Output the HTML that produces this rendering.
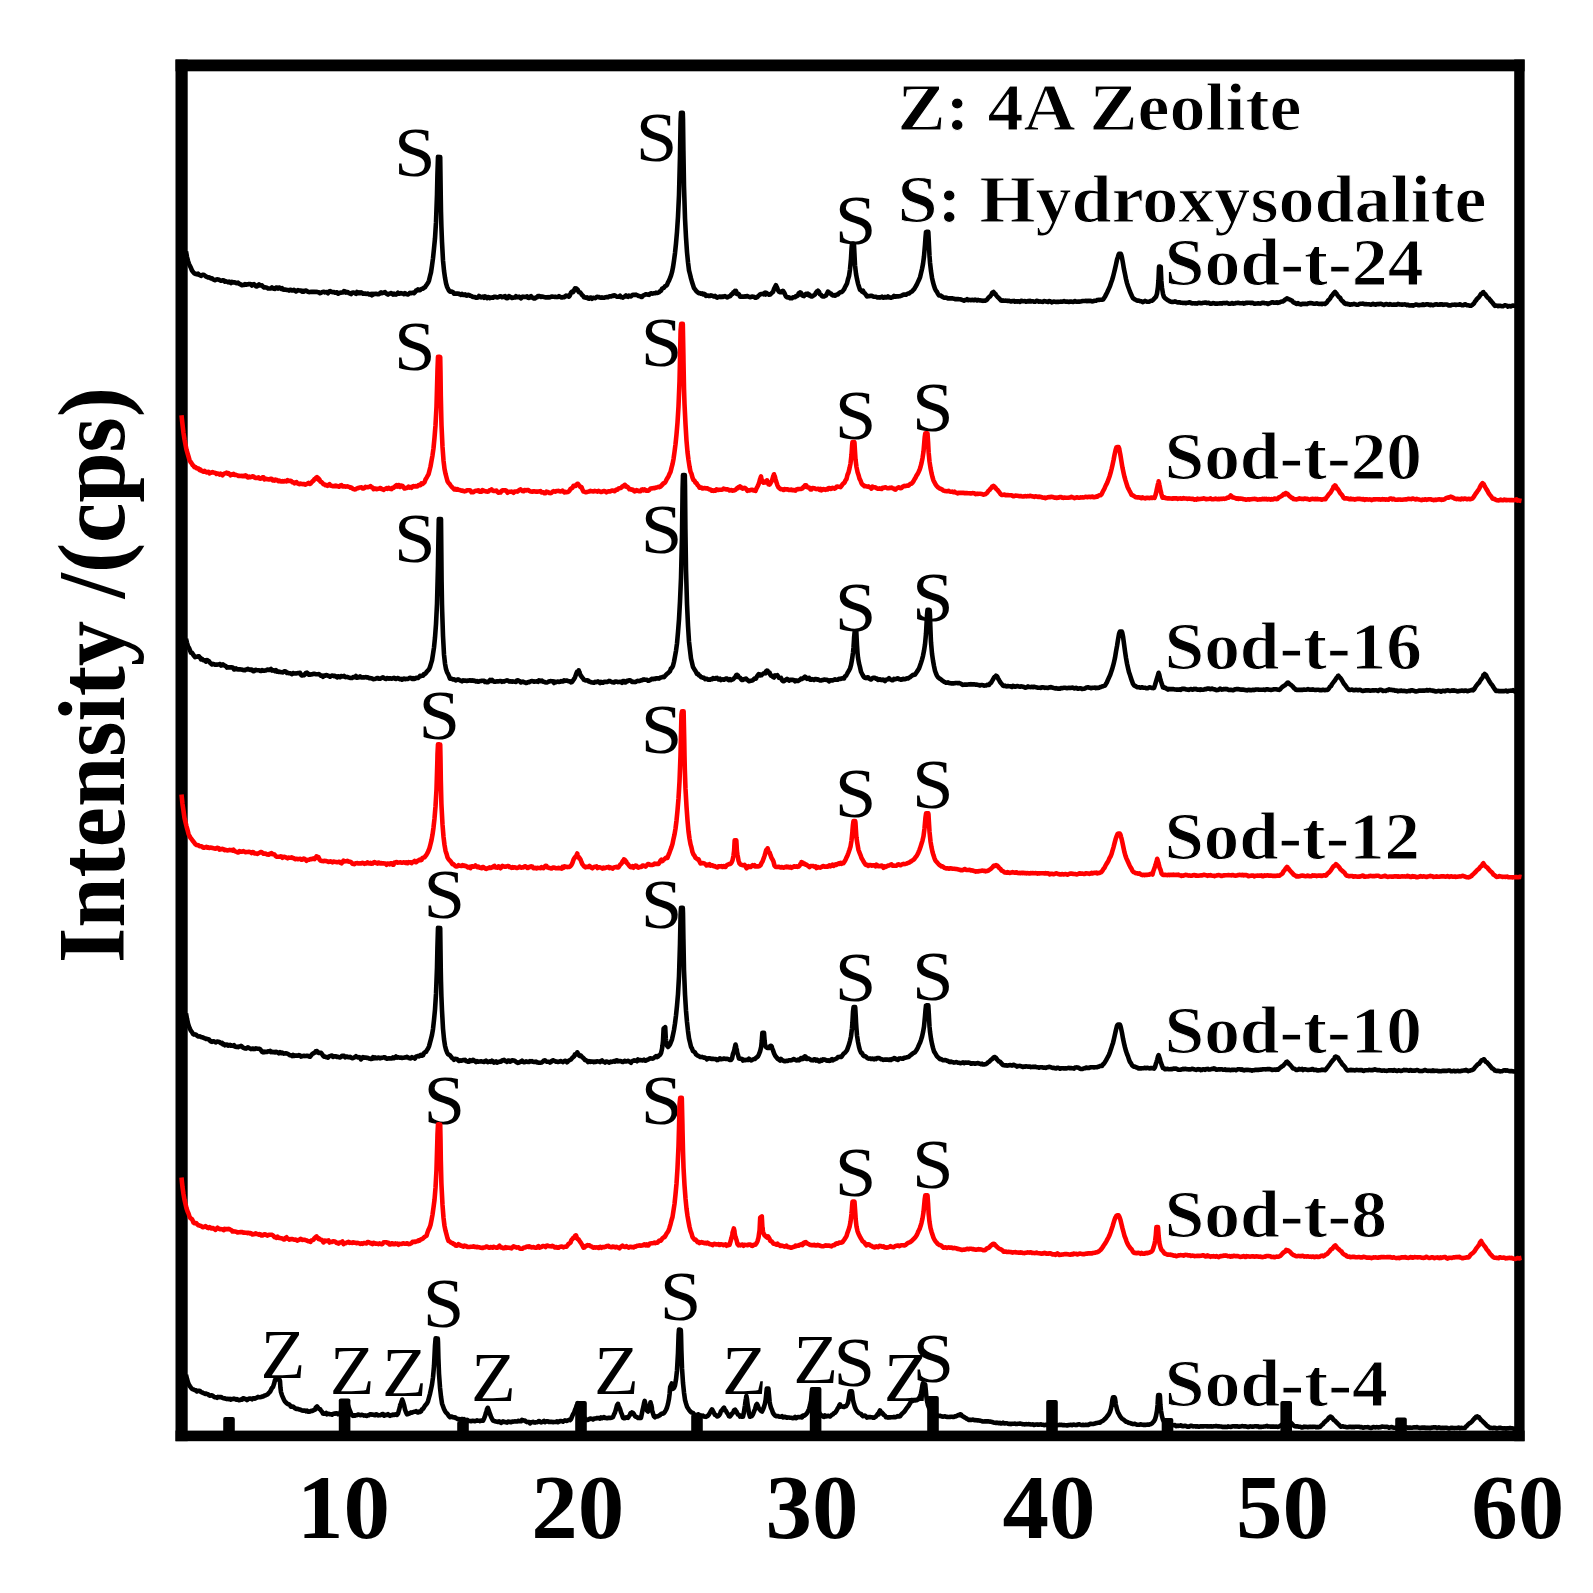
<!DOCTYPE html>
<html lang="en">
<head>
<meta charset="utf-8">
<title>XRD patterns</title>
<style>
html,body{margin:0;padding:0;background:#fff;}
body{width:1593px;height:1593px;overflow:hidden;}
svg{display:block;filter:blur(0.6px);}
</style>
</head>
<body>
<svg width="1593" height="1593" viewBox="0 0 1593 1593">
<rect width="1593" height="1593" fill="#fff"/>
<g fill="#000">
<rect x="175.5" y="59.5" width="1349.1" height="11.8"/>
<rect x="175.5" y="1430.6" width="1349.1" height="10.6"/>
<rect x="175.5" y="59.5" width="12.2" height="1381.7"/>
<rect x="1514.2" y="59.5" width="10.4" height="1381.7"/>
<path d="M223.2 1432 V1419.0 q0 -2 2 -2 h7.6 q2 0 2 2 V1432z"/>
<path d="M338.8 1432 V1400.5 q0 -2 2 -2 h7.6 q2 0 2 2 V1432z"/>
<path d="M457.2 1432 V1423.0 q0 -2 2 -2 h7.6 q2 0 2 2 V1432z"/>
<path d="M575.2 1432 V1403.0 q0 -2 2 -2 h7.6 q2 0 2 2 V1432z"/>
<path d="M691.2 1432 V1416.0 q0 -2 2 -2 h7.6 q2 0 2 2 V1432z"/>
<path d="M809.8 1432 V1389.0 q0 -2 2 -2 h7.6 q2 0 2 2 V1432z"/>
<path d="M927.2 1432 V1398.0 q0 -2 2 -2 h7.6 q2 0 2 2 V1432z"/>
<path d="M1046.2 1432 V1402.0 q0 -2 2 -2 h7.6 q2 0 2 2 V1432z"/>
<path d="M1161.7 1432 V1420.0 q0 -2 2 -2 h7.6 q2 0 2 2 V1432z"/>
<path d="M1280.4 1432 V1403.0 q0 -2 2 -2 h7.6 q2 0 2 2 V1432z"/>
<path d="M1395.2 1432 V1419.5 q0 -2 2 -2 h7.6 q2 0 2 2 V1432z"/>
</g>
<g font-family="'Liberation Serif', 'Times New Roman', serif" fill="#000">
<text x="394.0" y="175.7" font-size="70.0" font-weight="normal" textLength="41.6" lengthAdjust="spacingAndGlyphs">S</text>
<text x="635.8" y="161.4" font-size="70.0" font-weight="normal" textLength="41.6" lengthAdjust="spacingAndGlyphs">S</text>
<text x="834.7" y="243.5" font-size="70.0" font-weight="normal" textLength="41.6" lengthAdjust="spacingAndGlyphs">S</text>
<text x="394.0" y="369.7" font-size="70.0" font-weight="normal" textLength="41.6" lengthAdjust="spacingAndGlyphs">S</text>
<text x="640.7" y="365.9" font-size="70.0" font-weight="normal" textLength="41.6" lengthAdjust="spacingAndGlyphs">S</text>
<text x="834.7" y="439.4" font-size="70.0" font-weight="normal" textLength="41.6" lengthAdjust="spacingAndGlyphs">S</text>
<text x="911.9" y="431.1" font-size="70.0" font-weight="normal" textLength="41.6" lengthAdjust="spacingAndGlyphs">S</text>
<text x="394.0" y="561.8" font-size="70.0" font-weight="normal" textLength="41.6" lengthAdjust="spacingAndGlyphs">S</text>
<text x="640.7" y="553.1" font-size="70.0" font-weight="normal" textLength="41.6" lengthAdjust="spacingAndGlyphs">S</text>
<text x="834.7" y="630.7" font-size="70.0" font-weight="normal" textLength="41.6" lengthAdjust="spacingAndGlyphs">S</text>
<text x="911.9" y="620.9" font-size="70.0" font-weight="normal" textLength="41.6" lengthAdjust="spacingAndGlyphs">S</text>
<text x="418.5" y="738.8" font-size="70.0" font-weight="normal" textLength="41.6" lengthAdjust="spacingAndGlyphs">S</text>
<text x="640.7" y="752.7" font-size="70.0" font-weight="normal" textLength="41.6" lengthAdjust="spacingAndGlyphs">S</text>
<text x="834.7" y="816.7" font-size="70.0" font-weight="normal" textLength="41.6" lengthAdjust="spacingAndGlyphs">S</text>
<text x="911.9" y="807.7" font-size="70.0" font-weight="normal" textLength="41.6" lengthAdjust="spacingAndGlyphs">S</text>
<text x="423.4" y="918.4" font-size="70.0" font-weight="normal" textLength="41.6" lengthAdjust="spacingAndGlyphs">S</text>
<text x="640.7" y="928.2" font-size="70.0" font-weight="normal" textLength="41.6" lengthAdjust="spacingAndGlyphs">S</text>
<text x="834.7" y="1000.6" font-size="70.0" font-weight="normal" textLength="41.6" lengthAdjust="spacingAndGlyphs">S</text>
<text x="911.9" y="999.8" font-size="70.0" font-weight="normal" textLength="41.6" lengthAdjust="spacingAndGlyphs">S</text>
<text x="423.4" y="1124.1" font-size="70.0" font-weight="normal" textLength="41.6" lengthAdjust="spacingAndGlyphs">S</text>
<text x="640.7" y="1124.1" font-size="70.0" font-weight="normal" textLength="41.6" lengthAdjust="spacingAndGlyphs">S</text>
<text x="834.7" y="1196.4" font-size="70.0" font-weight="normal" textLength="41.6" lengthAdjust="spacingAndGlyphs">S</text>
<text x="911.9" y="1188.1" font-size="70.0" font-weight="normal" textLength="41.6" lengthAdjust="spacingAndGlyphs">S</text>
<text x="422.8" y="1326.9" font-size="70.0" font-weight="normal" textLength="41.6" lengthAdjust="spacingAndGlyphs">S</text>
<text x="659.7" y="1319.8" font-size="70.0" font-weight="normal" textLength="41.6" lengthAdjust="spacingAndGlyphs">S</text>
<text x="833.4" y="1385.7" font-size="70.0" font-weight="normal" textLength="41.6" lengthAdjust="spacingAndGlyphs">S</text>
<text x="912.5" y="1382.0" font-size="70.0" font-weight="normal" textLength="41.6" lengthAdjust="spacingAndGlyphs">S</text>
<text x="260.6" y="1378.0" font-size="70.0" font-weight="normal" textLength="44.9" lengthAdjust="spacingAndGlyphs">Z</text>
<text x="329.8" y="1394.0" font-size="70.0" font-weight="normal" textLength="44.9" lengthAdjust="spacingAndGlyphs">Z</text>
<text x="382.1" y="1396.0" font-size="70.0" font-weight="normal" textLength="44.9" lengthAdjust="spacingAndGlyphs">Z</text>
<text x="471.1" y="1400.7" font-size="70.0" font-weight="normal" textLength="44.9" lengthAdjust="spacingAndGlyphs">Z</text>
<text x="594.1" y="1394.2" font-size="70.0" font-weight="normal" textLength="44.9" lengthAdjust="spacingAndGlyphs">Z</text>
<text x="722.1" y="1394.2" font-size="70.0" font-weight="normal" textLength="44.9" lengthAdjust="spacingAndGlyphs">Z</text>
<text x="793.3" y="1382.9" font-size="70.0" font-weight="normal" textLength="44.9" lengthAdjust="spacingAndGlyphs">Z</text>
<text x="883.7" y="1401.2" font-size="70.0" font-weight="normal" textLength="44.9" lengthAdjust="spacingAndGlyphs">Z</text>
<text x="897.5" y="130.4" font-size="67.0" font-weight="bold" textLength="404.0" lengthAdjust="spacingAndGlyphs" stroke="#fff" stroke-width="1.0">Z: 4A Zeolite</text>
<text x="897.5" y="221.8" font-size="67.0" font-weight="bold" textLength="589.0" lengthAdjust="spacingAndGlyphs" stroke="#fff" stroke-width="1.0">S: Hydroxysodalite</text>
<text x="1164.5" y="285.2" font-size="67.0" font-weight="bold" textLength="259.0" lengthAdjust="spacingAndGlyphs" stroke="#fff" stroke-width="1.0">Sod-t-24</text>
<text x="1164.5" y="479.0" font-size="67.0" font-weight="bold" textLength="257.5" lengthAdjust="spacingAndGlyphs" stroke="#fff" stroke-width="1.0">Sod-t-20</text>
<text x="1164.5" y="669.0" font-size="67.0" font-weight="bold" textLength="257.5" lengthAdjust="spacingAndGlyphs" stroke="#fff" stroke-width="1.0">Sod-t-16</text>
<text x="1164.5" y="859.0" font-size="67.0" font-weight="bold" textLength="255.5" lengthAdjust="spacingAndGlyphs" stroke="#fff" stroke-width="1.0">Sod-t-12</text>
<text x="1164.5" y="1053.3" font-size="67.0" font-weight="bold" textLength="257.5" lengthAdjust="spacingAndGlyphs" stroke="#fff" stroke-width="1.0">Sod-t-10</text>
<text x="1164.5" y="1237.0" font-size="67.0" font-weight="bold" textLength="222.5" lengthAdjust="spacingAndGlyphs" stroke="#fff" stroke-width="1.0">Sod-t-8</text>
<text x="1164.5" y="1406.3" font-size="67.0" font-weight="bold" textLength="223.5" lengthAdjust="spacingAndGlyphs" stroke="#fff" stroke-width="1.0">Sod-t-4</text>
<text x="297.1" y="1537.5" font-size="90.0" font-weight="bold" textLength="93.0" lengthAdjust="spacingAndGlyphs">10</text>
<text x="531.2" y="1537.5" font-size="90.0" font-weight="bold" textLength="93.0" lengthAdjust="spacingAndGlyphs">20</text>
<text x="765.5" y="1537.5" font-size="90.0" font-weight="bold" textLength="93.0" lengthAdjust="spacingAndGlyphs">30</text>
<text x="1002.4" y="1537.5" font-size="90.0" font-weight="bold" textLength="93.0" lengthAdjust="spacingAndGlyphs">40</text>
<text x="1235.9" y="1537.5" font-size="90.0" font-weight="bold" textLength="93.0" lengthAdjust="spacingAndGlyphs">50</text>
<text x="1471.2" y="1537.5" font-size="90.0" font-weight="bold" textLength="93.0" lengthAdjust="spacingAndGlyphs">60</text>
<text transform="translate(124 963) rotate(-90)" font-size="95" font-weight="bold" textLength="576" lengthAdjust="spacingAndGlyphs">Intensity /(cps)</text>
</g>
<g fill="none" stroke-width="4.6" stroke-linejoin="round" stroke-linecap="butt">
<path stroke="#000" d="M186.0 251.4 L187.0 257.0 L188.0 260.9 L189.0 264.0 L190.0 266.0 L191.0 268.1 L192.0 270.5 L193.0 271.8 L194.0 273.1 L195.0 273.6 L196.0 274.1 L197.0 274.4 L198.0 273.7 L199.0 274.7 L200.0 275.3 L201.0 275.9 L202.0 275.1 L203.0 274.7 L204.0 275.0 L205.0 275.6 L206.0 276.5 L207.0 276.9 L208.0 277.5 L209.0 277.4 L210.0 277.9 L211.0 278.4 L212.0 278.2 L213.0 279.4 L214.0 279.7 L215.0 280.2 L216.0 279.7 L217.0 279.3 L218.0 279.5 L219.0 279.8 L220.0 280.4 L221.0 280.7 L222.0 280.6 L223.0 280.3 L224.0 280.5 L225.0 281.7 L226.0 281.3 L227.0 281.8 L228.0 282.3 L229.0 281.6 L230.0 282.1 L231.0 283.1 L232.0 281.9 L233.0 282.2 L234.0 282.5 L235.0 282.4 L236.0 283.1 L237.0 283.3 L238.0 282.6 L239.0 283.6 L240.0 284.1 L241.0 284.6 L242.0 285.3 L243.0 285.1 L244.0 284.9 L245.0 284.1 L246.0 284.7 L247.0 284.4 L248.0 284.4 L249.0 284.0 L250.0 284.0 L251.0 284.2 L252.0 285.5 L253.0 284.4 L254.0 284.1 L255.0 285.0 L256.0 286.2 L257.0 286.5 L258.0 285.4 L259.0 284.4 L260.0 285.4 L261.0 285.5 L262.0 285.4 L263.0 286.6 L264.0 287.4 L265.0 287.4 L266.0 287.5 L267.0 287.7 L268.0 288.5 L269.0 288.5 L270.0 288.5 L271.0 288.5 L272.0 287.4 L273.0 288.4 L274.0 288.8 L275.0 288.9 L276.0 287.6 L277.0 287.6 L278.0 288.5 L279.0 287.5 L280.0 287.9 L281.0 288.9 L282.0 288.2 L283.0 289.5 L284.0 289.7 L285.0 289.5 L286.0 289.7 L287.0 290.0 L288.0 290.0 L289.0 290.6 L290.0 289.9 L291.0 289.8 L292.0 290.5 L293.0 290.4 L294.0 289.9 L295.0 290.7 L296.0 291.5 L297.0 290.9 L298.0 290.1 L299.0 290.4 L300.0 290.6 L301.0 290.6 L302.0 291.6 L303.0 290.8 L304.0 291.6 L305.0 290.7 L306.0 290.5 L307.0 291.1 L308.0 291.8 L309.0 292.1 L310.0 292.0 L311.0 291.9 L312.0 291.8 L313.0 292.0 L314.0 291.7 L315.0 291.8 L316.0 292.0 L317.0 291.9 L318.0 292.2 L319.0 292.3 L320.0 293.2 L321.0 292.8 L322.0 292.2 L323.0 291.9 L324.0 291.9 L325.0 292.4 L326.0 292.1 L327.0 292.3 L328.0 293.2 L329.0 291.4 L330.0 291.1 L331.0 291.6 L332.0 292.1 L333.0 292.3 L334.0 292.1 L335.0 292.6 L336.0 292.6 L337.0 292.3 L338.0 293.7 L339.0 293.4 L340.0 292.8 L341.0 292.6 L342.0 292.5 L343.0 292.5 L344.0 291.1 L345.0 291.5 L346.0 292.6 L347.0 292.0 L348.0 292.3 L349.0 293.1 L350.0 293.5 L351.0 294.1 L352.0 292.7 L353.0 292.6 L354.0 292.6 L355.0 293.2 L356.0 293.8 L357.0 292.0 L358.0 293.1 L359.0 292.3 L360.0 293.1 L361.0 292.3 L362.0 292.8 L363.0 293.7 L364.0 293.5 L365.0 293.5 L366.0 293.9 L367.0 293.8 L368.0 293.6 L369.0 294.4 L370.0 294.6 L371.0 294.0 L372.0 295.3 L373.0 293.9 L374.0 294.3 L375.0 293.8 L376.0 293.8 L377.0 294.1 L378.0 294.0 L379.0 294.2 L380.0 293.1 L381.0 292.4 L382.0 293.2 L383.0 292.8 L384.0 292.5 L385.0 292.1 L386.0 293.4 L387.0 293.9 L388.0 294.6 L389.0 293.7 L390.0 293.6 L391.0 293.0 L392.0 293.6 L393.0 294.5 L394.0 293.6 L395.0 294.4 L396.0 294.6 L397.0 294.0 L398.0 292.7 L399.0 293.8 L400.0 293.5 L401.0 293.1 L402.0 293.4 L403.0 293.6 L404.0 294.2 L405.0 293.2 L406.0 293.8 L407.0 294.2 L408.0 294.5 L409.0 293.7 L410.0 292.8 L411.0 293.2 L412.0 292.9 L413.0 292.6 L414.0 293.1 L415.0 292.3 L416.0 290.6 L417.0 290.5 L418.0 289.5 L419.0 290.2 L420.0 290.1 L421.0 289.3 L422.0 288.8 L423.0 288.7 L424.0 287.7 L425.0 287.3 L426.0 285.6 L427.0 284.3 L428.0 282.8 L429.0 280.6 L430.0 276.3 L431.0 272.4 L432.0 265.6 L433.0 258.3 L434.0 248.6 L435.0 238.3 L436.0 222.2 L437.0 194.5 L437.4 175.7 L438.0 156.9 L438.6 157.0 L439.0 156.9 L439.4 157.0 L440.0 157.0 L440.2 157.0 L440.8 199.9 L441.0 211.9 L441.4 226.5 L442.0 241.9 L443.0 260.4 L444.0 270.6 L445.0 277.7 L446.0 283.2 L447.0 286.7 L448.0 288.7 L449.0 290.6 L450.0 291.6 L451.0 291.6 L452.0 291.6 L453.0 292.2 L454.0 293.6 L455.0 293.7 L456.0 293.6 L457.0 293.8 L458.0 293.5 L459.0 294.2 L460.0 294.1 L461.0 294.9 L462.0 293.9 L463.0 294.9 L464.0 295.0 L465.0 294.3 L466.0 295.5 L467.0 295.6 L468.0 294.7 L469.0 294.9 L470.0 295.7 L471.0 295.7 L472.0 296.5 L473.0 296.9 L474.0 297.1 L475.0 297.1 L476.0 297.6 L477.0 297.6 L478.0 297.5 L479.0 296.0 L480.0 296.7 L481.0 297.4 L482.0 297.0 L483.0 296.6 L484.0 297.7 L485.0 296.4 L486.0 296.8 L487.0 298.1 L488.0 297.1 L489.0 297.3 L490.0 298.2 L491.0 297.5 L492.0 297.6 L493.0 297.8 L494.0 296.9 L495.0 296.8 L496.0 297.0 L497.0 297.4 L498.0 297.2 L499.0 296.9 L500.0 296.3 L501.0 296.3 L502.0 297.1 L503.0 297.0 L504.0 296.5 L505.0 296.2 L506.0 298.0 L507.0 298.2 L508.0 298.0 L509.0 296.1 L510.0 296.8 L511.0 297.1 L512.0 298.0 L513.0 297.8 L514.0 297.4 L515.0 297.5 L516.0 296.2 L517.0 297.1 L518.0 297.2 L519.0 296.7 L520.0 297.6 L521.0 298.3 L522.0 297.0 L523.0 296.6 L524.0 296.9 L525.0 297.0 L526.0 296.8 L527.0 296.3 L528.0 297.8 L529.0 298.0 L530.0 296.9 L531.0 296.2 L532.0 297.5 L533.0 297.8 L534.0 298.5 L535.0 298.4 L536.0 297.3 L537.0 297.3 L538.0 296.0 L539.0 296.0 L540.0 296.4 L541.0 296.9 L542.0 296.5 L543.0 296.7 L544.0 297.0 L545.0 297.2 L546.0 297.5 L547.0 297.4 L548.0 297.1 L549.0 297.5 L550.0 297.3 L551.0 296.7 L552.0 296.5 L553.0 296.7 L554.0 296.7 L555.0 296.9 L556.0 296.9 L557.0 297.1 L558.0 296.9 L559.0 296.2 L560.0 296.8 L561.0 297.4 L562.0 297.5 L563.0 297.1 L564.0 297.3 L565.0 296.6 L566.0 295.6 L567.0 296.1 L568.0 295.8 L569.0 296.6 L570.0 295.1 L571.0 292.7 L572.0 291.7 L573.0 292.1 L574.0 290.6 L574.5 289.3 L575.0 288.5 L575.1 289.1 L575.7 288.7 L576.0 288.4 L576.5 288.6 L577.0 289.2 L577.3 289.2 L577.9 290.1 L578.0 290.9 L578.5 291.5 L579.0 292.3 L580.0 292.4 L581.0 293.5 L582.0 295.0 L583.0 295.8 L584.0 297.3 L585.0 297.5 L586.0 297.7 L587.0 297.3 L588.0 298.5 L589.0 298.6 L590.0 297.8 L591.0 297.5 L592.0 298.7 L593.0 297.8 L594.0 297.9 L595.0 298.1 L596.0 297.6 L597.0 296.7 L598.0 296.9 L599.0 297.1 L600.0 297.6 L601.0 297.8 L602.0 297.4 L603.0 297.7 L604.0 297.7 L605.0 297.4 L606.0 297.3 L607.0 297.0 L608.0 297.3 L609.0 296.5 L610.0 296.3 L611.0 296.5 L612.0 295.8 L613.0 296.0 L614.0 295.2 L615.0 295.4 L616.0 296.3 L617.0 296.8 L618.0 296.7 L619.0 296.6 L620.0 295.8 L621.0 297.2 L622.0 297.2 L623.0 297.6 L624.0 296.7 L625.0 296.5 L626.0 295.5 L627.0 296.3 L628.0 296.9 L629.0 295.6 L630.0 295.9 L631.0 296.4 L632.0 295.4 L633.0 294.7 L634.0 294.7 L635.0 294.9 L636.0 294.6 L637.0 295.2 L638.0 295.6 L639.0 296.1 L640.0 296.3 L641.0 296.9 L642.0 297.0 L643.0 295.6 L644.0 295.2 L645.0 294.6 L646.0 294.2 L647.0 294.5 L648.0 294.6 L649.0 294.9 L650.0 293.8 L651.0 293.3 L652.0 293.6 L653.0 293.5 L654.0 293.3 L655.0 293.2 L656.0 292.6 L657.0 292.9 L658.0 292.7 L659.0 292.2 L660.0 291.3 L661.0 290.7 L662.0 288.7 L663.0 288.1 L664.0 287.8 L665.0 286.3 L666.0 285.8 L667.0 284.8 L668.0 282.4 L669.0 280.6 L670.0 278.2 L671.0 275.6 L672.0 272.2 L673.0 267.3 L674.0 260.7 L675.0 253.1 L676.0 243.5 L677.0 231.9 L678.0 216.6 L679.0 195.1 L680.0 155.8 L680.6 121.4 L681.0 112.9 L681.2 112.9 L682.0 112.9 L682.8 112.9 L683.0 119.1 L683.4 150.4 L684.0 186.4 L685.0 218.3 L686.0 237.3 L687.0 252.1 L688.0 262.3 L689.0 270.4 L690.0 274.3 L691.0 278.4 L692.0 282.0 L693.0 285.0 L694.0 288.1 L695.0 289.3 L696.0 290.8 L697.0 291.7 L698.0 292.6 L699.0 293.1 L700.0 293.1 L701.0 293.7 L702.0 293.3 L703.0 294.4 L704.0 293.9 L705.0 294.4 L706.0 295.9 L707.0 295.5 L708.0 295.5 L709.0 296.1 L710.0 295.9 L711.0 295.4 L712.0 295.7 L713.0 296.1 L714.0 296.5 L715.0 295.9 L716.0 297.0 L717.0 297.6 L718.0 297.1 L719.0 296.9 L720.0 296.5 L721.0 297.2 L722.0 296.5 L723.0 296.9 L724.0 296.5 L725.0 296.1 L726.0 296.7 L727.0 297.4 L728.0 297.0 L729.0 296.4 L730.0 296.3 L731.0 295.0 L732.0 294.0 L732.7 293.8 L733.0 293.6 L733.3 292.4 L733.9 292.8 L734.0 292.0 L734.7 291.3 L735.0 290.9 L735.5 291.4 L736.0 291.0 L736.1 292.5 L736.7 293.9 L737.0 293.2 L738.0 293.6 L739.0 294.3 L740.0 296.6 L741.0 296.5 L742.0 296.6 L743.0 296.6 L744.0 296.7 L745.0 296.2 L746.0 296.6 L747.0 296.0 L748.0 296.4 L749.0 296.8 L750.0 297.2 L751.0 297.0 L752.0 296.5 L753.0 296.8 L754.0 296.7 L755.0 297.7 L756.0 297.8 L757.0 297.3 L758.0 296.3 L759.0 295.4 L760.0 294.5 L761.0 294.1 L762.0 293.9 L763.0 293.7 L763.6 293.6 L764.0 294.3 L764.2 293.3 L765.0 292.7 L765.8 294.5 L766.0 292.9 L766.4 292.8 L767.0 293.4 L768.0 294.0 L769.0 294.8 L770.0 294.6 L771.0 293.8 L772.0 292.7 L773.0 291.9 L774.0 289.0 L774.6 287.7 L775.0 287.4 L775.2 286.7 L776.0 285.2 L776.8 287.3 L777.0 287.4 L777.4 288.7 L778.0 290.2 L779.0 291.7 L780.0 292.2 L781.0 292.2 L781.6 291.4 L782.0 291.6 L782.2 292.0 L783.0 290.9 L783.8 292.1 L784.0 292.9 L784.4 292.9 L785.0 294.3 L786.0 296.6 L787.0 297.2 L788.0 297.4 L789.0 297.3 L790.0 298.1 L791.0 298.0 L792.0 298.2 L793.0 297.4 L794.0 297.3 L795.0 297.2 L796.0 296.0 L797.0 296.1 L798.0 295.4 L798.6 293.4 L799.0 293.5 L799.2 293.2 L800.0 292.5 L800.8 293.5 L801.0 292.8 L801.4 293.5 L802.0 295.2 L803.0 295.8 L804.0 296.1 L805.0 294.9 L806.0 293.8 L806.6 293.9 L807.0 294.7 L807.2 294.5 L808.0 293.6 L808.8 295.4 L809.0 294.7 L809.4 294.5 L810.0 295.4 L811.0 296.5 L812.0 296.5 L813.0 295.9 L814.0 295.3 L815.0 294.5 L816.0 292.6 L816.6 292.0 L817.0 291.4 L817.2 291.7 L818.0 290.8 L818.8 291.7 L819.0 291.8 L819.4 292.9 L820.0 294.3 L821.0 294.8 L822.0 296.2 L823.0 296.4 L824.0 296.5 L825.0 295.9 L826.0 295.6 L826.6 294.2 L827.0 293.6 L827.2 293.3 L828.0 291.6 L828.8 292.6 L829.0 292.5 L829.4 293.4 L830.0 293.4 L831.0 293.5 L832.0 294.9 L833.0 295.4 L834.0 295.1 L835.0 295.6 L836.0 295.1 L837.0 294.4 L838.0 294.5 L839.0 293.1 L840.0 292.5 L841.0 292.1 L842.0 291.9 L843.0 290.7 L844.0 289.4 L845.0 287.3 L846.0 285.4 L847.0 283.5 L848.0 279.3 L849.0 276.1 L850.0 269.3 L851.0 258.6 L851.6 247.9 L852.0 243.6 L852.2 243.5 L853.0 243.5 L853.8 243.5 L854.0 245.0 L854.4 253.0 L855.0 265.2 L856.0 273.8 L857.0 279.1 L858.0 283.6 L859.0 286.7 L860.0 289.7 L861.0 290.3 L862.0 291.5 L863.0 290.7 L864.0 292.8 L865.0 293.5 L866.0 294.9 L867.0 296.4 L868.0 296.3 L869.0 296.1 L870.0 296.0 L871.0 295.7 L872.0 295.7 L873.0 296.5 L874.0 296.7 L875.0 296.8 L876.0 296.8 L877.0 297.4 L878.0 297.5 L879.0 297.3 L880.0 297.6 L881.0 297.3 L882.0 296.6 L883.0 297.6 L884.0 297.6 L885.0 296.9 L886.0 297.5 L887.0 297.5 L888.0 296.4 L889.0 297.5 L890.0 297.4 L891.0 297.7 L892.0 297.4 L893.0 297.0 L894.0 296.0 L895.0 296.7 L896.0 296.6 L897.0 296.3 L898.0 296.4 L899.0 296.2 L900.0 296.2 L901.0 295.8 L902.0 295.6 L903.0 294.7 L904.0 294.5 L905.0 294.6 L906.0 294.7 L907.0 294.1 L908.0 293.5 L909.0 293.5 L910.0 292.6 L911.0 292.0 L912.0 291.5 L913.0 290.3 L914.0 289.4 L915.0 287.6 L916.0 286.0 L917.0 284.1 L918.0 281.9 L919.0 279.7 L920.0 277.4 L921.0 273.3 L922.0 269.0 L923.0 264.0 L924.0 256.4 L925.0 244.7 L925.5 237.4 L926.0 232.1 L926.1 231.9 L926.7 231.8 L927.0 231.9 L927.5 231.9 L928.0 231.9 L928.3 231.9 L928.9 243.0 L929.0 245.6 L929.5 255.9 L930.0 262.4 L931.0 271.2 L932.0 277.7 L933.0 282.2 L934.0 285.8 L935.0 288.8 L936.0 290.8 L937.0 291.9 L938.0 294.0 L939.0 295.4 L940.0 295.2 L941.0 295.8 L942.0 296.5 L943.0 297.2 L944.0 297.6 L945.0 297.7 L946.0 297.6 L947.0 298.0 L948.0 298.5 L949.0 298.3 L950.0 298.2 L951.0 298.5 L952.0 298.2 L953.0 298.5 L954.0 298.7 L955.0 299.1 L956.0 299.1 L957.0 299.0 L958.0 299.1 L959.0 299.3 L960.0 299.3 L961.0 299.5 L962.0 299.9 L963.0 300.2 L964.0 300.6 L965.0 300.1 L966.0 300.0 L967.0 299.2 L968.0 300.2 L969.0 299.9 L970.0 300.0 L971.0 300.2 L972.0 299.8 L973.0 300.1 L974.0 300.2 L975.0 299.6 L976.0 300.0 L977.0 300.5 L978.0 299.9 L979.0 300.3 L980.0 300.4 L981.0 300.5 L982.0 300.6 L983.0 300.9 L984.0 300.6 L985.0 300.7 L986.0 300.4 L987.0 299.7 L988.0 298.2 L989.0 297.1 L990.0 296.5 L991.0 295.2 L991.5 294.3 L992.0 293.2 L992.1 293.0 L992.7 292.4 L993.0 292.4 L993.5 292.0 L994.0 292.6 L994.3 292.8 L994.9 293.9 L995.0 293.7 L995.5 294.1 L996.0 295.1 L997.0 296.3 L998.0 297.4 L999.0 298.3 L1000.0 299.4 L1001.0 300.6 L1002.0 300.8 L1003.0 300.4 L1004.0 300.7 L1005.0 300.8 L1006.0 300.6 L1007.0 300.9 L1008.0 300.9 L1009.0 300.8 L1010.0 301.1 L1011.0 301.5 L1012.0 301.1 L1013.0 301.2 L1014.0 300.9 L1015.0 301.7 L1016.0 301.3 L1017.0 301.6 L1018.0 301.2 L1019.0 301.5 L1020.0 302.0 L1021.0 300.9 L1022.0 300.9 L1023.0 301.2 L1024.0 301.2 L1025.0 301.0 L1026.0 301.8 L1027.0 301.6 L1028.0 301.0 L1029.0 301.4 L1030.0 300.9 L1031.0 301.4 L1032.0 301.2 L1033.0 301.3 L1034.0 301.8 L1035.0 301.7 L1036.0 301.1 L1037.0 300.7 L1038.0 301.4 L1039.0 301.7 L1040.0 301.3 L1041.0 301.7 L1042.0 301.8 L1043.0 301.9 L1044.0 301.0 L1045.0 301.2 L1046.0 301.6 L1047.0 301.8 L1048.0 302.0 L1049.0 301.1 L1050.0 301.3 L1051.0 301.6 L1052.0 302.4 L1053.0 301.8 L1054.0 301.6 L1055.0 301.7 L1056.0 301.9 L1057.0 301.7 L1058.0 302.0 L1059.0 301.7 L1060.0 301.8 L1061.0 301.6 L1062.0 301.7 L1063.0 301.5 L1064.0 301.1 L1065.0 301.6 L1066.0 301.8 L1067.0 301.5 L1068.0 301.7 L1069.0 302.0 L1070.0 301.5 L1071.0 301.6 L1072.0 301.8 L1073.0 301.9 L1074.0 301.7 L1075.0 301.0 L1076.0 301.6 L1077.0 301.7 L1078.0 301.6 L1079.0 301.5 L1080.0 301.6 L1081.0 301.4 L1082.0 301.1 L1083.0 301.0 L1084.0 301.0 L1085.0 301.0 L1086.0 300.8 L1087.0 301.2 L1088.0 300.8 L1089.0 301.1 L1090.0 300.8 L1091.0 301.0 L1092.0 301.4 L1093.0 301.3 L1094.0 300.9 L1095.0 300.8 L1096.0 300.7 L1097.0 300.1 L1098.0 299.9 L1099.0 300.0 L1100.0 299.8 L1101.0 299.7 L1102.0 299.8 L1103.0 299.6 L1104.0 298.2 L1105.0 296.6 L1106.0 294.6 L1107.0 292.7 L1108.0 290.6 L1109.0 288.4 L1110.0 286.1 L1111.0 283.0 L1112.0 280.2 L1113.0 277.0 L1114.0 273.0 L1115.0 268.9 L1116.0 264.5 L1117.0 259.8 L1118.0 256.7 L1118.6 254.6 L1119.0 253.9 L1119.2 253.9 L1120.0 253.9 L1120.8 253.9 L1121.0 254.3 L1121.4 255.4 L1122.0 257.9 L1123.0 263.3 L1124.0 269.3 L1125.0 273.9 L1126.0 279.0 L1127.0 283.1 L1128.0 286.3 L1129.0 289.0 L1130.0 291.8 L1131.0 294.0 L1132.0 296.2 L1133.0 298.1 L1134.0 298.8 L1135.0 299.5 L1136.0 300.0 L1137.0 300.6 L1138.0 300.5 L1139.0 300.7 L1140.0 301.1 L1141.0 301.2 L1142.0 301.6 L1143.0 302.1 L1144.0 301.5 L1145.0 300.9 L1146.0 301.3 L1147.0 301.8 L1148.0 301.8 L1149.0 301.8 L1150.0 301.3 L1151.0 300.8 L1152.0 300.8 L1153.0 300.0 L1154.0 298.9 L1155.0 297.7 L1156.0 296.8 L1157.0 293.6 L1157.9 287.4 L1158.0 286.2 L1158.5 280.3 L1159.0 267.7 L1159.1 266.6 L1159.9 266.6 L1160.0 266.6 L1160.7 266.7 L1161.0 273.5 L1161.3 280.4 L1161.9 287.2 L1162.0 287.9 L1163.0 293.9 L1164.0 296.9 L1165.0 298.2 L1166.0 298.9 L1167.0 299.6 L1168.0 300.3 L1169.0 300.9 L1170.0 301.4 L1171.0 301.8 L1172.0 302.0 L1173.0 301.9 L1174.0 301.8 L1175.0 301.4 L1176.0 301.7 L1177.0 302.2 L1178.0 302.4 L1179.0 302.4 L1180.0 302.4 L1181.0 302.8 L1182.0 302.7 L1183.0 302.9 L1184.0 303.0 L1185.0 302.9 L1186.0 303.2 L1187.0 302.8 L1188.0 302.7 L1189.0 302.4 L1190.0 302.3 L1191.0 303.0 L1192.0 303.4 L1193.0 303.2 L1194.0 303.2 L1195.0 303.4 L1196.0 303.4 L1197.0 303.6 L1198.0 302.9 L1199.0 302.7 L1200.0 302.9 L1201.0 303.3 L1202.0 303.2 L1203.0 302.8 L1204.0 302.7 L1205.0 302.6 L1206.0 302.5 L1207.0 303.1 L1208.0 302.9 L1209.0 302.9 L1210.0 303.6 L1211.0 303.7 L1212.0 303.5 L1213.0 303.1 L1214.0 303.2 L1215.0 303.6 L1216.0 303.6 L1217.0 303.8 L1218.0 303.5 L1219.0 303.5 L1220.0 303.3 L1221.0 303.3 L1222.0 303.6 L1223.0 303.0 L1224.0 303.0 L1225.0 303.1 L1226.0 303.0 L1227.0 302.9 L1228.0 303.3 L1229.0 303.8 L1230.0 303.8 L1231.0 303.6 L1232.0 303.0 L1233.0 303.7 L1234.0 303.5 L1235.0 303.4 L1236.0 303.0 L1237.0 303.0 L1238.0 302.8 L1239.0 303.0 L1240.0 303.2 L1241.0 303.3 L1242.0 303.3 L1243.0 303.1 L1244.0 303.6 L1245.0 303.3 L1246.0 302.7 L1247.0 302.9 L1248.0 302.8 L1249.0 302.7 L1250.0 302.8 L1251.0 303.1 L1252.0 302.8 L1253.0 303.0 L1254.0 303.6 L1255.0 303.7 L1256.0 303.5 L1257.0 303.5 L1258.0 303.4 L1259.0 303.4 L1260.0 303.6 L1261.0 303.5 L1262.0 302.7 L1263.0 303.0 L1264.0 302.9 L1265.0 303.3 L1266.0 303.2 L1267.0 303.3 L1268.0 304.0 L1269.0 303.5 L1270.0 303.1 L1271.0 302.8 L1272.0 302.3 L1273.0 302.2 L1274.0 302.8 L1275.0 302.8 L1276.0 302.5 L1277.0 302.4 L1278.0 302.9 L1279.0 302.6 L1280.0 302.1 L1281.0 301.8 L1282.0 301.6 L1283.0 301.4 L1284.0 300.7 L1285.0 299.8 L1285.6 299.2 L1286.0 299.3 L1286.2 299.3 L1287.0 298.4 L1287.8 298.8 L1288.0 298.9 L1288.4 299.1 L1289.0 299.3 L1290.0 299.6 L1291.0 300.3 L1292.0 300.6 L1293.0 302.0 L1294.0 302.8 L1295.0 302.9 L1296.0 303.7 L1297.0 303.9 L1298.0 303.2 L1299.0 303.9 L1300.0 304.1 L1301.0 304.5 L1302.0 303.8 L1303.0 303.9 L1304.0 303.9 L1305.0 303.9 L1306.0 303.9 L1307.0 304.1 L1308.0 303.5 L1309.0 303.2 L1310.0 303.0 L1311.0 303.1 L1312.0 303.2 L1313.0 303.5 L1314.0 303.7 L1315.0 303.7 L1316.0 303.5 L1317.0 303.4 L1318.0 303.8 L1319.0 304.0 L1320.0 303.9 L1321.0 303.7 L1322.0 304.1 L1323.0 303.7 L1324.0 303.8 L1325.0 304.0 L1326.0 303.2 L1327.0 302.3 L1328.0 300.6 L1329.0 299.8 L1330.0 298.6 L1331.0 296.7 L1332.0 295.7 L1333.0 294.1 L1333.6 293.8 L1334.0 293.0 L1334.2 292.8 L1335.0 292.0 L1335.8 292.8 L1336.0 293.1 L1336.4 293.5 L1337.0 294.5 L1338.0 295.9 L1339.0 297.2 L1340.0 297.6 L1341.0 299.6 L1342.0 300.8 L1343.0 301.4 L1344.0 302.8 L1345.0 303.6 L1346.0 304.0 L1347.0 303.6 L1348.0 304.2 L1349.0 304.1 L1350.0 304.8 L1351.0 304.4 L1352.0 304.4 L1353.0 304.2 L1354.0 303.8 L1355.0 304.2 L1356.0 304.4 L1357.0 304.8 L1358.0 304.8 L1359.0 304.3 L1360.0 303.7 L1361.0 303.7 L1362.0 303.7 L1363.0 303.6 L1364.0 304.0 L1365.0 304.2 L1366.0 304.1 L1367.0 304.2 L1368.0 304.2 L1369.0 304.3 L1370.0 304.5 L1371.0 304.7 L1372.0 304.3 L1373.0 303.8 L1374.0 304.4 L1375.0 304.4 L1376.0 304.7 L1377.0 304.0 L1378.0 304.0 L1379.0 304.2 L1380.0 303.8 L1381.0 303.8 L1382.0 304.3 L1383.0 304.6 L1384.0 305.0 L1385.0 304.5 L1386.0 304.0 L1387.0 304.3 L1388.0 304.6 L1389.0 304.6 L1390.0 304.1 L1391.0 304.5 L1392.0 304.7 L1393.0 304.8 L1394.0 304.5 L1395.0 304.6 L1396.0 304.8 L1397.0 304.5 L1398.0 303.9 L1399.0 304.2 L1400.0 304.5 L1401.0 304.5 L1402.0 304.8 L1403.0 304.5 L1404.0 304.5 L1405.0 304.4 L1406.0 304.7 L1407.0 305.1 L1408.0 304.8 L1409.0 305.4 L1410.0 305.5 L1411.0 305.4 L1412.0 305.3 L1413.0 305.6 L1414.0 305.2 L1415.0 304.9 L1416.0 304.5 L1417.0 304.7 L1418.0 305.1 L1419.0 305.1 L1420.0 305.1 L1421.0 304.9 L1422.0 304.9 L1423.0 304.4 L1424.0 304.9 L1425.0 304.7 L1426.0 304.4 L1427.0 304.4 L1428.0 304.3 L1429.0 304.8 L1430.0 305.1 L1431.0 304.6 L1432.0 305.0 L1433.0 305.2 L1434.0 304.9 L1435.0 304.5 L1436.0 304.4 L1437.0 304.4 L1438.0 304.8 L1439.0 304.7 L1440.0 304.2 L1441.0 304.6 L1442.0 304.3 L1443.0 304.9 L1444.0 304.6 L1445.0 304.5 L1446.0 304.5 L1447.0 304.5 L1448.0 305.2 L1449.0 305.4 L1450.0 305.4 L1451.0 305.4 L1452.0 304.8 L1453.0 304.8 L1454.0 304.7 L1455.0 304.6 L1456.0 305.0 L1457.0 304.8 L1458.0 304.7 L1459.0 304.6 L1460.0 304.2 L1461.0 304.7 L1462.0 305.3 L1463.0 305.3 L1464.0 304.9 L1465.0 304.2 L1466.0 304.6 L1467.0 305.2 L1468.0 305.2 L1469.0 305.4 L1470.0 305.7 L1471.0 305.7 L1472.0 305.1 L1473.0 304.3 L1474.0 303.3 L1475.0 301.5 L1476.0 300.4 L1477.0 298.9 L1478.0 298.0 L1479.0 297.1 L1480.0 295.5 L1481.0 293.8 L1481.4 294.1 L1482.0 293.5 L1482.6 293.3 L1483.0 292.3 L1483.4 292.2 L1484.0 293.4 L1484.2 293.9 L1484.8 294.1 L1485.0 294.2 L1485.4 294.4 L1486.0 295.4 L1487.0 296.8 L1488.0 297.9 L1489.0 298.5 L1490.0 300.0 L1491.0 301.0 L1492.0 302.3 L1493.0 303.4 L1494.0 304.8 L1495.0 305.9 L1496.0 305.6 L1497.0 305.7 L1498.0 306.1 L1499.0 305.7 L1500.0 305.8 L1501.0 306.1 L1502.0 306.3 L1503.0 306.2 L1504.0 305.6 L1505.0 305.3 L1506.0 305.6 L1507.0 305.8 L1508.0 306.6 L1509.0 306.0 L1510.0 306.3 L1511.0 306.4 L1512.0 305.7 L1513.0 305.5 L1514.0 305.7 L1515.0 305.7 L1516.0 305.7"/>
<path stroke="#f00" d="M181.5 415.3 L182.5 424.5 L183.5 433.0 L184.5 439.3 L185.5 444.7 L186.5 449.7 L187.5 453.2 L188.5 456.5 L189.5 460.0 L190.5 461.8 L191.5 463.2 L192.5 465.0 L193.5 465.7 L194.5 467.3 L195.5 467.1 L196.5 468.2 L197.5 468.4 L198.5 468.5 L199.5 470.1 L200.5 469.7 L201.5 470.9 L202.5 471.1 L203.5 471.7 L204.5 470.9 L205.5 471.7 L206.5 472.4 L207.5 472.0 L208.5 471.9 L209.5 473.3 L210.5 472.9 L211.5 472.5 L212.5 472.1 L213.5 472.6 L214.5 472.8 L215.5 473.0 L216.5 474.0 L217.5 473.5 L218.5 473.7 L219.5 474.5 L220.5 473.6 L221.5 474.3 L222.5 475.2 L223.5 474.0 L224.5 473.5 L225.5 473.3 L226.5 472.7 L227.5 473.7 L228.5 473.1 L229.5 474.1 L230.5 475.3 L231.5 474.4 L232.5 474.6 L233.5 473.8 L234.5 474.9 L235.5 474.8 L236.5 475.1 L237.5 475.4 L238.5 476.0 L239.5 475.9 L240.5 476.0 L241.5 475.9 L242.5 476.2 L243.5 475.7 L244.5 476.2 L245.5 475.4 L246.5 475.8 L247.5 477.4 L248.5 477.4 L249.5 476.7 L250.5 477.2 L251.5 476.8 L252.5 476.3 L253.5 476.5 L254.5 477.5 L255.5 478.0 L256.5 478.0 L257.5 477.7 L258.5 477.4 L259.5 478.6 L260.5 478.8 L261.5 478.3 L262.5 477.4 L263.5 477.3 L264.5 479.4 L265.5 478.7 L266.5 479.0 L267.5 479.3 L268.5 479.4 L269.5 479.4 L270.5 478.9 L271.5 478.8 L272.5 480.3 L273.5 479.9 L274.5 480.6 L275.5 479.6 L276.5 479.9 L277.5 480.4 L278.5 481.2 L279.5 480.6 L280.5 481.2 L281.5 481.5 L282.5 481.1 L283.5 481.5 L284.5 481.1 L285.5 481.0 L286.5 481.4 L287.5 480.2 L288.5 480.9 L289.5 480.9 L290.5 480.7 L291.5 481.3 L292.5 482.3 L293.5 482.3 L294.5 483.3 L295.5 482.6 L296.5 482.1 L297.5 483.5 L298.5 483.7 L299.5 484.2 L300.5 483.5 L301.5 484.0 L302.5 484.0 L303.5 484.3 L304.5 484.1 L305.5 484.7 L306.5 484.0 L307.5 483.5 L308.5 482.9 L309.5 484.0 L310.5 483.6 L311.5 482.5 L312.5 481.4 L313.5 480.6 L314.5 479.2 L315.0 479.0 L315.5 478.4 L315.6 478.4 L316.2 477.6 L316.5 477.7 L317.0 477.2 L317.5 478.1 L317.8 478.7 L318.4 479.6 L318.5 478.4 L319.0 479.2 L319.5 479.7 L320.5 481.8 L321.5 482.0 L322.5 483.1 L323.5 484.2 L324.5 484.4 L325.5 485.3 L326.5 485.1 L327.5 485.8 L328.5 484.9 L329.5 484.2 L330.5 485.5 L331.5 485.8 L332.5 486.1 L333.5 486.1 L334.5 486.3 L335.5 485.6 L336.5 486.3 L337.5 486.0 L338.5 486.7 L339.5 486.6 L340.5 485.4 L341.5 485.1 L342.5 486.4 L343.5 486.4 L344.5 486.3 L345.5 486.6 L346.5 486.5 L347.5 486.4 L348.5 486.7 L349.5 486.9 L350.5 487.8 L351.5 487.6 L352.5 488.5 L353.5 489.1 L354.5 489.4 L355.5 489.2 L356.5 488.6 L357.5 488.3 L358.5 488.0 L359.5 487.5 L360.5 487.5 L361.5 487.3 L362.5 488.4 L363.5 488.5 L364.5 488.0 L365.5 486.9 L366.5 487.3 L367.5 487.3 L368.5 487.0 L369.5 486.8 L370.5 486.1 L371.5 487.2 L372.5 487.5 L373.5 489.2 L374.5 488.8 L375.5 488.5 L376.5 489.2 L377.5 488.9 L378.5 488.8 L379.5 488.4 L380.5 488.0 L381.5 489.0 L382.5 489.3 L383.5 489.9 L384.5 489.1 L385.5 488.8 L386.5 488.2 L387.5 488.8 L388.5 487.9 L389.5 488.4 L390.5 488.9 L391.5 489.1 L392.5 487.8 L393.5 488.0 L394.5 486.9 L395.5 486.1 L396.5 485.1 L397.1 485.9 L397.5 486.6 L397.7 485.8 L398.5 485.0 L399.3 485.2 L399.5 486.8 L399.9 487.0 L400.5 486.5 L401.5 485.6 L402.5 485.9 L403.5 487.3 L404.5 488.5 L405.5 488.2 L406.5 487.9 L407.5 487.7 L408.5 486.7 L409.5 487.6 L410.5 487.0 L411.5 487.8 L412.5 486.6 L413.5 486.1 L414.5 486.5 L415.5 486.1 L416.5 486.5 L417.5 486.2 L418.5 485.1 L419.5 485.3 L420.5 485.2 L421.5 483.4 L422.5 483.9 L423.5 483.1 L424.5 482.2 L425.5 479.5 L426.5 477.8 L427.5 476.0 L428.5 474.4 L429.5 470.5 L430.5 466.5 L431.5 460.9 L432.5 455.3 L433.5 448.2 L434.5 437.7 L435.5 425.2 L436.5 406.7 L437.4 374.1 L437.5 369.7 L438.0 356.9 L438.5 356.9 L438.6 356.9 L439.4 356.9 L439.5 356.9 L440.2 357.0 L440.5 372.6 L440.8 395.5 L441.4 421.5 L441.5 425.3 L442.5 446.9 L443.5 460.4 L444.5 468.8 L445.5 473.7 L446.5 477.5 L447.5 481.2 L448.5 482.8 L449.5 483.8 L450.5 485.4 L451.5 486.6 L452.5 487.6 L453.5 488.5 L454.5 489.5 L455.5 488.9 L456.5 489.7 L457.5 489.1 L458.5 489.8 L459.5 490.0 L460.5 490.2 L461.5 490.7 L462.5 490.6 L463.5 491.1 L464.5 491.4 L465.5 491.1 L466.5 490.6 L467.5 490.2 L468.5 490.2 L469.5 490.3 L470.5 490.5 L471.5 492.3 L472.5 492.1 L473.5 492.1 L474.5 491.2 L475.5 490.7 L476.5 490.7 L477.5 490.9 L478.5 490.4 L479.5 491.6 L480.5 491.1 L481.5 491.7 L482.5 490.2 L483.5 490.6 L484.5 491.0 L485.5 491.2 L486.5 491.5 L487.5 491.6 L488.5 491.5 L489.5 490.4 L490.5 490.3 L491.5 489.4 L492.5 490.5 L493.5 491.0 L494.5 491.0 L495.5 490.7 L496.5 490.6 L497.5 491.9 L498.5 492.7 L499.5 492.1 L500.5 492.5 L501.5 491.2 L502.5 490.2 L503.5 490.4 L504.5 490.3 L505.5 490.4 L506.5 490.9 L507.5 492.8 L508.5 491.9 L509.5 491.7 L510.5 491.7 L511.5 491.6 L512.5 492.0 L513.5 492.8 L514.5 491.5 L515.5 491.6 L516.5 491.4 L517.5 491.6 L518.5 490.7 L519.5 490.0 L520.5 489.3 L521.5 490.4 L522.5 491.0 L523.5 491.2 L524.5 490.0 L525.5 490.4 L526.5 490.4 L527.5 490.0 L528.5 490.1 L529.5 491.0 L530.5 491.5 L531.5 491.5 L532.5 491.8 L533.5 491.3 L534.5 491.4 L535.5 491.5 L536.5 491.8 L537.5 491.6 L538.5 491.5 L539.5 491.4 L540.5 491.1 L541.5 492.5 L542.5 492.4 L543.5 492.3 L544.5 493.2 L545.5 493.3 L546.5 491.7 L547.5 492.0 L548.5 492.3 L549.5 493.0 L550.5 493.1 L551.5 492.9 L552.5 491.7 L553.5 491.1 L554.5 491.4 L555.5 491.7 L556.5 491.0 L557.5 491.0 L558.5 490.9 L559.5 491.2 L560.5 491.4 L561.5 491.3 L562.5 490.6 L563.5 491.6 L564.5 492.4 L565.5 491.9 L566.5 492.2 L567.5 492.0 L568.5 491.7 L569.5 490.7 L570.5 489.0 L571.5 488.3 L572.5 487.7 L573.5 485.8 L574.5 485.8 L575.1 485.9 L575.5 485.7 L575.7 485.8 L576.5 484.5 L577.3 484.3 L577.5 483.8 L577.9 483.7 L578.5 484.6 L579.5 485.7 L580.5 487.2 L581.5 487.0 L582.5 489.7 L583.5 491.6 L584.5 491.8 L585.5 492.2 L586.5 492.1 L587.5 491.9 L588.5 491.6 L589.5 491.4 L590.5 490.9 L591.5 491.2 L592.5 491.2 L593.5 491.5 L594.5 490.9 L595.5 491.1 L596.5 491.2 L597.5 491.6 L598.5 490.9 L599.5 491.3 L600.5 491.9 L601.5 492.0 L602.5 491.5 L603.5 491.1 L604.5 491.1 L605.5 491.6 L606.5 492.3 L607.5 491.8 L608.5 491.2 L609.5 491.4 L610.5 491.4 L611.5 490.8 L612.5 490.5 L613.5 490.7 L614.5 491.2 L615.5 490.4 L616.5 489.5 L617.5 489.6 L618.5 488.5 L619.5 488.3 L620.5 488.1 L621.5 487.5 L622.5 486.3 L622.8 486.3 L623.4 485.9 L623.5 486.2 L624.0 485.5 L624.5 486.0 L624.8 484.8 L625.5 485.4 L625.6 485.6 L626.2 486.6 L626.5 486.3 L626.8 486.9 L627.5 486.9 L628.5 487.9 L629.5 489.3 L630.5 489.1 L631.5 489.7 L632.5 489.5 L633.5 490.5 L634.5 491.4 L635.5 491.0 L636.5 490.1 L637.5 490.4 L638.5 491.0 L639.5 491.3 L640.5 491.2 L641.5 489.7 L642.5 489.4 L643.5 490.3 L644.5 489.4 L645.5 490.1 L646.5 490.8 L647.5 490.6 L648.5 490.6 L649.5 489.7 L650.5 488.6 L651.5 488.5 L652.5 488.2 L653.5 488.1 L654.5 488.3 L655.5 487.8 L656.5 487.5 L657.5 487.3 L658.5 486.8 L659.5 487.2 L660.5 486.5 L661.5 485.5 L662.5 484.5 L663.5 483.2 L664.5 483.1 L665.5 481.8 L666.5 479.7 L667.5 478.0 L668.5 476.3 L669.5 473.9 L670.5 472.0 L671.5 467.9 L672.5 464.2 L673.5 459.1 L674.5 452.0 L675.5 444.3 L676.5 434.5 L677.5 422.6 L678.5 406.4 L679.5 381.7 L680.0 360.1 L680.5 335.2 L680.6 330.8 L681.2 323.9 L681.5 323.9 L682.0 323.9 L682.5 323.9 L682.8 323.9 L683.4 355.4 L683.5 362.2 L684.0 388.2 L684.5 403.7 L685.5 424.1 L686.5 440.6 L687.5 452.1 L688.5 460.0 L689.5 466.5 L690.5 471.8 L691.5 473.8 L692.5 477.6 L693.5 480.2 L694.5 480.6 L695.5 482.8 L696.5 483.0 L697.5 485.0 L698.5 485.9 L699.5 487.7 L700.5 487.4 L701.5 487.6 L702.5 488.5 L703.5 488.2 L704.5 488.0 L705.5 488.2 L706.5 488.5 L707.5 488.2 L708.5 489.0 L709.5 489.5 L710.5 489.6 L711.5 490.6 L712.5 490.2 L713.5 490.8 L714.5 490.2 L715.5 490.6 L716.5 489.3 L717.5 489.8 L718.5 489.9 L719.5 489.8 L720.5 489.7 L721.5 489.8 L722.5 489.6 L723.5 488.7 L724.5 489.1 L725.5 489.3 L726.5 489.5 L727.5 489.3 L728.5 489.7 L729.5 490.5 L730.5 490.3 L731.5 490.1 L732.5 490.6 L733.5 490.5 L734.5 490.2 L735.5 489.9 L736.5 488.7 L737.5 487.9 L738.0 488.1 L738.5 487.2 L738.6 487.0 L739.2 486.9 L739.5 486.9 L740.0 486.4 L740.5 487.1 L740.8 487.0 L741.4 487.6 L741.5 488.0 L742.0 488.3 L742.5 488.6 L743.5 488.1 L744.5 487.9 L745.5 488.4 L746.5 489.4 L747.5 490.8 L748.5 490.2 L749.5 490.5 L750.5 490.0 L751.5 489.8 L752.5 489.9 L753.5 490.4 L754.5 490.5 L755.5 490.9 L756.5 488.4 L757.5 486.6 L758.5 484.5 L759.0 482.9 L759.5 481.6 L759.6 480.8 L760.2 478.5 L760.5 477.8 L761.0 476.5 L761.5 479.5 L761.8 479.5 L762.4 481.7 L762.5 481.6 L763.0 482.3 L763.5 482.7 L764.5 482.1 L765.0 482.5 L765.5 482.4 L765.6 481.3 L766.2 481.5 L766.5 481.2 L767.0 480.3 L767.5 482.1 L767.8 482.1 L768.4 483.7 L768.5 484.2 L769.0 484.0 L769.5 484.6 L770.5 483.2 L771.5 481.4 L772.0 480.7 L772.5 478.7 L772.6 478.6 L773.2 476.2 L773.5 475.9 L774.0 474.3 L774.5 476.2 L774.8 476.4 L775.4 478.9 L775.5 479.2 L776.0 481.0 L776.5 482.5 L777.5 485.5 L778.5 487.4 L779.5 488.2 L780.5 489.1 L781.5 489.1 L782.5 489.4 L783.5 490.0 L784.5 489.1 L785.5 489.2 L786.5 489.4 L787.5 489.2 L788.5 489.9 L789.5 490.0 L790.5 489.7 L791.5 489.5 L792.5 490.3 L793.5 490.0 L794.5 490.4 L795.5 490.6 L796.5 489.4 L797.5 489.1 L798.5 489.1 L799.5 489.0 L800.5 489.0 L801.5 488.7 L802.5 488.4 L803.0 487.5 L803.5 486.9 L803.6 487.2 L804.2 486.4 L804.5 486.8 L805.0 485.3 L805.5 486.2 L805.8 486.2 L806.4 485.5 L806.5 486.6 L807.0 487.1 L807.5 487.4 L808.5 487.4 L809.5 487.9 L810.5 489.5 L811.5 489.4 L812.5 488.0 L813.5 488.3 L814.5 488.3 L815.5 488.9 L816.5 489.1 L817.5 488.9 L818.5 488.8 L819.5 489.8 L820.5 488.9 L821.5 490.3 L822.5 489.7 L823.5 489.0 L824.5 489.6 L825.5 489.9 L826.5 489.0 L827.5 489.5 L828.5 488.3 L829.5 488.0 L830.5 488.9 L831.5 488.7 L832.5 487.8 L833.5 488.2 L834.5 488.6 L835.5 488.2 L836.5 486.8 L837.5 486.6 L838.5 486.7 L839.5 486.8 L840.5 487.1 L841.5 485.8 L842.5 484.4 L843.5 483.3 L844.5 482.7 L845.5 480.3 L846.5 479.0 L847.5 474.7 L848.5 472.5 L849.5 468.4 L850.5 463.6 L851.5 454.8 L852.1 445.6 L852.5 442.1 L852.7 442.0 L853.5 442.0 L854.3 442.0 L854.5 443.2 L854.9 449.8 L855.5 459.4 L856.5 467.1 L857.5 471.9 L858.5 474.9 L859.5 478.6 L860.5 480.5 L861.5 483.2 L862.5 484.7 L863.5 485.4 L864.5 486.3 L865.5 486.1 L866.5 486.4 L867.5 486.6 L868.5 486.4 L869.5 487.1 L870.5 487.5 L871.5 488.6 L872.5 486.7 L873.5 487.1 L874.5 487.2 L875.5 487.5 L876.5 488.2 L877.5 488.6 L878.5 488.7 L879.5 488.4 L880.5 488.8 L881.5 489.0 L882.5 487.8 L883.5 488.0 L884.5 487.5 L885.5 487.3 L886.5 487.9 L887.5 488.2 L888.5 488.3 L889.5 487.9 L890.5 488.0 L891.5 487.6 L892.5 488.1 L893.5 488.5 L894.5 489.4 L895.5 489.6 L896.5 488.5 L897.5 488.0 L898.5 487.3 L899.5 487.6 L900.5 488.2 L901.5 488.0 L902.5 486.9 L903.5 486.4 L904.5 485.9 L905.5 486.1 L906.5 485.8 L907.5 485.6 L908.5 485.6 L909.5 484.6 L910.5 483.7 L911.5 483.6 L912.5 482.6 L913.5 481.2 L914.5 479.3 L915.5 477.7 L916.5 475.6 L917.5 474.2 L918.5 472.2 L919.5 470.1 L920.5 467.0 L921.5 463.1 L922.5 458.2 L923.5 451.7 L924.5 439.6 L924.7 437.4 L925.3 433.3 L925.5 433.3 L925.9 433.3 L926.5 433.3 L926.7 433.3 L927.5 433.4 L928.1 442.4 L928.5 450.1 L928.7 453.0 L929.5 461.5 L930.5 468.0 L931.5 473.1 L932.5 477.3 L933.5 480.5 L934.5 482.4 L935.5 484.3 L936.5 485.7 L937.5 486.9 L938.5 487.7 L939.5 488.4 L940.5 488.8 L941.5 489.1 L942.5 489.9 L943.5 490.6 L944.5 490.9 L945.5 491.1 L946.5 491.3 L947.5 491.2 L948.5 490.8 L949.5 491.4 L950.5 491.7 L951.5 491.7 L952.5 491.6 L953.5 492.2 L954.5 491.7 L955.5 492.6 L956.5 492.8 L957.5 493.4 L958.5 492.9 L959.5 492.9 L960.5 492.7 L961.5 492.9 L962.5 492.9 L963.5 492.7 L964.5 493.2 L965.5 493.0 L966.5 493.0 L967.5 493.3 L968.5 493.2 L969.5 493.2 L970.5 493.4 L971.5 493.4 L972.5 493.1 L973.5 493.3 L974.5 493.4 L975.5 494.1 L976.5 493.7 L977.5 494.0 L978.5 493.7 L979.5 493.7 L980.5 493.7 L981.5 493.9 L982.5 494.2 L983.5 494.7 L984.5 494.2 L985.5 494.1 L986.5 493.3 L987.5 492.3 L988.5 490.8 L989.5 490.0 L990.5 488.7 L991.5 487.6 L992.1 486.7 L992.5 486.4 L992.7 486.5 L993.5 485.9 L994.3 486.4 L994.5 486.8 L994.9 487.5 L995.5 487.7 L996.5 489.3 L997.5 489.9 L998.5 491.3 L999.5 492.5 L1000.5 494.0 L1001.5 494.9 L1002.5 495.0 L1003.5 494.8 L1004.5 494.6 L1005.5 495.1 L1006.5 495.1 L1007.5 495.0 L1008.5 495.3 L1009.5 495.2 L1010.5 495.2 L1011.5 495.2 L1012.5 495.9 L1013.5 496.3 L1014.5 496.0 L1015.5 495.5 L1016.5 495.7 L1017.5 495.8 L1018.5 496.0 L1019.5 496.2 L1020.5 496.0 L1021.5 496.3 L1022.5 496.5 L1023.5 496.5 L1024.5 496.2 L1025.5 496.1 L1026.5 496.4 L1027.5 496.1 L1028.5 496.2 L1029.5 496.1 L1030.5 495.8 L1031.5 496.3 L1032.5 496.4 L1033.5 496.5 L1034.5 496.9 L1035.5 496.3 L1036.5 496.5 L1037.5 496.7 L1038.5 497.0 L1039.5 496.6 L1040.5 497.0 L1041.5 497.1 L1042.5 497.5 L1043.5 497.7 L1044.5 497.6 L1045.5 498.1 L1046.5 497.7 L1047.5 497.4 L1048.5 497.3 L1049.5 497.0 L1050.5 497.1 L1051.5 496.7 L1052.5 496.9 L1053.5 497.3 L1054.5 497.7 L1055.5 497.5 L1056.5 498.0 L1057.5 497.6 L1058.5 497.6 L1059.5 497.1 L1060.5 497.1 L1061.5 497.1 L1062.5 497.8 L1063.5 497.9 L1064.5 497.5 L1065.5 497.7 L1066.5 497.8 L1067.5 497.7 L1068.5 497.7 L1069.5 497.5 L1070.5 497.4 L1071.5 496.9 L1072.5 497.2 L1073.5 497.7 L1074.5 498.1 L1075.5 497.8 L1076.5 497.4 L1077.5 497.4 L1078.5 497.7 L1079.5 497.7 L1080.5 497.4 L1081.5 497.5 L1082.5 497.4 L1083.5 497.5 L1084.5 497.3 L1085.5 496.8 L1086.5 497.0 L1087.5 497.2 L1088.5 496.8 L1089.5 496.8 L1090.5 497.1 L1091.5 496.8 L1092.5 496.6 L1093.5 497.1 L1094.5 497.1 L1095.5 497.0 L1096.5 496.3 L1097.5 496.6 L1098.5 495.6 L1099.5 495.3 L1100.5 495.3 L1101.5 494.4 L1102.5 492.2 L1103.5 490.3 L1104.5 488.5 L1105.5 486.0 L1106.5 484.2 L1107.5 482.1 L1108.5 479.3 L1109.5 476.5 L1110.5 473.2 L1111.5 469.3 L1112.5 464.9 L1113.5 460.3 L1114.5 455.0 L1115.5 450.5 L1115.8 449.2 L1116.4 447.6 L1116.5 447.4 L1117.0 447.0 L1117.5 447.0 L1117.8 447.0 L1118.5 447.0 L1118.6 447.0 L1119.2 448.5 L1119.5 450.3 L1119.8 451.9 L1120.5 455.5 L1121.5 461.9 L1122.5 467.8 L1123.5 472.5 L1124.5 476.9 L1125.5 480.4 L1126.5 483.6 L1127.5 486.8 L1128.5 488.9 L1129.5 490.8 L1130.5 492.6 L1131.5 494.8 L1132.5 495.2 L1133.5 495.8 L1134.5 496.4 L1135.5 497.1 L1136.5 497.2 L1137.5 497.4 L1138.5 497.2 L1139.5 497.4 L1140.5 497.9 L1141.5 498.2 L1142.5 497.4 L1143.5 497.8 L1144.5 498.3 L1145.5 498.4 L1146.5 497.7 L1147.5 497.7 L1148.5 498.0 L1149.5 498.1 L1150.5 497.8 L1151.5 497.6 L1152.5 498.0 L1153.5 497.5 L1154.5 497.9 L1155.5 495.1 L1156.5 491.1 L1156.6 490.2 L1157.2 487.5 L1157.5 486.4 L1157.8 484.6 L1158.5 482.3 L1158.6 481.4 L1159.4 484.5 L1159.5 485.2 L1160.0 487.8 L1160.5 490.4 L1160.6 490.6 L1161.5 494.3 L1162.5 497.7 L1163.5 497.8 L1164.5 497.3 L1165.5 498.0 L1166.5 498.3 L1167.5 498.4 L1168.5 498.2 L1169.5 498.4 L1170.5 498.5 L1171.5 498.5 L1172.5 498.8 L1173.5 498.2 L1174.5 498.5 L1175.5 498.2 L1176.5 498.3 L1177.5 498.9 L1178.5 498.5 L1179.5 498.5 L1180.5 498.4 L1181.5 498.8 L1182.5 498.5 L1183.5 498.1 L1184.5 498.5 L1185.5 498.5 L1186.5 498.5 L1187.5 498.9 L1188.5 498.6 L1189.5 498.6 L1190.5 498.7 L1191.5 498.9 L1192.5 498.7 L1193.5 499.1 L1194.5 499.6 L1195.5 499.2 L1196.5 499.6 L1197.5 498.7 L1198.5 499.2 L1199.5 499.0 L1200.5 499.0 L1201.5 498.8 L1202.5 498.7 L1203.5 498.4 L1204.5 498.5 L1205.5 499.0 L1206.5 499.3 L1207.5 499.1 L1208.5 498.9 L1209.5 498.7 L1210.5 498.4 L1211.5 499.2 L1212.5 499.3 L1213.5 499.2 L1214.5 498.9 L1215.5 498.6 L1216.5 499.1 L1217.5 499.3 L1218.5 498.9 L1219.5 499.2 L1220.5 498.8 L1221.5 499.0 L1222.5 498.7 L1223.5 498.6 L1224.5 498.9 L1225.5 498.6 L1226.5 498.4 L1227.5 497.5 L1228.5 497.5 L1228.8 497.6 L1229.4 497.0 L1229.5 496.9 L1230.0 496.3 L1230.5 496.0 L1230.8 495.5 L1231.5 496.0 L1231.6 496.2 L1232.2 497.0 L1232.5 497.2 L1232.8 497.5 L1233.5 497.5 L1234.5 497.8 L1235.5 498.2 L1236.5 498.7 L1237.5 498.4 L1238.5 498.9 L1239.5 498.5 L1240.5 498.5 L1241.5 498.7 L1242.5 498.7 L1243.5 499.3 L1244.5 499.2 L1245.5 499.6 L1246.5 499.7 L1247.5 499.3 L1248.5 499.3 L1249.5 499.6 L1250.5 499.3 L1251.5 499.2 L1252.5 499.0 L1253.5 499.0 L1254.5 498.9 L1255.5 499.0 L1256.5 499.3 L1257.5 499.6 L1258.5 499.5 L1259.5 499.4 L1260.5 499.5 L1261.5 499.2 L1262.5 498.9 L1263.5 499.3 L1264.5 498.9 L1265.5 499.3 L1266.5 498.9 L1267.5 499.5 L1268.5 499.0 L1269.5 499.3 L1270.5 499.6 L1271.5 499.1 L1272.5 499.5 L1273.5 499.1 L1274.5 498.5 L1275.5 498.9 L1276.5 499.1 L1277.5 499.0 L1278.5 497.6 L1279.5 497.2 L1280.5 496.6 L1281.5 496.0 L1282.5 495.3 L1283.5 494.1 L1284.0 493.8 L1284.5 494.2 L1284.6 494.5 L1285.2 493.7 L1285.5 493.2 L1286.0 493.0 L1286.5 493.6 L1286.8 493.9 L1287.4 493.8 L1287.5 494.0 L1288.0 494.4 L1288.5 495.2 L1289.5 496.2 L1290.5 496.8 L1291.5 497.7 L1292.5 498.0 L1293.5 499.0 L1294.5 499.2 L1295.5 499.3 L1296.5 499.5 L1297.5 499.0 L1298.5 498.9 L1299.5 498.4 L1300.5 498.8 L1301.5 498.9 L1302.5 498.9 L1303.5 499.1 L1304.5 498.5 L1305.5 498.8 L1306.5 498.9 L1307.5 498.9 L1308.5 499.3 L1309.5 499.7 L1310.5 499.4 L1311.5 499.0 L1312.5 498.9 L1313.5 499.0 L1314.5 499.2 L1315.5 498.9 L1316.5 499.3 L1317.5 498.9 L1318.5 499.2 L1319.5 499.2 L1320.5 499.3 L1321.5 499.8 L1322.5 499.4 L1323.5 499.1 L1324.5 499.1 L1325.5 499.2 L1326.5 497.4 L1327.5 496.3 L1328.5 494.7 L1329.5 493.6 L1330.5 492.6 L1331.5 490.9 L1332.5 489.2 L1333.0 488.4 L1333.5 486.7 L1333.6 487.1 L1334.2 486.5 L1334.5 486.2 L1335.0 485.4 L1335.5 485.8 L1335.8 486.3 L1336.4 487.6 L1336.5 487.6 L1337.0 488.7 L1337.5 488.6 L1338.5 490.2 L1339.5 492.0 L1340.5 493.5 L1341.5 494.4 L1342.5 495.8 L1343.5 497.7 L1344.5 498.5 L1345.5 498.4 L1346.5 498.4 L1347.5 498.5 L1348.5 498.9 L1349.5 499.2 L1350.5 498.6 L1351.5 499.3 L1352.5 499.1 L1353.5 499.0 L1354.5 499.6 L1355.5 499.4 L1356.5 499.0 L1357.5 498.9 L1358.5 498.9 L1359.5 498.7 L1360.5 498.9 L1361.5 499.3 L1362.5 499.4 L1363.5 499.0 L1364.5 499.9 L1365.5 499.4 L1366.5 499.4 L1367.5 499.4 L1368.5 499.6 L1369.5 499.4 L1370.5 499.5 L1371.5 500.1 L1372.5 499.8 L1373.5 499.3 L1374.5 499.5 L1375.5 499.2 L1376.5 499.2 L1377.5 499.3 L1378.5 499.4 L1379.5 499.3 L1380.5 499.6 L1381.5 499.5 L1382.5 499.1 L1383.5 499.5 L1384.5 499.3 L1385.5 499.7 L1386.5 499.4 L1387.5 499.6 L1388.5 499.6 L1389.5 498.8 L1390.5 498.6 L1391.5 498.6 L1392.5 499.4 L1393.5 498.8 L1394.5 499.4 L1395.5 499.7 L1396.5 499.8 L1397.5 499.8 L1398.5 499.5 L1399.5 499.5 L1400.5 499.6 L1401.5 499.7 L1402.5 499.8 L1403.5 499.6 L1404.5 499.4 L1405.5 499.2 L1406.5 499.5 L1407.5 499.0 L1408.5 498.8 L1409.5 499.0 L1410.5 499.0 L1411.5 499.1 L1412.5 498.5 L1413.5 498.8 L1414.5 499.0 L1415.5 499.5 L1416.5 498.9 L1417.5 499.1 L1418.5 499.4 L1419.5 499.6 L1420.5 499.9 L1421.5 500.1 L1422.5 499.6 L1423.5 499.7 L1424.5 499.6 L1425.5 499.3 L1426.5 499.9 L1427.5 499.6 L1428.5 499.3 L1429.5 499.3 L1430.5 499.2 L1431.5 499.6 L1432.5 499.7 L1433.5 500.1 L1434.5 500.0 L1435.5 499.6 L1436.5 499.9 L1437.5 499.6 L1438.5 499.4 L1439.5 499.4 L1440.5 499.5 L1441.5 499.9 L1442.5 499.5 L1443.5 499.6 L1444.5 499.3 L1445.5 498.5 L1446.5 497.9 L1447.5 497.6 L1448.0 497.7 L1448.5 497.6 L1448.6 497.6 L1449.2 497.3 L1449.5 497.0 L1450.0 497.0 L1450.5 496.9 L1450.8 496.7 L1451.4 497.1 L1451.5 496.9 L1452.0 497.2 L1452.5 497.4 L1453.5 497.9 L1454.5 498.5 L1455.5 498.8 L1456.5 499.1 L1457.5 498.8 L1458.5 499.1 L1459.5 499.0 L1460.5 499.4 L1461.5 498.6 L1462.5 498.7 L1463.5 499.1 L1464.5 498.5 L1465.5 498.8 L1466.5 499.1 L1467.5 499.2 L1468.5 498.8 L1469.5 499.1 L1470.5 499.2 L1471.5 498.8 L1472.5 498.5 L1473.5 497.1 L1474.5 495.6 L1475.5 494.0 L1476.5 492.7 L1477.5 491.1 L1478.5 489.8 L1479.5 488.1 L1480.5 486.0 L1481.1 485.0 L1481.5 484.6 L1481.7 484.1 L1482.5 483.1 L1483.3 484.3 L1483.5 484.5 L1483.9 484.4 L1484.5 485.7 L1485.5 487.6 L1486.5 489.4 L1487.5 490.9 L1488.5 492.9 L1489.5 494.3 L1490.5 495.6 L1491.5 496.9 L1492.5 498.5 L1493.5 498.9 L1494.5 498.9 L1495.5 499.7 L1496.5 500.1 L1497.5 500.2 L1498.5 500.4 L1499.5 500.3 L1500.5 499.6 L1501.5 500.0 L1502.5 500.3 L1503.5 500.2 L1504.5 499.5 L1505.5 500.0 L1506.5 500.3 L1507.5 500.0 L1508.5 500.0 L1509.5 500.1 L1510.5 500.0 L1511.5 500.3 L1512.5 500.1 L1513.5 500.2 L1514.5 500.1 L1515.5 499.6 L1516.5 499.4 L1517.5 500.6 L1518.5 500.4 L1519.5 500.6 L1520.5 500.7 L1521.5 500.9"/>
<path stroke="#000" d="M186.0 638.8 L187.0 642.8 L188.0 646.3 L189.0 648.0 L190.0 650.4 L191.0 652.8 L192.0 652.9 L193.0 654.4 L194.0 655.9 L195.0 657.2 L196.0 656.8 L197.0 656.8 L198.0 656.3 L199.0 656.4 L200.0 657.7 L201.0 659.4 L202.0 658.9 L203.0 660.0 L204.0 660.4 L205.0 660.2 L206.0 661.7 L207.0 660.1 L208.0 660.6 L209.0 661.2 L210.0 662.7 L211.0 663.6 L212.0 664.4 L213.0 663.9 L214.0 664.2 L215.0 664.7 L216.0 664.6 L217.0 664.6 L218.0 664.5 L219.0 664.4 L220.0 664.0 L221.0 665.6 L222.0 665.3 L223.0 664.4 L224.0 665.3 L225.0 665.7 L226.0 666.3 L227.0 667.6 L228.0 667.4 L229.0 667.4 L230.0 667.2 L231.0 667.4 L232.0 667.3 L233.0 667.7 L234.0 669.5 L235.0 669.1 L236.0 668.3 L237.0 669.3 L238.0 669.4 L239.0 669.4 L240.0 669.4 L241.0 669.5 L242.0 669.6 L243.0 670.0 L244.0 670.1 L245.0 670.3 L246.0 669.5 L247.0 669.4 L248.0 668.9 L249.0 669.6 L250.0 669.9 L251.0 669.5 L252.0 669.8 L253.0 671.1 L254.0 671.2 L255.0 670.0 L256.0 669.9 L257.0 670.3 L258.0 670.2 L259.0 670.3 L260.0 670.9 L261.0 670.9 L262.0 670.1 L263.0 670.6 L264.0 670.5 L265.0 670.6 L266.0 670.4 L267.0 669.8 L268.0 669.6 L269.0 670.0 L270.0 669.9 L271.0 669.0 L272.0 670.6 L273.0 670.3 L274.0 670.4 L275.0 671.2 L276.0 670.1 L277.0 671.6 L278.0 671.3 L279.0 672.0 L280.0 671.8 L281.0 672.2 L282.0 672.3 L283.0 672.4 L284.0 671.5 L285.0 671.2 L286.0 671.8 L287.0 673.0 L288.0 672.7 L289.0 673.2 L290.0 673.3 L291.0 673.6 L292.0 674.1 L293.0 673.0 L294.0 673.4 L295.0 673.5 L296.0 673.4 L297.0 673.2 L298.0 673.1 L299.0 673.0 L300.0 672.8 L301.0 674.8 L302.0 675.5 L303.0 675.1 L304.0 675.2 L305.0 674.4 L306.0 672.9 L307.0 672.6 L308.0 673.5 L309.0 674.8 L310.0 674.8 L311.0 674.3 L312.0 674.4 L313.0 674.0 L314.0 673.7 L315.0 674.1 L316.0 674.3 L317.0 674.2 L318.0 674.2 L319.0 674.1 L320.0 674.8 L321.0 675.8 L322.0 675.6 L323.0 676.8 L324.0 675.5 L325.0 675.7 L326.0 675.1 L327.0 675.3 L328.0 675.6 L329.0 676.1 L330.0 676.7 L331.0 676.1 L332.0 675.5 L333.0 675.7 L334.0 676.1 L335.0 675.8 L336.0 676.5 L337.0 677.4 L338.0 676.3 L339.0 676.6 L340.0 677.2 L341.0 676.0 L342.0 676.4 L343.0 676.5 L344.0 675.9 L345.0 677.0 L346.0 677.1 L347.0 676.9 L348.0 677.2 L349.0 677.6 L350.0 677.9 L351.0 678.0 L352.0 678.0 L353.0 677.1 L354.0 677.1 L355.0 677.3 L356.0 676.0 L357.0 677.8 L358.0 677.6 L359.0 677.1 L360.0 676.4 L361.0 677.2 L362.0 677.5 L363.0 677.4 L364.0 677.4 L365.0 677.2 L366.0 677.1 L367.0 677.5 L368.0 677.4 L369.0 678.1 L370.0 678.1 L371.0 678.2 L372.0 678.5 L373.0 679.1 L374.0 679.1 L375.0 678.9 L376.0 678.6 L377.0 678.1 L378.0 678.1 L379.0 678.6 L380.0 678.7 L381.0 678.4 L382.0 677.8 L383.0 677.3 L384.0 678.0 L385.0 678.8 L386.0 679.0 L387.0 678.1 L388.0 678.2 L389.0 678.6 L390.0 678.2 L391.0 678.6 L392.0 678.6 L393.0 678.2 L394.0 677.8 L395.0 678.7 L396.0 678.9 L397.0 678.4 L398.0 678.0 L399.0 678.9 L400.0 679.2 L401.0 678.9 L402.0 679.7 L403.0 679.2 L404.0 678.5 L405.0 679.2 L406.0 678.9 L407.0 679.0 L408.0 678.9 L409.0 678.3 L410.0 677.7 L411.0 677.9 L412.0 678.9 L413.0 678.1 L414.0 678.9 L415.0 678.7 L416.0 677.8 L417.0 677.8 L418.0 678.0 L419.0 677.1 L420.0 675.8 L421.0 676.2 L422.0 675.5 L423.0 675.6 L424.0 674.1 L425.0 673.9 L426.0 672.9 L427.0 671.4 L428.0 670.5 L429.0 669.3 L430.0 667.0 L431.0 663.7 L432.0 660.3 L433.0 654.2 L434.0 647.5 L435.0 637.6 L436.0 624.1 L437.0 603.9 L438.0 565.6 L438.2 551.9 L438.8 519.0 L439.0 519.0 L439.4 519.0 L440.0 519.0 L440.2 519.0 L441.0 519.0 L441.6 581.3 L442.0 604.6 L442.2 611.8 L443.0 635.9 L444.0 654.4 L445.0 663.6 L446.0 669.1 L447.0 672.1 L448.0 673.9 L449.0 676.1 L450.0 678.7 L451.0 678.8 L452.0 678.9 L453.0 679.5 L454.0 679.4 L455.0 679.9 L456.0 680.4 L457.0 679.7 L458.0 679.4 L459.0 679.7 L460.0 680.5 L461.0 680.7 L462.0 681.3 L463.0 680.4 L464.0 680.8 L465.0 680.5 L466.0 680.7 L467.0 681.0 L468.0 680.5 L469.0 680.6 L470.0 680.2 L471.0 680.7 L472.0 680.4 L473.0 680.5 L474.0 680.9 L475.0 680.7 L476.0 681.5 L477.0 681.1 L478.0 681.6 L479.0 681.6 L480.0 681.0 L481.0 681.0 L482.0 680.7 L483.0 680.7 L484.0 680.8 L485.0 682.0 L486.0 681.6 L487.0 682.3 L488.0 682.2 L489.0 681.1 L490.0 680.0 L491.0 680.9 L492.0 680.0 L493.0 681.0 L494.0 681.7 L495.0 681.8 L496.0 681.5 L497.0 681.3 L498.0 681.5 L499.0 681.3 L500.0 681.1 L501.0 681.0 L502.0 681.8 L503.0 681.3 L504.0 681.6 L505.0 680.9 L506.0 680.7 L507.0 680.3 L508.0 680.7 L509.0 681.4 L510.0 681.6 L511.0 681.3 L512.0 681.7 L513.0 681.4 L514.0 681.6 L515.0 681.7 L516.0 681.9 L517.0 680.4 L518.0 680.2 L519.0 681.1 L520.0 681.2 L521.0 682.5 L522.0 682.0 L523.0 681.5 L524.0 682.3 L525.0 682.3 L526.0 683.0 L527.0 682.7 L528.0 682.1 L529.0 682.3 L530.0 681.6 L531.0 681.3 L532.0 681.1 L533.0 681.2 L534.0 681.7 L535.0 681.4 L536.0 681.6 L537.0 681.3 L538.0 681.9 L539.0 680.3 L540.0 680.7 L541.0 681.1 L542.0 680.7 L543.0 681.6 L544.0 681.7 L545.0 682.3 L546.0 682.5 L547.0 682.5 L548.0 682.0 L549.0 681.3 L550.0 681.3 L551.0 681.1 L552.0 681.4 L553.0 681.2 L554.0 683.0 L555.0 681.6 L556.0 682.2 L557.0 681.7 L558.0 681.5 L559.0 682.0 L560.0 681.8 L561.0 681.1 L562.0 681.5 L563.0 681.4 L564.0 680.3 L565.0 680.9 L566.0 680.6 L567.0 680.5 L568.0 681.1 L569.0 681.4 L570.0 681.2 L571.0 682.4 L572.0 682.1 L573.0 680.5 L574.0 679.1 L575.0 677.3 L576.0 674.4 L576.7 672.7 L577.0 672.0 L577.3 673.2 L577.9 672.0 L578.0 671.7 L578.7 670.4 L579.0 671.5 L579.5 672.2 L580.0 674.0 L580.1 674.2 L580.7 675.7 L581.0 675.6 L582.0 677.2 L583.0 678.4 L584.0 679.8 L585.0 680.3 L586.0 680.5 L587.0 680.3 L588.0 680.5 L589.0 681.5 L590.0 681.7 L591.0 682.3 L592.0 682.4 L593.0 682.6 L594.0 682.7 L595.0 681.9 L596.0 682.2 L597.0 681.8 L598.0 681.4 L599.0 682.1 L600.0 683.0 L601.0 681.9 L602.0 682.7 L603.0 682.7 L604.0 681.8 L605.0 681.8 L606.0 681.9 L607.0 682.0 L608.0 681.6 L609.0 680.9 L610.0 681.1 L611.0 681.7 L612.0 682.1 L613.0 682.2 L614.0 682.5 L615.0 681.5 L616.0 681.5 L617.0 681.7 L618.0 682.1 L619.0 681.9 L620.0 682.0 L621.0 681.8 L622.0 682.8 L623.0 681.0 L624.0 681.1 L625.0 682.5 L626.0 682.2 L627.0 680.8 L628.0 681.1 L629.0 680.4 L630.0 680.3 L631.0 680.8 L632.0 681.9 L633.0 681.8 L634.0 681.9 L635.0 682.1 L636.0 681.8 L637.0 681.0 L638.0 680.9 L639.0 681.1 L640.0 680.8 L641.0 680.4 L642.0 680.3 L643.0 679.6 L644.0 679.4 L645.0 679.7 L646.0 679.8 L647.0 679.9 L648.0 680.7 L649.0 680.6 L650.0 680.2 L651.0 679.4 L652.0 678.8 L653.0 679.2 L654.0 678.7 L655.0 679.0 L656.0 678.3 L657.0 678.4 L658.0 678.3 L659.0 678.6 L660.0 677.9 L661.0 677.4 L662.0 677.2 L663.0 676.7 L664.0 677.1 L665.0 676.0 L666.0 674.9 L667.0 673.9 L668.0 673.2 L669.0 672.2 L670.0 671.1 L671.0 668.4 L672.0 667.8 L673.0 665.7 L674.0 661.7 L675.0 656.4 L676.0 650.8 L677.0 643.5 L678.0 632.3 L679.0 619.5 L680.0 601.4 L681.0 578.2 L682.0 536.5 L682.6 488.8 L683.0 475.0 L683.2 475.0 L684.0 475.0 L684.8 475.0 L685.0 485.1 L685.4 528.5 L686.0 569.5 L687.0 603.7 L688.0 625.5 L689.0 641.4 L690.0 650.3 L691.0 658.5 L692.0 662.8 L693.0 667.0 L694.0 668.6 L695.0 670.3 L696.0 671.9 L697.0 673.9 L698.0 673.9 L699.0 675.4 L700.0 675.8 L701.0 677.1 L702.0 677.2 L703.0 677.8 L704.0 677.9 L705.0 679.1 L706.0 678.7 L707.0 678.7 L708.0 679.8 L709.0 679.5 L710.0 679.7 L711.0 679.1 L712.0 679.3 L713.0 678.1 L714.0 678.6 L715.0 678.6 L716.0 678.1 L717.0 677.9 L718.0 679.2 L719.0 679.5 L720.0 678.7 L721.0 680.1 L722.0 679.5 L723.0 679.4 L724.0 679.7 L725.0 679.1 L726.0 678.5 L727.0 678.6 L728.0 679.7 L729.0 680.2 L730.0 679.2 L731.0 680.1 L732.0 679.7 L733.0 679.2 L734.0 678.3 L735.0 677.5 L735.6 676.3 L736.0 675.6 L736.2 675.3 L737.0 674.8 L737.8 676.0 L738.0 675.6 L738.4 677.1 L739.0 677.1 L740.0 677.7 L741.0 679.0 L742.0 680.0 L743.0 679.9 L744.0 679.3 L745.0 679.0 L746.0 678.5 L747.0 679.7 L748.0 680.4 L749.0 681.2 L750.0 680.9 L751.0 680.7 L752.0 680.5 L753.0 680.1 L754.0 678.9 L755.0 678.3 L756.0 678.6 L757.0 676.4 L758.0 675.0 L758.6 674.3 L759.0 674.9 L759.2 675.4 L760.0 674.5 L760.8 675.3 L761.0 675.2 L761.4 675.3 L762.0 674.5 L763.0 673.9 L764.0 673.2 L765.0 673.0 L765.6 673.3 L766.0 671.3 L766.2 671.4 L766.8 670.7 L767.0 671.0 L767.6 670.9 L768.0 671.7 L768.4 672.5 L769.0 672.5 L769.6 672.5 L770.0 674.2 L771.0 675.7 L772.0 675.6 L773.0 677.0 L774.0 677.5 L774.6 675.5 L775.0 676.0 L775.2 675.4 L776.0 675.7 L776.8 675.8 L777.0 675.6 L777.4 675.3 L778.0 676.1 L779.0 677.8 L780.0 678.1 L781.0 677.9 L782.0 680.2 L783.0 681.2 L784.0 681.1 L785.0 680.4 L786.0 679.6 L787.0 678.9 L788.0 679.7 L789.0 680.6 L790.0 679.8 L791.0 679.9 L792.0 679.8 L793.0 679.8 L794.0 680.2 L795.0 681.3 L796.0 680.4 L797.0 680.7 L798.0 681.0 L799.0 680.4 L800.0 679.8 L801.0 678.6 L802.0 679.0 L803.0 678.2 L803.6 677.7 L804.0 677.7 L804.2 677.3 L805.0 676.7 L805.8 677.2 L806.0 678.3 L806.4 678.3 L807.0 678.8 L808.0 678.2 L809.0 677.8 L810.0 679.7 L811.0 679.8 L812.0 679.1 L813.0 679.4 L814.0 680.0 L815.0 679.1 L816.0 679.0 L817.0 679.6 L818.0 679.2 L819.0 680.0 L820.0 680.5 L821.0 680.5 L822.0 680.1 L823.0 680.0 L824.0 679.6 L825.0 679.6 L826.0 679.9 L827.0 679.7 L828.0 680.2 L829.0 681.4 L830.0 680.4 L831.0 680.3 L832.0 680.4 L833.0 680.4 L834.0 679.8 L835.0 679.3 L836.0 679.8 L837.0 679.7 L838.0 679.6 L839.0 678.7 L840.0 678.9 L841.0 678.9 L842.0 678.2 L843.0 678.1 L844.0 678.5 L845.0 676.3 L846.0 675.8 L847.0 674.0 L848.0 672.1 L849.0 670.5 L850.0 668.5 L851.0 665.1 L852.0 659.8 L853.0 652.7 L853.5 647.4 L854.0 639.7 L854.1 637.6 L854.7 631.6 L855.0 631.6 L855.5 631.6 L856.0 631.6 L856.3 631.6 L856.9 643.3 L857.0 645.4 L857.5 652.6 L858.0 657.7 L859.0 663.3 L860.0 667.2 L861.0 671.8 L862.0 673.7 L863.0 675.6 L864.0 677.1 L865.0 677.8 L866.0 678.1 L867.0 677.5 L868.0 677.2 L869.0 678.5 L870.0 679.1 L871.0 679.5 L872.0 678.6 L873.0 677.8 L874.0 677.9 L875.0 677.9 L876.0 678.7 L877.0 678.5 L878.0 679.9 L879.0 679.5 L880.0 679.3 L881.0 679.9 L882.0 680.1 L883.0 679.5 L884.0 680.0 L885.0 681.0 L886.0 679.8 L887.0 679.6 L888.0 679.1 L889.0 678.2 L890.0 679.1 L891.0 679.7 L892.0 680.2 L893.0 680.2 L894.0 678.9 L895.0 679.2 L896.0 679.0 L897.0 678.5 L898.0 678.3 L899.0 679.1 L900.0 679.2 L901.0 679.8 L902.0 679.6 L903.0 678.8 L904.0 679.0 L905.0 679.2 L906.0 678.8 L907.0 678.2 L908.0 678.5 L909.0 677.6 L910.0 677.3 L911.0 676.4 L912.0 675.7 L913.0 674.9 L914.0 674.9 L915.0 674.5 L916.0 673.2 L917.0 671.6 L918.0 670.1 L919.0 668.5 L920.0 665.7 L921.0 662.8 L922.0 659.6 L923.0 655.8 L924.0 650.8 L925.0 644.4 L926.0 633.8 L926.9 617.0 L927.0 615.5 L927.5 609.9 L928.0 609.9 L928.1 609.9 L928.9 609.9 L929.0 609.9 L929.7 610.0 L930.0 615.6 L930.3 625.8 L930.9 640.5 L931.0 642.3 L932.0 653.6 L933.0 660.5 L934.0 666.0 L935.0 670.7 L936.0 673.5 L937.0 675.7 L938.0 677.2 L939.0 678.1 L940.0 678.8 L941.0 679.4 L942.0 680.4 L943.0 681.0 L944.0 681.8 L945.0 682.1 L946.0 682.7 L947.0 682.7 L948.0 682.3 L949.0 683.0 L950.0 683.1 L951.0 683.4 L952.0 683.4 L953.0 683.3 L954.0 683.4 L955.0 683.1 L956.0 683.0 L957.0 683.0 L958.0 683.2 L959.0 683.0 L960.0 683.4 L961.0 683.7 L962.0 684.5 L963.0 684.9 L964.0 684.6 L965.0 684.8 L966.0 684.5 L967.0 684.6 L968.0 684.5 L969.0 684.4 L970.0 684.5 L971.0 684.1 L972.0 684.4 L973.0 684.5 L974.0 684.2 L975.0 684.4 L976.0 684.7 L977.0 684.6 L978.0 684.9 L979.0 685.1 L980.0 685.5 L981.0 685.0 L982.0 685.0 L983.0 685.2 L984.0 685.6 L985.0 685.5 L986.0 685.5 L987.0 684.9 L988.0 684.8 L989.0 685.0 L990.0 683.5 L991.0 682.9 L992.0 681.1 L993.0 679.5 L994.0 677.6 L994.6 677.0 L995.0 676.6 L995.2 676.9 L996.0 675.7 L996.8 676.5 L997.0 676.3 L997.4 677.0 L998.0 678.3 L999.0 680.0 L1000.0 681.8 L1001.0 683.2 L1002.0 684.3 L1003.0 685.6 L1004.0 686.0 L1005.0 685.6 L1006.0 686.3 L1007.0 686.4 L1008.0 686.0 L1009.0 686.2 L1010.0 686.3 L1011.0 686.6 L1012.0 687.0 L1013.0 685.8 L1014.0 686.3 L1015.0 686.8 L1016.0 686.5 L1017.0 686.0 L1018.0 686.3 L1019.0 686.6 L1020.0 686.8 L1021.0 686.4 L1022.0 686.5 L1023.0 686.7 L1024.0 687.0 L1025.0 687.7 L1026.0 687.5 L1027.0 687.1 L1028.0 686.4 L1029.0 687.0 L1030.0 687.0 L1031.0 687.1 L1032.0 686.8 L1033.0 687.2 L1034.0 686.7 L1035.0 687.0 L1036.0 687.2 L1037.0 687.4 L1038.0 687.8 L1039.0 687.7 L1040.0 687.7 L1041.0 687.9 L1042.0 687.3 L1043.0 687.4 L1044.0 687.5 L1045.0 687.9 L1046.0 687.6 L1047.0 687.9 L1048.0 688.0 L1049.0 687.5 L1050.0 687.2 L1051.0 687.1 L1052.0 687.5 L1053.0 687.8 L1054.0 688.1 L1055.0 688.4 L1056.0 688.1 L1057.0 688.5 L1058.0 688.6 L1059.0 688.6 L1060.0 688.6 L1061.0 688.1 L1062.0 688.2 L1063.0 687.9 L1064.0 687.7 L1065.0 687.8 L1066.0 688.0 L1067.0 688.1 L1068.0 688.0 L1069.0 687.8 L1070.0 688.0 L1071.0 687.9 L1072.0 687.6 L1073.0 687.8 L1074.0 688.4 L1075.0 688.2 L1076.0 687.8 L1077.0 688.4 L1078.0 688.8 L1079.0 688.4 L1080.0 688.2 L1081.0 688.2 L1082.0 689.0 L1083.0 688.7 L1084.0 688.7 L1085.0 688.5 L1086.0 687.7 L1087.0 687.4 L1088.0 687.2 L1089.0 687.6 L1090.0 687.7 L1091.0 688.2 L1092.0 687.9 L1093.0 687.8 L1094.0 687.7 L1095.0 687.6 L1096.0 688.1 L1097.0 687.8 L1098.0 687.9 L1099.0 687.8 L1100.0 687.1 L1101.0 687.0 L1102.0 686.5 L1103.0 686.2 L1104.0 685.9 L1105.0 685.5 L1106.0 683.8 L1107.0 682.2 L1108.0 679.7 L1109.0 677.6 L1110.0 675.4 L1111.0 672.6 L1112.0 669.6 L1113.0 666.2 L1114.0 662.2 L1115.0 657.8 L1116.0 651.6 L1117.0 646.2 L1118.0 639.9 L1119.0 634.1 L1119.6 632.3 L1120.0 631.5 L1120.2 631.5 L1121.0 631.5 L1121.8 631.5 L1122.0 632.0 L1122.4 633.4 L1123.0 636.4 L1124.0 643.7 L1125.0 651.3 L1126.0 657.9 L1127.0 663.5 L1128.0 668.1 L1129.0 672.3 L1130.0 675.1 L1131.0 678.2 L1132.0 681.2 L1133.0 683.8 L1134.0 685.4 L1135.0 685.9 L1136.0 686.4 L1137.0 687.1 L1138.0 687.2 L1139.0 687.3 L1140.0 687.6 L1141.0 687.6 L1142.0 687.2 L1143.0 687.6 L1144.0 687.7 L1145.0 687.7 L1146.0 688.1 L1147.0 688.2 L1148.0 688.1 L1149.0 687.5 L1150.0 687.3 L1151.0 687.7 L1152.0 687.9 L1153.0 688.1 L1154.0 688.0 L1155.0 685.0 L1156.0 681.7 L1156.6 679.6 L1157.0 678.4 L1157.2 677.5 L1157.8 675.9 L1158.0 674.9 L1158.6 672.8 L1159.0 674.2 L1159.4 675.2 L1160.0 678.2 L1160.6 680.0 L1161.0 681.4 L1162.0 684.6 L1163.0 687.4 L1164.0 687.7 L1165.0 687.6 L1166.0 688.4 L1167.0 688.9 L1168.0 689.6 L1169.0 688.9 L1170.0 689.1 L1171.0 689.1 L1172.0 689.3 L1173.0 689.1 L1174.0 689.3 L1175.0 689.5 L1176.0 689.5 L1177.0 689.8 L1178.0 689.5 L1179.0 689.8 L1180.0 689.4 L1181.0 689.8 L1182.0 688.7 L1183.0 688.9 L1184.0 688.8 L1185.0 689.0 L1186.0 689.4 L1187.0 689.6 L1188.0 689.5 L1189.0 689.9 L1190.0 689.2 L1191.0 689.0 L1192.0 689.6 L1193.0 689.6 L1194.0 688.9 L1195.0 689.2 L1196.0 688.9 L1197.0 689.5 L1198.0 689.8 L1199.0 689.5 L1200.0 689.9 L1201.0 689.4 L1202.0 689.7 L1203.0 689.8 L1204.0 689.6 L1205.0 689.1 L1206.0 689.2 L1207.0 688.6 L1208.0 688.8 L1209.0 688.5 L1210.0 689.2 L1211.0 689.0 L1212.0 688.5 L1213.0 689.1 L1214.0 689.4 L1215.0 689.3 L1216.0 690.0 L1217.0 690.1 L1218.0 689.9 L1219.0 689.5 L1220.0 688.6 L1221.0 689.1 L1222.0 689.6 L1223.0 689.4 L1224.0 689.0 L1225.0 689.2 L1226.0 688.9 L1227.0 689.1 L1228.0 689.6 L1229.0 690.0 L1230.0 689.9 L1231.0 689.9 L1232.0 690.0 L1233.0 690.3 L1234.0 689.9 L1235.0 689.4 L1236.0 689.3 L1237.0 689.0 L1238.0 689.0 L1239.0 689.2 L1240.0 689.5 L1241.0 689.6 L1242.0 689.6 L1243.0 689.5 L1244.0 689.7 L1245.0 690.0 L1246.0 690.1 L1247.0 690.4 L1248.0 690.0 L1249.0 689.8 L1250.0 690.3 L1251.0 690.1 L1252.0 690.1 L1253.0 689.8 L1254.0 690.1 L1255.0 689.8 L1256.0 689.5 L1257.0 689.5 L1258.0 689.5 L1259.0 689.8 L1260.0 689.7 L1261.0 689.7 L1262.0 689.7 L1263.0 689.8 L1264.0 689.6 L1265.0 690.0 L1266.0 689.4 L1267.0 689.4 L1268.0 689.3 L1269.0 689.7 L1270.0 689.7 L1271.0 689.9 L1272.0 689.7 L1273.0 689.5 L1274.0 689.2 L1275.0 689.3 L1276.0 689.3 L1277.0 689.5 L1278.0 689.6 L1279.0 689.9 L1280.0 689.4 L1281.0 688.3 L1282.0 687.2 L1283.0 686.5 L1284.0 685.7 L1285.0 685.4 L1286.0 684.2 L1286.6 684.0 L1287.0 683.8 L1287.2 682.9 L1288.0 682.5 L1288.8 683.3 L1289.0 683.6 L1289.4 683.7 L1290.0 684.4 L1291.0 685.0 L1292.0 685.9 L1293.0 686.8 L1294.0 688.2 L1295.0 688.8 L1296.0 689.8 L1297.0 690.0 L1298.0 689.7 L1299.0 689.8 L1300.0 690.0 L1301.0 689.7 L1302.0 690.0 L1303.0 689.7 L1304.0 689.5 L1305.0 689.7 L1306.0 689.7 L1307.0 689.5 L1308.0 689.1 L1309.0 689.5 L1310.0 689.7 L1311.0 689.6 L1312.0 689.8 L1313.0 689.4 L1314.0 689.7 L1315.0 689.9 L1316.0 690.0 L1317.0 689.8 L1318.0 689.8 L1319.0 689.9 L1320.0 690.2 L1321.0 690.1 L1322.0 690.1 L1323.0 689.7 L1324.0 690.0 L1325.0 690.2 L1326.0 689.8 L1327.0 689.9 L1328.0 689.7 L1329.0 688.4 L1330.0 686.7 L1331.0 686.1 L1332.0 684.1 L1333.0 682.9 L1334.0 681.5 L1335.0 680.4 L1336.0 678.7 L1336.4 678.1 L1337.0 677.4 L1337.6 676.7 L1338.0 675.9 L1338.4 675.7 L1339.0 676.4 L1339.2 676.9 L1339.8 677.4 L1340.0 677.6 L1340.4 678.0 L1341.0 678.7 L1342.0 680.4 L1343.0 682.1 L1344.0 683.9 L1345.0 684.9 L1346.0 686.3 L1347.0 687.8 L1348.0 688.8 L1349.0 689.9 L1350.0 689.9 L1351.0 689.7 L1352.0 689.5 L1353.0 690.1 L1354.0 690.1 L1355.0 690.1 L1356.0 689.7 L1357.0 689.9 L1358.0 690.3 L1359.0 689.9 L1360.0 689.7 L1361.0 690.3 L1362.0 690.7 L1363.0 691.0 L1364.0 690.5 L1365.0 690.6 L1366.0 690.2 L1367.0 690.4 L1368.0 690.2 L1369.0 690.3 L1370.0 690.7 L1371.0 690.6 L1372.0 690.4 L1373.0 690.4 L1374.0 690.4 L1375.0 690.2 L1376.0 690.3 L1377.0 690.5 L1378.0 690.9 L1379.0 690.1 L1380.0 689.8 L1381.0 689.7 L1382.0 690.2 L1383.0 691.0 L1384.0 690.8 L1385.0 690.7 L1386.0 690.9 L1387.0 690.0 L1388.0 690.1 L1389.0 689.3 L1390.0 689.8 L1391.0 689.9 L1392.0 689.9 L1393.0 690.2 L1394.0 690.1 L1395.0 690.6 L1396.0 690.5 L1397.0 690.6 L1398.0 691.3 L1399.0 690.8 L1400.0 691.0 L1401.0 690.5 L1402.0 690.9 L1403.0 691.0 L1404.0 690.9 L1405.0 691.0 L1406.0 691.3 L1407.0 691.4 L1408.0 691.1 L1409.0 690.8 L1410.0 691.1 L1411.0 690.4 L1412.0 690.3 L1413.0 690.6 L1414.0 690.7 L1415.0 691.3 L1416.0 691.5 L1417.0 691.3 L1418.0 691.1 L1419.0 690.5 L1420.0 690.5 L1421.0 690.7 L1422.0 690.6 L1423.0 690.6 L1424.0 690.8 L1425.0 690.5 L1426.0 690.4 L1427.0 690.0 L1428.0 690.6 L1429.0 690.3 L1430.0 690.0 L1431.0 690.5 L1432.0 690.5 L1433.0 690.9 L1434.0 690.7 L1435.0 691.4 L1436.0 691.4 L1437.0 691.2 L1438.0 691.0 L1439.0 690.9 L1440.0 691.1 L1441.0 691.6 L1442.0 691.1 L1443.0 690.7 L1444.0 690.9 L1445.0 691.2 L1446.0 690.6 L1447.0 690.5 L1448.0 690.3 L1449.0 690.7 L1450.0 690.9 L1451.0 690.7 L1452.0 690.4 L1453.0 690.8 L1454.0 690.2 L1455.0 690.7 L1456.0 690.7 L1457.0 691.3 L1458.0 691.4 L1459.0 691.0 L1460.0 690.9 L1461.0 690.8 L1462.0 690.6 L1463.0 690.7 L1464.0 691.0 L1465.0 690.5 L1466.0 690.5 L1467.0 691.1 L1468.0 691.1 L1469.0 690.7 L1470.0 690.4 L1471.0 690.2 L1472.0 689.8 L1473.0 690.4 L1474.0 689.4 L1475.0 687.9 L1476.0 686.2 L1477.0 684.9 L1478.0 683.6 L1479.0 682.8 L1480.0 681.0 L1481.0 679.5 L1482.0 678.2 L1482.7 677.2 L1483.0 676.5 L1483.3 675.3 L1483.9 675.1 L1484.0 675.1 L1484.7 674.0 L1485.0 674.3 L1485.5 674.7 L1486.0 675.3 L1486.1 675.2 L1486.7 676.5 L1487.0 677.3 L1488.0 678.9 L1489.0 680.7 L1490.0 682.3 L1491.0 683.8 L1492.0 684.8 L1493.0 686.5 L1494.0 688.2 L1495.0 689.5 L1496.0 691.0 L1497.0 691.0 L1498.0 690.7 L1499.0 691.2 L1500.0 691.0 L1501.0 691.1 L1502.0 691.1 L1503.0 691.1 L1504.0 691.1 L1505.0 691.0 L1506.0 690.5 L1507.0 691.4 L1508.0 691.4 L1509.0 690.8 L1510.0 690.7 L1511.0 690.6 L1512.0 690.7 L1513.0 690.2 L1514.0 690.9 L1515.0 691.6 L1516.0 691.4"/>
<path stroke="#f00" d="M181.5 794.5 L182.5 804.1 L183.5 810.9 L184.5 818.0 L185.5 822.1 L186.5 826.3 L187.5 829.9 L188.5 833.8 L189.5 836.1 L190.5 837.9 L191.5 839.0 L192.5 840.5 L193.5 841.7 L194.5 843.0 L195.5 844.4 L196.5 845.0 L197.5 845.1 L198.5 845.2 L199.5 846.3 L200.5 846.3 L201.5 846.2 L202.5 847.2 L203.5 847.7 L204.5 847.6 L205.5 847.2 L206.5 846.8 L207.5 847.6 L208.5 847.3 L209.5 848.0 L210.5 847.5 L211.5 847.7 L212.5 848.1 L213.5 848.3 L214.5 848.5 L215.5 848.7 L216.5 848.1 L217.5 847.8 L218.5 848.2 L219.5 849.6 L220.5 849.4 L221.5 849.0 L222.5 848.9 L223.5 849.2 L224.5 850.2 L225.5 849.8 L226.5 850.3 L227.5 850.4 L228.5 850.3 L229.5 849.9 L230.5 850.1 L231.5 850.0 L232.5 850.7 L233.5 849.8 L234.5 851.0 L235.5 851.5 L236.5 851.7 L237.5 852.4 L238.5 852.4 L239.5 851.1 L240.5 851.4 L241.5 851.8 L242.5 851.5 L243.5 851.1 L244.5 851.7 L245.5 852.2 L246.5 852.0 L247.5 852.0 L248.5 851.9 L249.5 851.9 L250.5 852.2 L251.5 853.0 L252.5 852.1 L253.5 852.3 L254.5 853.5 L255.5 853.5 L256.5 853.5 L257.5 853.9 L258.5 853.2 L259.5 852.7 L260.5 852.1 L261.5 852.0 L262.5 852.9 L263.5 853.8 L264.5 853.6 L265.5 853.5 L266.5 854.1 L267.5 854.6 L268.5 854.8 L269.5 853.8 L270.5 854.0 L271.5 853.1 L272.5 854.2 L273.5 854.3 L274.5 854.5 L275.5 855.9 L276.5 856.6 L277.5 856.7 L278.5 856.7 L279.5 856.7 L280.5 856.4 L281.5 856.5 L282.5 857.8 L283.5 857.0 L284.5 856.8 L285.5 857.2 L286.5 857.8 L287.5 858.3 L288.5 857.6 L289.5 857.7 L290.5 857.8 L291.5 857.4 L292.5 857.9 L293.5 858.0 L294.5 858.9 L295.5 859.2 L296.5 858.8 L297.5 859.1 L298.5 859.1 L299.5 858.9 L300.5 858.9 L301.5 859.8 L302.5 859.5 L303.5 858.6 L304.5 858.7 L305.5 859.6 L306.5 860.8 L307.5 859.9 L308.5 859.7 L309.5 859.6 L310.5 859.0 L311.5 859.2 L312.5 858.8 L313.5 858.5 L314.5 859.1 L315.0 858.1 L315.5 858.0 L315.6 858.1 L316.2 857.0 L316.5 856.4 L317.0 857.1 L317.5 857.5 L317.8 857.5 L318.4 857.1 L318.5 857.7 L319.0 858.2 L319.5 859.6 L320.5 860.5 L321.5 860.9 L322.5 861.1 L323.5 861.3 L324.5 860.8 L325.5 861.0 L326.5 861.1 L327.5 861.4 L328.5 861.9 L329.5 861.8 L330.5 861.2 L331.5 861.7 L332.5 862.4 L333.5 861.5 L334.5 861.7 L335.5 861.9 L336.5 862.1 L337.5 862.2 L338.5 861.9 L339.5 861.8 L340.5 862.7 L341.5 863.3 L342.5 862.0 L343.5 860.6 L344.5 861.4 L345.5 861.3 L346.5 861.3 L347.5 860.8 L348.5 861.5 L349.5 861.8 L350.5 861.7 L351.5 862.5 L352.5 863.8 L353.5 864.0 L354.5 864.1 L355.5 863.2 L356.5 863.3 L357.5 863.1 L358.5 863.5 L359.5 863.5 L360.5 863.2 L361.5 863.4 L362.5 862.8 L363.5 863.2 L364.5 863.9 L365.5 863.3 L366.5 863.5 L367.5 862.4 L368.5 863.1 L369.5 863.5 L370.5 862.8 L371.5 863.8 L372.5 863.6 L373.5 862.5 L374.5 862.0 L375.5 862.9 L376.5 862.9 L377.5 863.6 L378.5 862.6 L379.5 862.8 L380.5 863.5 L381.5 863.0 L382.5 863.5 L383.5 863.2 L384.5 863.4 L385.5 863.6 L386.5 864.7 L387.5 863.5 L388.5 863.8 L389.5 864.3 L390.5 863.3 L391.5 863.4 L392.5 864.6 L393.5 864.7 L394.5 862.5 L395.5 862.7 L396.5 862.0 L397.5 862.7 L398.5 862.5 L399.5 862.5 L400.5 862.3 L401.5 862.8 L402.5 862.7 L403.5 862.3 L404.5 862.5 L405.5 862.9 L406.5 862.4 L407.5 863.2 L408.5 862.1 L409.5 862.4 L410.5 862.2 L411.5 863.1 L412.5 862.3 L413.5 861.8 L414.5 861.0 L415.5 862.2 L416.5 862.1 L417.5 860.9 L418.5 860.5 L419.5 859.7 L420.5 860.3 L421.5 859.9 L422.5 857.9 L423.5 857.6 L424.5 857.3 L425.5 856.0 L426.5 854.8 L427.5 852.9 L428.5 850.8 L429.5 848.1 L430.5 844.2 L431.5 840.1 L432.5 834.7 L433.5 827.6 L434.5 818.4 L435.5 806.5 L436.5 789.5 L437.4 759.6 L437.5 754.1 L438.0 744.4 L438.5 744.4 L438.6 744.4 L439.4 744.4 L439.5 744.5 L440.2 744.5 L440.5 758.7 L440.8 779.5 L441.4 803.5 L441.5 805.9 L442.5 824.4 L443.5 836.8 L444.5 844.9 L445.5 850.7 L446.5 853.7 L447.5 857.4 L448.5 859.1 L449.5 860.3 L450.5 861.2 L451.5 862.6 L452.5 864.1 L453.5 864.1 L454.5 865.3 L455.5 866.1 L456.5 866.5 L457.5 866.3 L458.5 865.2 L459.5 865.8 L460.5 865.7 L461.5 866.0 L462.5 865.1 L463.5 865.4 L464.5 866.0 L465.5 865.7 L466.5 866.2 L467.5 867.4 L468.5 867.3 L469.5 866.8 L470.5 868.1 L471.5 866.5 L472.5 866.2 L473.5 866.7 L474.5 866.5 L475.5 865.5 L476.5 866.3 L477.5 867.1 L478.5 866.7 L479.5 867.7 L480.5 867.7 L481.5 868.2 L482.5 867.0 L483.5 867.1 L484.5 868.0 L485.5 868.8 L486.5 868.9 L487.5 868.3 L488.5 868.0 L489.5 867.4 L490.5 868.0 L491.5 867.3 L492.5 867.4 L493.5 866.3 L494.5 865.9 L495.5 867.5 L496.5 867.5 L497.5 867.6 L498.5 866.3 L499.5 866.8 L500.5 868.2 L501.5 867.1 L502.5 865.9 L503.5 866.5 L504.5 866.6 L505.5 866.8 L506.5 866.4 L507.5 866.1 L508.5 866.0 L509.5 867.0 L510.5 867.2 L511.5 867.8 L512.5 867.1 L513.5 867.6 L514.5 867.3 L515.5 867.5 L516.5 868.0 L517.5 867.9 L518.5 867.6 L519.5 866.7 L520.5 867.1 L521.5 867.7 L522.5 867.3 L523.5 867.4 L524.5 866.5 L525.5 866.2 L526.5 867.0 L527.5 868.0 L528.5 867.7 L529.5 866.7 L530.5 866.9 L531.5 866.4 L532.5 866.7 L533.5 868.2 L534.5 868.1 L535.5 867.9 L536.5 868.4 L537.5 867.9 L538.5 868.0 L539.5 868.0 L540.5 868.1 L541.5 867.1 L542.5 867.8 L543.5 868.2 L544.5 866.8 L545.5 865.7 L546.5 866.0 L547.5 867.5 L548.5 867.6 L549.5 868.0 L550.5 868.2 L551.5 868.5 L552.5 867.8 L553.5 867.5 L554.5 867.8 L555.5 868.1 L556.5 868.2 L557.5 868.2 L558.5 867.7 L559.5 868.3 L560.5 868.3 L561.5 868.6 L562.5 866.8 L563.5 867.7 L564.5 866.3 L565.5 866.9 L566.5 866.8 L567.5 867.1 L568.5 866.9 L569.5 866.9 L570.5 866.2 L571.5 864.9 L572.5 862.7 L573.5 859.7 L574.5 858.0 L575.3 857.3 L575.5 856.6 L575.9 856.4 L576.5 855.2 L577.3 853.5 L577.5 854.7 L578.1 856.5 L578.5 856.8 L578.7 857.0 L579.3 858.5 L579.5 857.9 L580.5 859.5 L581.5 862.3 L582.5 864.4 L583.5 865.6 L584.5 866.7 L585.5 867.4 L586.5 866.7 L587.5 866.8 L588.5 867.0 L589.5 865.9 L590.5 866.9 L591.5 867.7 L592.5 868.3 L593.5 867.2 L594.5 866.7 L595.5 866.7 L596.5 866.4 L597.5 868.0 L598.5 867.4 L599.5 867.3 L600.5 867.6 L601.5 867.9 L602.5 868.6 L603.5 867.6 L604.5 868.1 L605.5 868.0 L606.5 867.2 L607.5 867.5 L608.5 866.8 L609.5 868.0 L610.5 867.4 L611.5 868.0 L612.5 868.6 L613.5 867.8 L614.5 867.2 L615.5 867.3 L616.5 866.8 L617.5 867.5 L618.5 867.4 L619.5 865.8 L620.5 864.3 L621.5 863.6 L622.5 861.4 L622.8 862.2 L623.4 860.8 L623.5 860.6 L624.0 859.4 L624.5 859.9 L624.8 859.8 L625.5 861.1 L625.6 861.1 L626.2 861.5 L626.5 862.6 L626.8 862.9 L627.5 863.6 L628.5 864.8 L629.5 866.1 L630.5 867.0 L631.5 867.3 L632.5 866.3 L633.5 867.7 L634.5 866.7 L635.5 865.6 L636.5 865.7 L637.5 867.2 L638.5 867.7 L639.5 867.0 L640.5 867.0 L641.5 866.7 L642.5 865.5 L643.5 865.6 L644.5 866.0 L645.5 866.6 L646.5 865.6 L647.5 864.4 L648.5 864.0 L649.5 864.7 L650.5 864.9 L651.5 865.0 L652.5 864.9 L653.5 864.5 L654.5 863.6 L655.5 863.9 L656.5 863.9 L657.5 863.8 L658.5 864.0 L659.5 862.5 L660.5 860.7 L661.5 859.7 L662.5 861.0 L663.5 859.7 L664.5 859.2 L665.5 858.2 L666.5 857.5 L667.5 857.8 L668.5 855.0 L669.5 852.6 L670.5 849.8 L671.5 847.1 L672.5 843.9 L673.5 838.9 L674.5 834.6 L675.5 828.6 L676.5 820.6 L677.5 810.6 L678.5 798.4 L679.5 781.6 L680.5 755.7 L680.8 743.0 L681.4 717.2 L681.5 714.3 L682.0 711.4 L682.5 711.4 L682.8 711.4 L683.5 711.4 L683.6 711.4 L684.2 738.6 L684.5 755.7 L684.8 768.9 L685.5 788.9 L686.5 806.3 L687.5 820.4 L688.5 831.4 L689.5 838.6 L690.5 844.2 L691.5 847.7 L692.5 852.2 L693.5 854.5 L694.5 855.7 L695.5 857.9 L696.5 858.3 L697.5 859.3 L698.5 859.3 L699.5 861.5 L700.5 863.4 L701.5 863.2 L702.5 863.1 L703.5 863.3 L704.5 863.5 L705.5 864.3 L706.5 865.4 L707.5 864.7 L708.5 865.2 L709.5 864.2 L710.5 865.6 L711.5 865.5 L712.5 865.2 L713.5 866.3 L714.5 866.0 L715.5 866.7 L716.5 867.0 L717.5 867.5 L718.5 866.4 L719.5 866.3 L720.5 866.4 L721.5 866.1 L722.5 866.9 L723.5 866.1 L724.5 866.6 L725.5 867.0 L726.5 865.4 L727.5 864.8 L728.5 864.4 L729.5 864.0 L730.5 863.9 L731.5 862.6 L732.5 860.4 L733.5 855.6 L734.1 850.9 L734.5 843.3 L734.7 840.2 L735.5 840.2 L736.3 840.3 L736.5 843.3 L736.9 850.9 L737.5 854.9 L738.5 860.5 L739.5 863.4 L740.5 864.5 L741.5 864.8 L742.5 865.2 L743.5 865.3 L744.5 864.9 L745.5 866.4 L746.5 868.3 L747.5 866.9 L748.5 866.1 L749.5 866.7 L750.5 867.0 L751.5 866.0 L752.5 865.2 L753.5 866.0 L754.5 865.2 L755.5 866.5 L756.5 866.2 L757.5 866.4 L758.5 866.4 L759.5 866.0 L760.5 865.4 L761.5 863.0 L762.5 861.5 L763.5 858.7 L764.5 855.9 L765.5 852.8 L765.6 852.2 L766.2 850.3 L766.5 849.8 L766.8 850.2 L767.5 848.8 L767.6 848.3 L768.4 850.8 L768.5 851.1 L769.0 852.0 L769.5 852.9 L769.6 852.4 L770.5 855.2 L771.5 857.8 L772.5 859.5 L773.5 861.6 L774.5 865.6 L775.5 866.7 L776.5 867.0 L777.5 867.0 L778.5 866.7 L779.5 867.0 L780.5 867.5 L781.5 867.1 L782.5 867.3 L783.5 867.7 L784.5 867.1 L785.5 867.1 L786.5 866.6 L787.5 867.1 L788.5 866.8 L789.5 867.5 L790.5 866.8 L791.5 867.8 L792.5 867.2 L793.5 866.6 L794.5 866.2 L795.5 866.8 L796.5 866.3 L797.5 866.9 L798.5 866.6 L799.5 865.8 L800.5 863.9 L800.8 863.7 L801.4 862.9 L801.5 862.0 L802.0 862.4 L802.5 863.5 L802.8 862.6 L803.5 863.4 L803.6 864.0 L804.2 863.5 L804.5 863.5 L804.8 863.9 L805.5 864.6 L806.5 864.6 L807.5 865.5 L808.5 866.1 L809.5 867.1 L810.5 866.1 L811.5 866.0 L812.5 866.0 L813.5 866.1 L814.5 866.7 L815.5 866.3 L816.5 868.0 L817.5 867.0 L818.5 867.3 L819.5 867.5 L820.5 867.6 L821.5 867.0 L822.5 866.3 L823.5 866.1 L824.5 866.6 L825.5 866.5 L826.5 866.6 L827.5 866.7 L828.5 865.9 L829.5 865.3 L830.5 866.3 L831.5 865.7 L832.5 864.7 L833.5 865.9 L834.5 865.1 L835.5 864.4 L836.5 864.9 L837.5 864.0 L838.5 863.4 L839.5 863.9 L840.5 862.9 L841.5 863.9 L842.5 862.8 L843.5 863.2 L844.5 861.5 L845.5 859.8 L846.5 857.5 L847.5 855.4 L848.5 852.7 L849.5 849.8 L850.5 846.6 L851.5 840.5 L852.4 832.0 L852.5 829.9 L853.0 824.5 L853.5 821.0 L853.6 821.0 L854.4 821.0 L854.5 821.0 L855.2 821.0 L855.5 823.4 L855.8 828.4 L856.4 837.3 L856.5 838.2 L857.5 844.4 L858.5 850.0 L859.5 852.6 L860.5 855.1 L861.5 858.0 L862.5 859.7 L863.5 861.5 L864.5 863.2 L865.5 864.5 L866.5 865.2 L867.5 864.8 L868.5 865.9 L869.5 865.0 L870.5 865.0 L871.5 865.7 L872.5 865.4 L873.5 865.4 L874.5 865.3 L875.5 866.2 L876.5 864.6 L877.5 865.7 L878.5 866.3 L879.5 866.1 L880.5 866.3 L881.5 865.5 L882.5 866.2 L883.5 867.8 L884.5 866.4 L885.5 866.9 L886.5 866.4 L887.5 865.9 L888.5 865.5 L889.5 865.4 L890.5 864.8 L891.5 864.3 L892.5 865.7 L893.5 865.6 L894.5 865.8 L895.5 865.8 L896.5 865.8 L897.5 864.7 L898.5 864.3 L899.5 864.9 L900.5 865.2 L901.5 864.6 L902.5 864.3 L903.5 863.9 L904.5 864.1 L905.5 863.9 L906.5 863.6 L907.5 863.1 L908.5 862.8 L909.5 862.4 L910.5 861.6 L911.5 861.1 L912.5 860.2 L913.5 859.7 L914.5 858.8 L915.5 857.3 L916.5 856.1 L917.5 854.4 L918.5 852.2 L919.5 849.8 L920.5 846.9 L921.5 843.8 L922.5 840.6 L923.5 836.3 L924.5 828.5 L925.5 817.3 L926.1 813.3 L926.5 813.3 L926.7 813.3 L927.5 813.3 L928.3 813.4 L928.5 814.7 L928.9 821.9 L929.5 831.7 L930.5 841.3 L931.5 847.3 L932.5 852.0 L933.5 855.3 L934.5 858.3 L935.5 860.7 L936.5 861.8 L937.5 862.9 L938.5 864.1 L939.5 865.0 L940.5 865.7 L941.5 866.5 L942.5 866.4 L943.5 867.1 L944.5 867.8 L945.5 868.2 L946.5 868.4 L947.5 868.3 L948.5 868.6 L949.5 868.6 L950.5 868.2 L951.5 868.4 L952.5 868.7 L953.5 868.7 L954.5 868.7 L955.5 868.9 L956.5 869.1 L957.5 869.3 L958.5 869.5 L959.5 869.7 L960.5 870.1 L961.5 870.1 L962.5 870.2 L963.5 869.8 L964.5 869.0 L965.5 869.4 L966.5 870.0 L967.5 870.0 L968.5 870.0 L969.5 869.8 L970.5 870.4 L971.5 870.3 L972.5 870.5 L973.5 870.9 L974.5 871.0 L975.5 871.6 L976.5 871.2 L977.5 871.4 L978.5 871.4 L979.5 871.0 L980.5 871.0 L981.5 870.8 L982.5 870.6 L983.5 870.9 L984.5 870.7 L985.5 871.4 L986.5 871.1 L987.5 870.9 L988.5 870.5 L989.5 869.7 L990.5 869.1 L991.5 868.3 L992.5 867.2 L993.5 866.0 L994.0 865.6 L994.5 866.1 L994.6 866.2 L995.2 865.8 L995.5 865.5 L996.0 865.2 L996.5 865.6 L996.8 865.4 L997.4 865.8 L997.5 865.8 L998.0 866.9 L998.5 867.0 L999.5 868.3 L1000.5 868.9 L1001.5 870.5 L1002.5 870.9 L1003.5 871.5 L1004.5 872.4 L1005.5 872.5 L1006.5 872.7 L1007.5 872.1 L1008.5 872.5 L1009.5 872.9 L1010.5 872.7 L1011.5 872.4 L1012.5 872.1 L1013.5 872.5 L1014.5 872.6 L1015.5 872.6 L1016.5 872.2 L1017.5 872.9 L1018.5 873.1 L1019.5 872.9 L1020.5 873.3 L1021.5 872.8 L1022.5 873.1 L1023.5 872.7 L1024.5 873.2 L1025.5 873.0 L1026.5 873.4 L1027.5 873.1 L1028.5 873.2 L1029.5 873.5 L1030.5 873.1 L1031.5 873.2 L1032.5 873.0 L1033.5 873.3 L1034.5 873.2 L1035.5 873.1 L1036.5 873.2 L1037.5 873.6 L1038.5 873.3 L1039.5 873.4 L1040.5 873.3 L1041.5 873.3 L1042.5 873.2 L1043.5 873.3 L1044.5 873.5 L1045.5 873.1 L1046.5 873.5 L1047.5 873.2 L1048.5 873.5 L1049.5 874.4 L1050.5 873.9 L1051.5 873.9 L1052.5 873.9 L1053.5 874.2 L1054.5 874.0 L1055.5 873.5 L1056.5 873.3 L1057.5 873.7 L1058.5 874.0 L1059.5 874.4 L1060.5 874.2 L1061.5 874.4 L1062.5 874.0 L1063.5 874.5 L1064.5 874.3 L1065.5 874.1 L1066.5 874.2 L1067.5 874.7 L1068.5 874.2 L1069.5 873.8 L1070.5 873.6 L1071.5 873.5 L1072.5 873.7 L1073.5 874.0 L1074.5 874.0 L1075.5 874.1 L1076.5 874.4 L1077.5 874.2 L1078.5 873.8 L1079.5 873.2 L1080.5 873.6 L1081.5 873.5 L1082.5 873.6 L1083.5 873.9 L1084.5 874.0 L1085.5 873.4 L1086.5 873.3 L1087.5 873.5 L1088.5 873.5 L1089.5 873.9 L1090.5 873.6 L1091.5 872.9 L1092.5 873.4 L1093.5 872.9 L1094.5 872.7 L1095.5 872.9 L1096.5 872.6 L1097.5 873.4 L1098.5 873.1 L1099.5 872.9 L1100.5 872.4 L1101.5 872.0 L1102.5 870.6 L1103.5 868.8 L1104.5 867.8 L1105.5 865.6 L1106.5 863.9 L1107.5 862.4 L1108.5 860.6 L1109.5 858.2 L1110.5 856.5 L1111.5 854.2 L1112.5 850.6 L1113.5 847.3 L1114.5 843.4 L1115.5 839.6 L1116.5 836.6 L1117.0 835.3 L1117.5 834.1 L1117.6 834.0 L1118.2 833.5 L1118.5 833.5 L1119.0 833.5 L1119.5 833.5 L1119.8 833.5 L1120.4 834.6 L1120.5 834.9 L1121.0 836.8 L1121.5 838.5 L1122.5 842.9 L1123.5 847.7 L1124.5 852.4 L1125.5 855.9 L1126.5 858.6 L1127.5 860.8 L1128.5 863.0 L1129.5 865.2 L1130.5 867.2 L1131.5 868.8 L1132.5 870.9 L1133.5 872.1 L1134.5 872.4 L1135.5 873.0 L1136.5 873.3 L1137.5 873.4 L1138.5 873.8 L1139.5 873.4 L1140.5 874.2 L1141.5 874.8 L1142.5 875.1 L1143.5 874.8 L1144.5 875.2 L1145.5 874.8 L1146.5 875.0 L1147.5 874.7 L1148.5 874.6 L1149.5 874.6 L1150.5 873.9 L1151.5 874.0 L1152.5 874.5 L1153.5 870.7 L1154.5 868.0 L1155.2 866.0 L1155.5 865.0 L1155.8 863.9 L1156.4 862.1 L1156.5 861.7 L1157.2 858.8 L1157.5 859.5 L1158.0 861.3 L1158.5 863.3 L1158.6 863.6 L1159.2 865.8 L1159.5 867.5 L1160.5 869.7 L1161.5 873.3 L1162.5 874.7 L1163.5 874.9 L1164.5 874.9 L1165.5 874.9 L1166.5 875.0 L1167.5 875.1 L1168.5 874.8 L1169.5 875.1 L1170.5 874.8 L1171.5 874.9 L1172.5 874.9 L1173.5 874.6 L1174.5 875.0 L1175.5 875.0 L1176.5 874.7 L1177.5 874.9 L1178.5 874.6 L1179.5 875.2 L1180.5 875.4 L1181.5 875.9 L1182.5 875.5 L1183.5 875.6 L1184.5 875.2 L1185.5 874.9 L1186.5 875.0 L1187.5 875.3 L1188.5 875.6 L1189.5 875.4 L1190.5 875.7 L1191.5 875.8 L1192.5 875.4 L1193.5 875.3 L1194.5 875.0 L1195.5 875.7 L1196.5 875.4 L1197.5 875.7 L1198.5 875.8 L1199.5 875.6 L1200.5 875.4 L1201.5 875.5 L1202.5 875.2 L1203.5 874.9 L1204.5 874.8 L1205.5 875.2 L1206.5 875.3 L1207.5 875.9 L1208.5 875.2 L1209.5 875.5 L1210.5 875.1 L1211.5 875.6 L1212.5 875.8 L1213.5 875.7 L1214.5 876.1 L1215.5 875.7 L1216.5 875.5 L1217.5 875.2 L1218.5 875.1 L1219.5 875.3 L1220.5 875.6 L1221.5 876.0 L1222.5 875.7 L1223.5 875.4 L1224.5 875.4 L1225.5 875.3 L1226.5 875.3 L1227.5 875.3 L1228.5 875.1 L1229.5 875.3 L1230.5 875.3 L1231.5 875.4 L1232.5 875.0 L1233.5 875.3 L1234.5 875.6 L1235.5 875.8 L1236.5 875.6 L1237.5 875.3 L1238.5 875.0 L1239.5 874.9 L1240.5 875.0 L1241.5 875.2 L1242.5 874.8 L1243.5 875.4 L1244.5 875.0 L1245.5 875.1 L1246.5 875.1 L1247.5 875.6 L1248.5 876.2 L1249.5 875.9 L1250.5 875.7 L1251.5 875.6 L1252.5 875.6 L1253.5 875.6 L1254.5 876.4 L1255.5 875.8 L1256.5 875.7 L1257.5 875.5 L1258.5 875.7 L1259.5 875.6 L1260.5 875.8 L1261.5 875.4 L1262.5 876.2 L1263.5 876.1 L1264.5 875.4 L1265.5 875.8 L1266.5 875.6 L1267.5 875.3 L1268.5 875.6 L1269.5 875.5 L1270.5 875.8 L1271.5 875.6 L1272.5 875.9 L1273.5 875.9 L1274.5 875.9 L1275.5 875.9 L1276.5 875.7 L1277.5 875.5 L1278.5 875.7 L1279.5 875.8 L1280.5 874.7 L1281.5 874.2 L1282.5 873.4 L1283.5 871.4 L1284.5 870.4 L1285.0 869.6 L1285.5 868.9 L1285.6 868.4 L1286.2 868.3 L1286.5 867.5 L1287.0 866.9 L1287.5 867.2 L1287.8 868.3 L1288.4 869.2 L1288.5 868.7 L1289.0 869.2 L1289.5 870.0 L1290.5 871.1 L1291.5 872.3 L1292.5 873.2 L1293.5 874.5 L1294.5 875.2 L1295.5 875.6 L1296.5 876.4 L1297.5 876.1 L1298.5 876.5 L1299.5 876.3 L1300.5 875.9 L1301.5 875.8 L1302.5 875.5 L1303.5 875.7 L1304.5 876.0 L1305.5 876.2 L1306.5 876.0 L1307.5 875.6 L1308.5 875.7 L1309.5 876.3 L1310.5 876.2 L1311.5 876.1 L1312.5 875.4 L1313.5 875.5 L1314.5 875.8 L1315.5 875.5 L1316.5 876.1 L1317.5 875.8 L1318.5 875.6 L1319.5 875.5 L1320.5 875.6 L1321.5 876.0 L1322.5 875.7 L1323.5 875.2 L1324.5 875.3 L1325.5 875.6 L1326.5 875.1 L1327.5 873.5 L1328.5 873.0 L1329.5 871.9 L1330.5 870.8 L1331.5 869.2 L1332.5 867.7 L1333.5 866.3 L1334.0 866.2 L1334.5 865.6 L1334.6 865.8 L1335.2 865.5 L1335.5 864.9 L1336.0 864.2 L1336.5 865.2 L1336.8 864.8 L1337.4 865.4 L1337.5 865.4 L1338.0 866.0 L1338.5 866.7 L1339.5 867.7 L1340.5 869.4 L1341.5 870.1 L1342.5 871.1 L1343.5 871.9 L1344.5 872.8 L1345.5 874.4 L1346.5 875.7 L1347.5 875.8 L1348.5 876.1 L1349.5 876.2 L1350.5 876.0 L1351.5 876.0 L1352.5 876.1 L1353.5 876.7 L1354.5 876.4 L1355.5 876.4 L1356.5 876.5 L1357.5 876.7 L1358.5 876.6 L1359.5 876.8 L1360.5 876.2 L1361.5 876.1 L1362.5 875.6 L1363.5 875.8 L1364.5 876.7 L1365.5 876.6 L1366.5 876.5 L1367.5 876.5 L1368.5 876.4 L1369.5 876.0 L1370.5 875.9 L1371.5 876.0 L1372.5 876.2 L1373.5 876.0 L1374.5 876.1 L1375.5 876.0 L1376.5 875.7 L1377.5 875.8 L1378.5 875.8 L1379.5 876.3 L1380.5 876.7 L1381.5 876.7 L1382.5 876.5 L1383.5 876.3 L1384.5 875.9 L1385.5 875.9 L1386.5 876.6 L1387.5 876.9 L1388.5 876.7 L1389.5 876.5 L1390.5 876.5 L1391.5 876.6 L1392.5 876.5 L1393.5 876.6 L1394.5 876.3 L1395.5 876.4 L1396.5 876.3 L1397.5 876.7 L1398.5 876.2 L1399.5 876.7 L1400.5 876.6 L1401.5 876.4 L1402.5 876.4 L1403.5 876.5 L1404.5 876.4 L1405.5 876.6 L1406.5 876.4 L1407.5 875.9 L1408.5 876.4 L1409.5 876.4 L1410.5 877.0 L1411.5 876.9 L1412.5 876.1 L1413.5 876.7 L1414.5 876.4 L1415.5 876.6 L1416.5 877.3 L1417.5 877.3 L1418.5 876.7 L1419.5 876.6 L1420.5 876.1 L1421.5 876.5 L1422.5 876.7 L1423.5 876.3 L1424.5 876.6 L1425.5 876.8 L1426.5 877.0 L1427.5 876.6 L1428.5 876.4 L1429.5 876.1 L1430.5 875.9 L1431.5 876.3 L1432.5 876.4 L1433.5 876.9 L1434.5 876.8 L1435.5 876.7 L1436.5 876.2 L1437.5 876.8 L1438.5 876.8 L1439.5 876.7 L1440.5 876.4 L1441.5 876.2 L1442.5 876.5 L1443.5 876.3 L1444.5 876.6 L1445.5 876.8 L1446.5 876.6 L1447.5 876.1 L1448.5 876.4 L1449.5 876.9 L1450.5 876.6 L1451.5 876.2 L1452.5 876.7 L1453.5 876.7 L1454.5 876.5 L1455.5 876.9 L1456.5 876.7 L1457.5 876.8 L1458.5 876.6 L1459.5 876.4 L1460.5 876.5 L1461.5 876.3 L1462.5 875.8 L1463.5 876.0 L1464.5 876.5 L1465.5 876.8 L1466.5 877.3 L1467.5 877.3 L1468.5 877.4 L1469.5 877.0 L1470.5 876.6 L1471.5 876.0 L1472.5 874.7 L1473.5 874.1 L1474.5 872.9 L1475.5 872.1 L1476.5 870.8 L1477.5 869.9 L1478.5 869.2 L1479.5 868.0 L1480.5 866.7 L1481.4 865.9 L1481.5 866.0 L1482.0 865.4 L1482.5 864.5 L1482.6 864.1 L1483.4 863.2 L1483.5 863.9 L1484.2 864.6 L1484.5 865.1 L1484.8 865.6 L1485.4 866.2 L1485.5 866.3 L1486.5 867.1 L1487.5 867.7 L1488.5 869.2 L1489.5 870.2 L1490.5 871.4 L1491.5 872.0 L1492.5 873.1 L1493.5 874.7 L1494.5 875.1 L1495.5 876.0 L1496.5 876.9 L1497.5 876.7 L1498.5 876.7 L1499.5 876.0 L1500.5 876.5 L1501.5 876.5 L1502.5 877.0 L1503.5 876.8 L1504.5 876.7 L1505.5 876.9 L1506.5 876.8 L1507.5 876.6 L1508.5 877.2 L1509.5 877.3 L1510.5 877.2 L1511.5 877.3 L1512.5 877.4 L1513.5 877.3 L1514.5 877.2 L1515.5 877.1 L1516.5 877.1 L1517.5 877.2 L1518.5 877.2 L1519.5 876.9 L1520.5 876.9 L1521.5 877.1"/>
<path stroke="#000" d="M186.0 1013.3 L187.0 1018.8 L188.0 1023.5 L189.0 1026.7 L190.0 1029.0 L191.0 1030.9 L192.0 1032.2 L193.0 1034.0 L194.0 1034.6 L195.0 1034.4 L196.0 1034.7 L197.0 1035.7 L198.0 1036.4 L199.0 1036.5 L200.0 1036.4 L201.0 1037.0 L202.0 1037.2 L203.0 1037.5 L204.0 1038.2 L205.0 1038.2 L206.0 1039.0 L207.0 1038.9 L208.0 1039.2 L209.0 1039.5 L210.0 1040.7 L211.0 1041.6 L212.0 1041.9 L213.0 1041.3 L214.0 1041.4 L215.0 1042.0 L216.0 1042.4 L217.0 1041.5 L218.0 1041.8 L219.0 1041.7 L220.0 1042.6 L221.0 1043.2 L222.0 1042.9 L223.0 1044.4 L224.0 1044.0 L225.0 1045.3 L226.0 1044.8 L227.0 1044.6 L228.0 1045.7 L229.0 1045.1 L230.0 1044.9 L231.0 1045.8 L232.0 1045.6 L233.0 1045.9 L234.0 1045.2 L235.0 1046.5 L236.0 1046.9 L237.0 1046.8 L238.0 1047.1 L239.0 1046.6 L240.0 1046.5 L241.0 1045.8 L242.0 1046.6 L243.0 1047.6 L244.0 1048.0 L245.0 1048.4 L246.0 1048.6 L247.0 1047.9 L248.0 1047.3 L249.0 1048.1 L250.0 1048.4 L251.0 1049.1 L252.0 1048.9 L253.0 1048.5 L254.0 1049.1 L255.0 1048.9 L256.0 1048.4 L257.0 1048.6 L258.0 1048.7 L259.0 1048.7 L260.0 1049.1 L261.0 1050.2 L262.0 1051.7 L263.0 1052.3 L264.0 1051.6 L265.0 1052.1 L266.0 1051.8 L267.0 1051.9 L268.0 1051.4 L269.0 1051.5 L270.0 1050.8 L271.0 1052.2 L272.0 1051.8 L273.0 1052.3 L274.0 1052.0 L275.0 1052.4 L276.0 1051.9 L277.0 1052.0 L278.0 1052.9 L279.0 1053.3 L280.0 1052.2 L281.0 1053.1 L282.0 1052.6 L283.0 1053.1 L284.0 1053.6 L285.0 1053.4 L286.0 1053.4 L287.0 1053.5 L288.0 1054.0 L289.0 1054.6 L290.0 1055.3 L291.0 1055.2 L292.0 1056.0 L293.0 1055.0 L294.0 1056.0 L295.0 1055.5 L296.0 1055.8 L297.0 1055.5 L298.0 1055.6 L299.0 1055.1 L300.0 1055.4 L301.0 1056.6 L302.0 1056.3 L303.0 1056.0 L304.0 1055.8 L305.0 1056.1 L306.0 1055.9 L307.0 1055.8 L308.0 1055.9 L309.0 1056.5 L310.0 1056.7 L311.0 1055.5 L312.0 1054.3 L313.0 1053.5 L314.0 1053.1 L315.0 1052.5 L315.6 1051.5 L316.0 1052.2 L316.2 1051.3 L317.0 1051.1 L317.8 1052.1 L318.0 1052.6 L318.4 1052.5 L319.0 1053.0 L320.0 1052.8 L321.0 1052.9 L322.0 1054.0 L323.0 1055.7 L324.0 1056.7 L325.0 1056.5 L326.0 1057.1 L327.0 1057.2 L328.0 1057.7 L329.0 1056.4 L330.0 1056.1 L331.0 1055.8 L332.0 1055.6 L333.0 1057.0 L334.0 1056.5 L335.0 1056.2 L336.0 1056.3 L337.0 1057.0 L338.0 1056.8 L339.0 1057.3 L340.0 1057.5 L341.0 1057.0 L342.0 1055.8 L343.0 1055.9 L344.0 1055.8 L345.0 1057.3 L346.0 1056.9 L347.0 1056.5 L348.0 1057.1 L349.0 1057.2 L350.0 1056.8 L351.0 1057.7 L352.0 1058.1 L353.0 1058.1 L354.0 1057.5 L355.0 1057.1 L356.0 1056.2 L357.0 1057.0 L358.0 1057.5 L359.0 1057.1 L360.0 1057.4 L361.0 1059.4 L362.0 1058.2 L363.0 1057.1 L364.0 1057.8 L365.0 1057.6 L366.0 1057.5 L367.0 1058.0 L368.0 1057.9 L369.0 1058.5 L370.0 1058.6 L371.0 1059.0 L372.0 1058.7 L373.0 1057.2 L374.0 1058.3 L375.0 1057.3 L376.0 1058.2 L377.0 1058.3 L378.0 1057.5 L379.0 1057.8 L380.0 1058.4 L381.0 1057.7 L382.0 1057.9 L383.0 1057.6 L384.0 1057.3 L385.0 1057.3 L386.0 1058.4 L387.0 1058.7 L388.0 1058.5 L389.0 1058.3 L390.0 1058.4 L391.0 1058.5 L392.0 1058.5 L393.0 1057.4 L394.0 1058.2 L395.0 1057.7 L396.0 1056.5 L397.0 1057.6 L398.0 1057.2 L399.0 1057.5 L400.0 1057.7 L401.0 1057.5 L402.0 1058.0 L403.0 1057.8 L404.0 1057.7 L405.0 1057.3 L406.0 1057.4 L407.0 1056.9 L408.0 1057.3 L409.0 1058.1 L410.0 1058.4 L411.0 1058.2 L412.0 1057.1 L413.0 1057.7 L414.0 1057.8 L415.0 1058.5 L416.0 1056.5 L417.0 1056.4 L418.0 1056.0 L419.0 1056.4 L420.0 1055.3 L421.0 1054.8 L422.0 1055.7 L423.0 1055.2 L424.0 1053.0 L425.0 1052.2 L426.0 1051.9 L427.0 1050.0 L428.0 1048.6 L429.0 1046.3 L430.0 1042.6 L431.0 1038.9 L432.0 1034.9 L433.0 1029.1 L434.0 1020.1 L435.0 1009.6 L436.0 993.9 L437.0 967.5 L437.4 948.6 L438.0 927.9 L438.6 928.0 L439.0 927.9 L439.4 928.0 L440.0 928.0 L440.2 928.0 L440.8 972.0 L441.0 981.6 L441.4 996.4 L442.0 1010.5 L443.0 1028.6 L444.0 1039.1 L445.0 1045.7 L446.0 1049.6 L447.0 1052.3 L448.0 1054.1 L449.0 1054.8 L450.0 1055.3 L451.0 1056.6 L452.0 1058.0 L453.0 1058.5 L454.0 1059.7 L455.0 1058.8 L456.0 1059.0 L457.0 1059.0 L458.0 1060.1 L459.0 1061.0 L460.0 1060.4 L461.0 1060.8 L462.0 1060.5 L463.0 1060.0 L464.0 1060.2 L465.0 1059.8 L466.0 1061.0 L467.0 1061.3 L468.0 1061.8 L469.0 1061.7 L470.0 1060.1 L471.0 1060.9 L472.0 1061.0 L473.0 1059.8 L474.0 1060.4 L475.0 1061.2 L476.0 1062.1 L477.0 1061.2 L478.0 1061.6 L479.0 1061.6 L480.0 1061.4 L481.0 1061.2 L482.0 1061.5 L483.0 1061.7 L484.0 1061.9 L485.0 1061.4 L486.0 1060.7 L487.0 1061.7 L488.0 1062.2 L489.0 1061.5 L490.0 1061.4 L491.0 1061.8 L492.0 1060.7 L493.0 1061.2 L494.0 1062.6 L495.0 1062.3 L496.0 1061.5 L497.0 1062.6 L498.0 1062.1 L499.0 1061.9 L500.0 1061.5 L501.0 1061.6 L502.0 1060.5 L503.0 1060.2 L504.0 1059.9 L505.0 1061.0 L506.0 1061.1 L507.0 1061.9 L508.0 1060.6 L509.0 1060.6 L510.0 1061.7 L511.0 1061.2 L512.0 1060.3 L513.0 1060.4 L514.0 1060.6 L515.0 1061.0 L516.0 1061.9 L517.0 1062.4 L518.0 1062.9 L519.0 1062.6 L520.0 1061.9 L521.0 1061.5 L522.0 1060.7 L523.0 1061.7 L524.0 1062.3 L525.0 1062.0 L526.0 1061.3 L527.0 1061.8 L528.0 1061.9 L529.0 1061.9 L530.0 1061.1 L531.0 1061.4 L532.0 1061.1 L533.0 1061.7 L534.0 1061.9 L535.0 1062.0 L536.0 1061.6 L537.0 1062.4 L538.0 1062.5 L539.0 1062.8 L540.0 1062.7 L541.0 1062.6 L542.0 1062.4 L543.0 1061.5 L544.0 1060.5 L545.0 1060.4 L546.0 1061.2 L547.0 1061.8 L548.0 1061.8 L549.0 1061.7 L550.0 1062.6 L551.0 1062.0 L552.0 1060.8 L553.0 1060.3 L554.0 1060.6 L555.0 1061.3 L556.0 1061.8 L557.0 1061.6 L558.0 1062.0 L559.0 1061.8 L560.0 1061.3 L561.0 1061.1 L562.0 1061.7 L563.0 1062.1 L564.0 1061.2 L565.0 1060.7 L566.0 1061.1 L567.0 1062.3 L568.0 1061.3 L569.0 1060.5 L570.0 1060.0 L571.0 1059.5 L572.0 1058.1 L573.0 1057.2 L574.0 1056.4 L575.0 1054.3 L575.3 1054.3 L575.9 1054.1 L576.0 1054.5 L576.5 1054.4 L577.0 1053.6 L577.3 1052.3 L578.0 1053.8 L578.1 1054.2 L578.7 1054.2 L579.0 1055.1 L579.3 1055.7 L580.0 1056.1 L581.0 1055.7 L582.0 1056.9 L583.0 1057.8 L584.0 1058.7 L585.0 1060.0 L586.0 1060.3 L587.0 1060.9 L588.0 1062.1 L589.0 1061.2 L590.0 1061.9 L591.0 1061.4 L592.0 1061.7 L593.0 1061.6 L594.0 1062.2 L595.0 1061.5 L596.0 1061.9 L597.0 1061.3 L598.0 1061.5 L599.0 1061.5 L600.0 1062.1 L601.0 1061.0 L602.0 1060.4 L603.0 1061.6 L604.0 1061.7 L605.0 1062.5 L606.0 1061.5 L607.0 1061.6 L608.0 1061.9 L609.0 1062.6 L610.0 1062.1 L611.0 1061.6 L612.0 1061.9 L613.0 1061.6 L614.0 1061.1 L615.0 1061.6 L616.0 1060.5 L617.0 1060.3 L618.0 1061.4 L619.0 1061.1 L620.0 1061.0 L621.0 1061.3 L622.0 1061.9 L623.0 1061.9 L624.0 1061.1 L625.0 1060.8 L626.0 1061.5 L627.0 1061.3 L628.0 1060.8 L629.0 1061.4 L630.0 1061.9 L631.0 1062.7 L632.0 1061.4 L633.0 1060.8 L634.0 1060.4 L635.0 1060.8 L636.0 1060.5 L637.0 1061.2 L638.0 1059.5 L639.0 1060.4 L640.0 1060.1 L641.0 1060.1 L642.0 1060.4 L643.0 1060.4 L644.0 1059.7 L645.0 1060.6 L646.0 1060.6 L647.0 1059.9 L648.0 1059.8 L649.0 1059.0 L650.0 1058.3 L651.0 1058.4 L652.0 1058.6 L653.0 1058.5 L654.0 1057.9 L655.0 1057.0 L656.0 1056.1 L657.0 1057.1 L658.0 1056.7 L659.0 1055.4 L660.0 1055.0 L661.0 1053.2 L662.0 1049.0 L662.4 1046.2 L663.0 1041.1 L663.6 1028.5 L664.0 1028.2 L664.4 1027.9 L665.0 1027.4 L665.2 1027.2 L665.8 1038.7 L666.0 1040.3 L666.4 1043.0 L667.0 1045.6 L668.0 1047.0 L669.0 1045.8 L670.0 1044.4 L671.0 1041.8 L672.0 1039.3 L673.0 1034.8 L674.0 1029.9 L675.0 1023.4 L676.0 1015.5 L677.0 1005.7 L678.0 994.1 L679.0 976.3 L680.0 943.5 L680.6 914.9 L681.0 907.8 L681.2 907.8 L682.0 907.8 L682.8 907.8 L683.0 913.0 L683.4 938.9 L684.0 970.1 L685.0 994.3 L686.0 1010.5 L687.0 1022.0 L688.0 1031.1 L689.0 1038.4 L690.0 1042.5 L691.0 1046.8 L692.0 1048.5 L693.0 1051.2 L694.0 1051.6 L695.0 1052.5 L696.0 1054.4 L697.0 1055.1 L698.0 1055.8 L699.0 1056.3 L700.0 1056.9 L701.0 1057.1 L702.0 1056.9 L703.0 1057.3 L704.0 1057.8 L705.0 1057.6 L706.0 1058.3 L707.0 1059.4 L708.0 1058.3 L709.0 1058.3 L710.0 1058.4 L711.0 1058.7 L712.0 1059.0 L713.0 1058.7 L714.0 1058.9 L715.0 1059.1 L716.0 1059.1 L717.0 1060.1 L718.0 1059.9 L719.0 1058.9 L720.0 1058.3 L721.0 1059.1 L722.0 1059.1 L723.0 1058.9 L724.0 1058.5 L725.0 1058.7 L726.0 1059.0 L727.0 1058.9 L728.0 1059.0 L729.0 1059.6 L730.0 1060.0 L731.0 1060.0 L732.0 1058.5 L733.0 1053.8 L733.5 1052.4 L734.0 1051.0 L734.1 1050.9 L734.7 1048.4 L735.0 1046.7 L735.5 1044.5 L736.0 1046.2 L736.3 1048.0 L736.9 1050.2 L737.0 1051.6 L737.5 1053.6 L738.0 1055.0 L739.0 1058.6 L740.0 1058.8 L741.0 1058.8 L742.0 1059.0 L743.0 1060.6 L744.0 1059.8 L745.0 1060.3 L746.0 1060.1 L747.0 1059.7 L748.0 1060.0 L749.0 1058.7 L750.0 1059.5 L751.0 1060.4 L752.0 1060.0 L753.0 1059.4 L754.0 1059.1 L755.0 1058.9 L756.0 1057.9 L757.0 1057.2 L758.0 1056.3 L759.0 1054.2 L760.0 1051.7 L761.0 1047.6 L761.2 1046.8 L761.8 1040.8 L762.0 1037.8 L762.4 1032.8 L763.0 1032.8 L763.2 1032.8 L764.0 1032.7 L764.6 1040.6 L765.0 1044.4 L765.2 1045.4 L766.0 1046.9 L767.0 1047.7 L768.0 1048.0 L769.0 1048.0 L769.6 1047.8 L770.0 1046.6 L770.2 1045.9 L771.0 1045.7 L771.8 1046.7 L772.0 1048.0 L772.4 1048.9 L773.0 1050.2 L774.0 1053.2 L775.0 1055.4 L776.0 1056.8 L777.0 1058.0 L778.0 1059.0 L779.0 1059.7 L780.0 1060.5 L781.0 1058.9 L782.0 1060.1 L783.0 1060.5 L784.0 1061.2 L785.0 1061.2 L786.0 1060.9 L787.0 1060.9 L788.0 1060.9 L789.0 1060.3 L790.0 1060.3 L791.0 1060.4 L792.0 1060.1 L793.0 1059.4 L794.0 1059.0 L795.0 1059.8 L796.0 1060.3 L797.0 1060.4 L798.0 1059.7 L799.0 1060.3 L800.0 1059.6 L801.0 1058.1 L802.0 1059.0 L803.0 1057.6 L803.6 1058.8 L804.0 1058.6 L804.2 1058.0 L805.0 1056.3 L805.8 1056.7 L806.0 1058.0 L806.4 1058.9 L807.0 1059.0 L808.0 1058.3 L809.0 1058.7 L810.0 1059.2 L811.0 1060.1 L812.0 1060.1 L813.0 1060.4 L814.0 1059.4 L815.0 1059.4 L816.0 1060.5 L817.0 1059.6 L818.0 1060.3 L819.0 1061.4 L820.0 1061.2 L821.0 1060.0 L822.0 1060.6 L823.0 1059.3 L824.0 1059.7 L825.0 1059.5 L826.0 1060.3 L827.0 1060.7 L828.0 1060.3 L829.0 1060.9 L830.0 1060.8 L831.0 1059.9 L832.0 1059.1 L833.0 1060.3 L834.0 1059.5 L835.0 1059.3 L836.0 1058.8 L837.0 1058.2 L838.0 1057.1 L839.0 1057.0 L840.0 1056.8 L841.0 1057.0 L842.0 1056.0 L843.0 1054.5 L844.0 1053.3 L845.0 1052.6 L846.0 1051.5 L847.0 1050.1 L848.0 1047.4 L849.0 1044.6 L850.0 1040.7 L851.0 1036.4 L852.0 1028.2 L852.4 1023.0 L853.0 1011.9 L853.6 1007.1 L854.0 1007.1 L854.4 1007.1 L855.0 1007.1 L855.2 1007.1 L855.8 1017.1 L856.0 1021.8 L856.4 1027.9 L857.0 1035.5 L858.0 1041.9 L859.0 1046.9 L860.0 1050.4 L861.0 1052.6 L862.0 1053.1 L863.0 1055.2 L864.0 1056.2 L865.0 1056.0 L866.0 1056.8 L867.0 1057.7 L868.0 1058.5 L869.0 1058.6 L870.0 1058.4 L871.0 1059.0 L872.0 1058.6 L873.0 1058.8 L874.0 1059.4 L875.0 1058.5 L876.0 1059.1 L877.0 1058.1 L878.0 1058.1 L879.0 1058.0 L880.0 1058.5 L881.0 1059.3 L882.0 1059.3 L883.0 1059.9 L884.0 1059.8 L885.0 1059.5 L886.0 1059.8 L887.0 1059.5 L888.0 1059.5 L889.0 1060.0 L890.0 1059.4 L891.0 1060.0 L892.0 1059.1 L893.0 1059.0 L894.0 1058.1 L895.0 1058.2 L896.0 1059.4 L897.0 1059.4 L898.0 1059.9 L899.0 1058.6 L900.0 1058.4 L901.0 1058.5 L902.0 1058.7 L903.0 1058.7 L904.0 1057.8 L905.0 1057.9 L906.0 1057.6 L907.0 1057.3 L908.0 1057.1 L909.0 1056.6 L910.0 1055.6 L911.0 1054.9 L912.0 1054.1 L913.0 1053.3 L914.0 1052.7 L915.0 1052.3 L916.0 1050.8 L917.0 1049.2 L918.0 1047.2 L919.0 1044.8 L920.0 1042.8 L921.0 1039.9 L922.0 1036.7 L923.0 1032.3 L924.0 1026.6 L925.0 1016.3 L925.5 1010.0 L926.0 1005.6 L926.1 1005.4 L926.7 1005.3 L927.0 1005.4 L927.5 1005.4 L928.0 1005.4 L928.3 1005.4 L928.9 1015.3 L929.0 1017.5 L929.5 1026.4 L930.0 1031.6 L931.0 1038.7 L932.0 1043.9 L933.0 1047.9 L934.0 1051.4 L935.0 1052.9 L936.0 1054.6 L937.0 1056.4 L938.0 1057.3 L939.0 1058.1 L940.0 1059.2 L941.0 1059.1 L942.0 1059.6 L943.0 1060.2 L944.0 1060.2 L945.0 1060.0 L946.0 1060.2 L947.0 1060.7 L948.0 1061.0 L949.0 1061.8 L950.0 1062.1 L951.0 1061.5 L952.0 1062.0 L953.0 1062.2 L954.0 1062.6 L955.0 1062.4 L956.0 1062.1 L957.0 1062.2 L958.0 1062.7 L959.0 1062.8 L960.0 1063.1 L961.0 1063.1 L962.0 1062.8 L963.0 1062.4 L964.0 1063.1 L965.0 1062.6 L966.0 1062.6 L967.0 1062.7 L968.0 1062.6 L969.0 1062.6 L970.0 1062.9 L971.0 1063.7 L972.0 1063.6 L973.0 1063.3 L974.0 1063.4 L975.0 1063.7 L976.0 1063.4 L977.0 1063.4 L978.0 1063.0 L979.0 1063.5 L980.0 1063.8 L981.0 1064.3 L982.0 1063.7 L983.0 1064.5 L984.0 1064.5 L985.0 1064.2 L986.0 1064.0 L987.0 1063.4 L988.0 1062.3 L989.0 1061.9 L990.0 1060.9 L991.0 1059.9 L992.0 1059.2 L992.8 1058.5 L993.0 1058.1 L993.4 1057.8 L994.0 1057.2 L994.8 1057.0 L995.0 1057.4 L995.6 1057.6 L996.0 1057.9 L996.2 1058.5 L996.8 1058.9 L997.0 1059.6 L998.0 1060.5 L999.0 1061.5 L1000.0 1061.7 L1001.0 1063.0 L1002.0 1064.0 L1003.0 1065.0 L1004.0 1065.3 L1005.0 1065.4 L1006.0 1065.2 L1007.0 1065.6 L1008.0 1065.5 L1009.0 1065.2 L1010.0 1065.1 L1011.0 1065.3 L1012.0 1065.6 L1013.0 1065.0 L1014.0 1064.7 L1015.0 1065.5 L1016.0 1065.7 L1017.0 1066.7 L1018.0 1066.0 L1019.0 1066.0 L1020.0 1065.9 L1021.0 1066.2 L1022.0 1066.6 L1023.0 1067.0 L1024.0 1066.5 L1025.0 1066.8 L1026.0 1066.3 L1027.0 1066.5 L1028.0 1066.6 L1029.0 1066.8 L1030.0 1066.6 L1031.0 1067.1 L1032.0 1066.9 L1033.0 1066.9 L1034.0 1066.9 L1035.0 1066.6 L1036.0 1067.0 L1037.0 1067.2 L1038.0 1067.3 L1039.0 1067.8 L1040.0 1067.3 L1041.0 1067.3 L1042.0 1067.3 L1043.0 1067.6 L1044.0 1067.5 L1045.0 1067.8 L1046.0 1067.9 L1047.0 1067.2 L1048.0 1067.2 L1049.0 1066.8 L1050.0 1067.1 L1051.0 1067.3 L1052.0 1067.7 L1053.0 1067.9 L1054.0 1067.9 L1055.0 1068.3 L1056.0 1068.4 L1057.0 1067.9 L1058.0 1067.8 L1059.0 1068.1 L1060.0 1068.7 L1061.0 1068.4 L1062.0 1068.3 L1063.0 1068.3 L1064.0 1068.5 L1065.0 1068.4 L1066.0 1068.4 L1067.0 1068.2 L1068.0 1068.0 L1069.0 1067.9 L1070.0 1068.2 L1071.0 1068.0 L1072.0 1068.2 L1073.0 1068.3 L1074.0 1068.6 L1075.0 1067.6 L1076.0 1067.5 L1077.0 1067.4 L1078.0 1067.6 L1079.0 1068.0 L1080.0 1068.8 L1081.0 1069.0 L1082.0 1069.0 L1083.0 1068.7 L1084.0 1068.3 L1085.0 1068.3 L1086.0 1067.5 L1087.0 1067.9 L1088.0 1067.8 L1089.0 1068.0 L1090.0 1067.5 L1091.0 1067.2 L1092.0 1067.2 L1093.0 1067.2 L1094.0 1067.4 L1095.0 1067.2 L1096.0 1067.3 L1097.0 1067.3 L1098.0 1066.7 L1099.0 1066.6 L1100.0 1066.0 L1101.0 1065.9 L1102.0 1066.0 L1103.0 1064.4 L1104.0 1063.6 L1105.0 1062.0 L1106.0 1060.4 L1107.0 1058.5 L1108.0 1056.7 L1109.0 1054.7 L1110.0 1052.1 L1111.0 1049.1 L1112.0 1045.8 L1113.0 1042.9 L1114.0 1038.7 L1115.0 1034.2 L1116.0 1029.7 L1117.0 1025.8 L1117.6 1025.1 L1118.0 1024.5 L1118.2 1024.5 L1119.0 1024.5 L1119.8 1024.5 L1120.0 1024.8 L1120.4 1025.8 L1121.0 1028.1 L1122.0 1032.9 L1123.0 1038.6 L1124.0 1043.2 L1125.0 1047.4 L1126.0 1051.1 L1127.0 1054.0 L1128.0 1056.4 L1129.0 1059.6 L1130.0 1062.0 L1131.0 1063.2 L1132.0 1065.2 L1133.0 1066.1 L1134.0 1066.6 L1135.0 1066.6 L1136.0 1067.2 L1137.0 1067.5 L1138.0 1068.2 L1139.0 1068.5 L1140.0 1068.2 L1141.0 1068.4 L1142.0 1068.2 L1143.0 1068.2 L1144.0 1068.1 L1145.0 1067.7 L1146.0 1068.2 L1147.0 1067.7 L1148.0 1067.9 L1149.0 1068.3 L1150.0 1068.4 L1151.0 1068.0 L1152.0 1068.0 L1153.0 1068.3 L1154.0 1068.6 L1155.0 1067.2 L1156.0 1063.4 L1156.6 1061.7 L1157.0 1060.3 L1157.2 1059.8 L1157.8 1057.2 L1158.0 1056.7 L1158.6 1055.2 L1159.0 1056.2 L1159.4 1057.4 L1160.0 1059.3 L1160.6 1061.9 L1161.0 1062.8 L1162.0 1065.7 L1163.0 1068.1 L1164.0 1068.3 L1165.0 1069.2 L1166.0 1069.2 L1167.0 1068.8 L1168.0 1069.1 L1169.0 1069.2 L1170.0 1069.2 L1171.0 1069.1 L1172.0 1069.2 L1173.0 1068.8 L1174.0 1068.6 L1175.0 1068.7 L1176.0 1068.5 L1177.0 1069.0 L1178.0 1069.7 L1179.0 1069.8 L1180.0 1069.7 L1181.0 1069.6 L1182.0 1069.3 L1183.0 1068.9 L1184.0 1069.2 L1185.0 1068.8 L1186.0 1069.1 L1187.0 1069.1 L1188.0 1069.4 L1189.0 1069.4 L1190.0 1069.4 L1191.0 1069.2 L1192.0 1068.7 L1193.0 1068.9 L1194.0 1069.3 L1195.0 1069.6 L1196.0 1069.9 L1197.0 1069.4 L1198.0 1069.1 L1199.0 1069.5 L1200.0 1069.3 L1201.0 1070.1 L1202.0 1069.9 L1203.0 1069.3 L1204.0 1069.2 L1205.0 1069.8 L1206.0 1069.1 L1207.0 1069.3 L1208.0 1068.9 L1209.0 1069.6 L1210.0 1069.4 L1211.0 1069.2 L1212.0 1068.8 L1213.0 1068.9 L1214.0 1068.4 L1215.0 1068.7 L1216.0 1069.7 L1217.0 1069.6 L1218.0 1069.5 L1219.0 1069.2 L1220.0 1069.4 L1221.0 1069.3 L1222.0 1069.2 L1223.0 1069.7 L1224.0 1069.8 L1225.0 1069.4 L1226.0 1069.9 L1227.0 1069.8 L1228.0 1069.9 L1229.0 1069.8 L1230.0 1070.1 L1231.0 1070.1 L1232.0 1069.8 L1233.0 1069.9 L1234.0 1069.7 L1235.0 1069.7 L1236.0 1070.2 L1237.0 1069.6 L1238.0 1069.3 L1239.0 1069.3 L1240.0 1069.3 L1241.0 1069.8 L1242.0 1069.3 L1243.0 1070.1 L1244.0 1070.4 L1245.0 1070.0 L1246.0 1069.9 L1247.0 1069.7 L1248.0 1069.9 L1249.0 1070.0 L1250.0 1070.1 L1251.0 1070.2 L1252.0 1070.6 L1253.0 1070.2 L1254.0 1070.2 L1255.0 1069.9 L1256.0 1069.9 L1257.0 1069.9 L1258.0 1069.8 L1259.0 1069.9 L1260.0 1069.6 L1261.0 1069.6 L1262.0 1069.5 L1263.0 1069.2 L1264.0 1069.2 L1265.0 1069.3 L1266.0 1069.4 L1267.0 1069.1 L1268.0 1069.3 L1269.0 1069.1 L1270.0 1069.1 L1271.0 1069.4 L1272.0 1069.9 L1273.0 1069.9 L1274.0 1069.6 L1275.0 1069.5 L1276.0 1069.9 L1277.0 1069.3 L1278.0 1069.7 L1279.0 1068.8 L1280.0 1067.9 L1281.0 1067.2 L1282.0 1066.3 L1283.0 1065.9 L1284.0 1064.8 L1285.0 1063.6 L1285.6 1063.2 L1286.0 1062.6 L1286.2 1062.1 L1287.0 1061.7 L1287.8 1062.8 L1288.0 1063.1 L1288.4 1062.9 L1289.0 1064.0 L1290.0 1064.7 L1291.0 1065.9 L1292.0 1067.1 L1293.0 1068.5 L1294.0 1068.5 L1295.0 1069.0 L1296.0 1069.9 L1297.0 1070.0 L1298.0 1069.8 L1299.0 1068.9 L1300.0 1069.4 L1301.0 1069.5 L1302.0 1068.9 L1303.0 1070.1 L1304.0 1069.2 L1305.0 1069.3 L1306.0 1069.5 L1307.0 1069.7 L1308.0 1070.0 L1309.0 1069.9 L1310.0 1069.6 L1311.0 1069.6 L1312.0 1069.1 L1313.0 1069.1 L1314.0 1070.0 L1315.0 1069.7 L1316.0 1069.8 L1317.0 1070.4 L1318.0 1070.5 L1319.0 1070.2 L1320.0 1070.3 L1321.0 1070.0 L1322.0 1069.6 L1323.0 1069.9 L1324.0 1069.8 L1325.0 1070.2 L1326.0 1069.3 L1327.0 1067.9 L1328.0 1066.7 L1329.0 1065.4 L1330.0 1064.0 L1331.0 1062.5 L1332.0 1061.3 L1333.0 1060.0 L1334.0 1059.1 L1334.6 1058.0 L1335.0 1056.8 L1335.2 1056.8 L1336.0 1056.6 L1336.8 1057.2 L1337.0 1057.1 L1337.4 1057.6 L1338.0 1057.6 L1339.0 1059.3 L1340.0 1061.0 L1341.0 1062.1 L1342.0 1063.9 L1343.0 1065.0 L1344.0 1065.9 L1345.0 1067.2 L1346.0 1068.9 L1347.0 1070.2 L1348.0 1070.4 L1349.0 1070.3 L1350.0 1070.0 L1351.0 1069.9 L1352.0 1070.3 L1353.0 1070.0 L1354.0 1070.2 L1355.0 1070.4 L1356.0 1070.0 L1357.0 1069.9 L1358.0 1070.1 L1359.0 1070.2 L1360.0 1070.1 L1361.0 1070.0 L1362.0 1070.1 L1363.0 1070.7 L1364.0 1070.9 L1365.0 1070.2 L1366.0 1070.2 L1367.0 1070.3 L1368.0 1070.3 L1369.0 1069.9 L1370.0 1070.0 L1371.0 1070.2 L1372.0 1070.0 L1373.0 1070.2 L1374.0 1069.5 L1375.0 1069.4 L1376.0 1069.8 L1377.0 1070.1 L1378.0 1070.2 L1379.0 1070.1 L1380.0 1070.3 L1381.0 1070.6 L1382.0 1070.8 L1383.0 1070.6 L1384.0 1070.4 L1385.0 1070.7 L1386.0 1070.7 L1387.0 1070.9 L1388.0 1070.6 L1389.0 1070.3 L1390.0 1070.4 L1391.0 1070.2 L1392.0 1070.6 L1393.0 1070.8 L1394.0 1070.0 L1395.0 1070.4 L1396.0 1070.8 L1397.0 1071.0 L1398.0 1070.6 L1399.0 1070.3 L1400.0 1070.7 L1401.0 1070.9 L1402.0 1070.8 L1403.0 1070.3 L1404.0 1069.9 L1405.0 1070.2 L1406.0 1070.1 L1407.0 1070.1 L1408.0 1070.4 L1409.0 1070.8 L1410.0 1070.1 L1411.0 1070.1 L1412.0 1070.7 L1413.0 1070.6 L1414.0 1070.5 L1415.0 1070.7 L1416.0 1070.3 L1417.0 1070.1 L1418.0 1070.3 L1419.0 1070.9 L1420.0 1071.1 L1421.0 1070.9 L1422.0 1071.1 L1423.0 1070.8 L1424.0 1070.4 L1425.0 1070.0 L1426.0 1070.4 L1427.0 1070.8 L1428.0 1070.9 L1429.0 1070.8 L1430.0 1070.7 L1431.0 1071.0 L1432.0 1070.9 L1433.0 1070.4 L1434.0 1071.0 L1435.0 1070.7 L1436.0 1070.8 L1437.0 1070.8 L1438.0 1071.1 L1439.0 1071.1 L1440.0 1071.3 L1441.0 1071.2 L1442.0 1070.9 L1443.0 1070.7 L1444.0 1071.0 L1445.0 1070.7 L1446.0 1071.0 L1447.0 1070.9 L1448.0 1070.6 L1449.0 1070.4 L1450.0 1070.6 L1451.0 1071.2 L1452.0 1071.3 L1453.0 1071.1 L1454.0 1070.8 L1455.0 1071.4 L1456.0 1071.1 L1457.0 1071.0 L1458.0 1070.8 L1459.0 1071.3 L1460.0 1071.2 L1461.0 1070.9 L1462.0 1070.9 L1463.0 1070.6 L1464.0 1070.4 L1465.0 1070.5 L1466.0 1069.8 L1467.0 1070.5 L1468.0 1071.2 L1469.0 1070.7 L1470.0 1070.6 L1471.0 1070.2 L1472.0 1070.2 L1473.0 1069.5 L1474.0 1068.8 L1475.0 1067.3 L1476.0 1066.2 L1477.0 1065.1 L1478.0 1064.1 L1479.0 1063.8 L1480.0 1062.4 L1481.0 1061.1 L1481.4 1060.5 L1482.0 1060.1 L1482.6 1060.1 L1483.0 1059.7 L1483.4 1059.5 L1484.0 1059.3 L1484.2 1059.7 L1484.8 1060.2 L1485.0 1060.7 L1485.4 1061.2 L1486.0 1061.9 L1487.0 1062.3 L1488.0 1063.6 L1489.0 1064.6 L1490.0 1065.9 L1491.0 1067.0 L1492.0 1068.3 L1493.0 1068.7 L1494.0 1069.5 L1495.0 1070.6 L1496.0 1070.9 L1497.0 1070.8 L1498.0 1070.9 L1499.0 1071.0 L1500.0 1071.4 L1501.0 1071.3 L1502.0 1071.3 L1503.0 1070.8 L1504.0 1070.2 L1505.0 1070.2 L1506.0 1070.7 L1507.0 1070.3 L1508.0 1070.8 L1509.0 1071.0 L1510.0 1071.2 L1511.0 1071.0 L1512.0 1071.1 L1513.0 1071.4 L1514.0 1071.5 L1515.0 1071.5 L1516.0 1071.3"/>
<path stroke="#f00" d="M181.5 1177.6 L182.5 1187.2 L183.5 1194.2 L184.5 1199.8 L185.5 1204.0 L186.5 1208.3 L187.5 1211.3 L188.5 1213.4 L189.5 1216.6 L190.5 1218.2 L191.5 1218.7 L192.5 1220.1 L193.5 1222.6 L194.5 1223.2 L195.5 1223.1 L196.5 1223.3 L197.5 1224.6 L198.5 1225.3 L199.5 1225.6 L200.5 1225.7 L201.5 1226.2 L202.5 1227.1 L203.5 1227.1 L204.5 1226.8 L205.5 1226.1 L206.5 1226.8 L207.5 1227.8 L208.5 1228.1 L209.5 1227.2 L210.5 1227.6 L211.5 1228.5 L212.5 1228.0 L213.5 1228.4 L214.5 1229.1 L215.5 1229.8 L216.5 1228.5 L217.5 1227.7 L218.5 1228.5 L219.5 1229.1 L220.5 1229.0 L221.5 1229.2 L222.5 1229.2 L223.5 1230.1 L224.5 1228.8 L225.5 1229.4 L226.5 1229.0 L227.5 1229.2 L228.5 1228.9 L229.5 1229.1 L230.5 1229.7 L231.5 1230.2 L232.5 1231.5 L233.5 1231.2 L234.5 1231.4 L235.5 1231.6 L236.5 1231.7 L237.5 1232.5 L238.5 1232.2 L239.5 1232.2 L240.5 1232.0 L241.5 1232.1 L242.5 1232.1 L243.5 1232.7 L244.5 1232.6 L245.5 1232.7 L246.5 1232.7 L247.5 1233.1 L248.5 1232.8 L249.5 1233.4 L250.5 1233.0 L251.5 1233.5 L252.5 1234.5 L253.5 1234.3 L254.5 1234.0 L255.5 1233.3 L256.5 1233.9 L257.5 1234.0 L258.5 1234.6 L259.5 1234.1 L260.5 1234.5 L261.5 1235.5 L262.5 1235.4 L263.5 1234.9 L264.5 1234.2 L265.5 1234.5 L266.5 1235.2 L267.5 1235.6 L268.5 1235.0 L269.5 1234.7 L270.5 1234.7 L271.5 1234.7 L272.5 1235.1 L273.5 1235.8 L274.5 1237.2 L275.5 1237.1 L276.5 1237.8 L277.5 1236.6 L278.5 1237.7 L279.5 1238.0 L280.5 1238.1 L281.5 1238.4 L282.5 1238.5 L283.5 1239.4 L284.5 1239.4 L285.5 1238.0 L286.5 1237.3 L287.5 1238.8 L288.5 1238.8 L289.5 1239.6 L290.5 1239.3 L291.5 1239.0 L292.5 1239.0 L293.5 1239.5 L294.5 1239.7 L295.5 1239.5 L296.5 1240.1 L297.5 1240.6 L298.5 1240.0 L299.5 1239.6 L300.5 1238.9 L301.5 1239.4 L302.5 1239.9 L303.5 1239.8 L304.5 1239.8 L305.5 1240.1 L306.5 1240.4 L307.5 1240.9 L308.5 1241.3 L309.5 1241.4 L310.5 1241.8 L311.5 1240.4 L312.5 1240.1 L313.5 1239.6 L314.5 1238.2 L315.0 1237.6 L315.5 1237.7 L315.6 1237.7 L316.2 1236.6 L316.5 1236.4 L317.0 1237.3 L317.5 1237.9 L317.8 1237.9 L318.4 1238.9 L318.5 1238.1 L319.0 1238.3 L319.5 1239.3 L320.5 1239.6 L321.5 1239.7 L322.5 1240.9 L323.5 1242.3 L324.5 1240.6 L325.5 1241.1 L326.5 1240.7 L327.5 1241.0 L328.5 1240.5 L329.5 1242.5 L330.5 1241.9 L331.5 1242.0 L332.5 1241.6 L333.5 1241.2 L334.5 1241.4 L335.5 1241.8 L336.5 1242.9 L337.5 1242.8 L338.5 1243.5 L339.5 1242.5 L340.5 1242.5 L341.5 1242.2 L342.5 1241.5 L343.5 1244.0 L344.5 1243.3 L345.5 1243.2 L346.5 1242.6 L347.5 1242.3 L348.5 1241.9 L349.5 1242.9 L350.5 1242.6 L351.5 1242.7 L352.5 1242.9 L353.5 1242.3 L354.5 1242.7 L355.5 1242.8 L356.5 1243.2 L357.5 1242.9 L358.5 1243.1 L359.5 1243.4 L360.5 1243.9 L361.5 1243.3 L362.5 1243.8 L363.5 1243.1 L364.5 1243.1 L365.5 1243.2 L366.5 1243.4 L367.5 1242.0 L368.5 1242.0 L369.5 1242.5 L370.5 1243.4 L371.5 1243.0 L372.5 1244.0 L373.5 1242.8 L374.5 1243.1 L375.5 1243.6 L376.5 1243.5 L377.5 1243.7 L378.5 1244.1 L379.5 1243.4 L380.5 1243.8 L381.5 1244.3 L382.5 1243.9 L383.5 1242.5 L384.5 1242.2 L385.5 1242.3 L386.5 1242.2 L387.5 1243.0 L388.5 1242.8 L389.5 1244.5 L390.5 1244.4 L391.5 1243.3 L392.5 1243.3 L393.5 1244.2 L394.5 1244.3 L395.5 1243.4 L396.5 1244.0 L397.5 1243.5 L398.5 1244.7 L399.5 1243.9 L400.5 1244.0 L401.5 1244.0 L402.5 1243.4 L403.5 1243.2 L404.5 1243.8 L405.5 1243.8 L406.5 1243.4 L407.5 1243.4 L408.5 1244.1 L409.5 1244.0 L410.5 1243.6 L411.5 1243.2 L412.5 1241.9 L413.5 1242.0 L414.5 1241.6 L415.5 1241.9 L416.5 1241.2 L417.5 1241.2 L418.5 1240.3 L419.5 1240.6 L420.5 1239.6 L421.5 1239.2 L422.5 1238.9 L423.5 1237.9 L424.5 1237.0 L425.5 1236.4 L426.5 1235.8 L427.5 1232.5 L428.5 1229.9 L429.5 1227.9 L430.5 1225.0 L431.5 1220.1 L432.5 1214.6 L433.5 1207.5 L434.5 1199.9 L435.5 1187.9 L436.5 1169.6 L437.4 1138.4 L437.5 1134.0 L438.0 1124.4 L438.5 1124.4 L438.6 1124.4 L439.4 1124.4 L439.5 1124.5 L440.2 1124.5 L440.5 1138.7 L440.8 1159.5 L441.4 1183.4 L441.5 1185.7 L442.5 1204.9 L443.5 1217.7 L444.5 1225.9 L445.5 1230.7 L446.5 1234.3 L447.5 1238.2 L448.5 1241.0 L449.5 1241.2 L450.5 1242.3 L451.5 1242.9 L452.5 1243.0 L453.5 1244.0 L454.5 1244.3 L455.5 1245.5 L456.5 1245.7 L457.5 1245.5 L458.5 1244.1 L459.5 1244.7 L460.5 1245.7 L461.5 1245.5 L462.5 1246.3 L463.5 1246.7 L464.5 1245.6 L465.5 1245.9 L466.5 1246.4 L467.5 1246.9 L468.5 1247.0 L469.5 1247.0 L470.5 1246.8 L471.5 1246.7 L472.5 1246.8 L473.5 1246.3 L474.5 1246.9 L475.5 1246.8 L476.5 1247.2 L477.5 1246.9 L478.5 1247.2 L479.5 1247.2 L480.5 1247.7 L481.5 1247.7 L482.5 1248.0 L483.5 1247.6 L484.5 1247.4 L485.5 1247.2 L486.5 1246.5 L487.5 1246.7 L488.5 1247.5 L489.5 1247.8 L490.5 1247.1 L491.5 1247.3 L492.5 1247.7 L493.5 1246.8 L494.5 1247.1 L495.5 1247.4 L496.5 1247.7 L497.5 1247.7 L498.5 1246.6 L499.5 1245.7 L500.5 1247.4 L501.5 1247.2 L502.5 1247.9 L503.5 1248.3 L504.5 1248.0 L505.5 1247.1 L506.5 1247.9 L507.5 1247.6 L508.5 1247.8 L509.5 1247.8 L510.5 1248.1 L511.5 1248.4 L512.5 1247.2 L513.5 1246.4 L514.5 1246.9 L515.5 1247.0 L516.5 1247.6 L517.5 1247.4 L518.5 1247.2 L519.5 1248.4 L520.5 1248.7 L521.5 1248.8 L522.5 1248.8 L523.5 1247.7 L524.5 1247.5 L525.5 1247.4 L526.5 1246.7 L527.5 1246.5 L528.5 1246.9 L529.5 1246.4 L530.5 1247.0 L531.5 1247.4 L532.5 1247.2 L533.5 1247.1 L534.5 1247.5 L535.5 1247.7 L536.5 1247.7 L537.5 1246.9 L538.5 1246.1 L539.5 1247.7 L540.5 1247.2 L541.5 1247.0 L542.5 1246.1 L543.5 1246.1 L544.5 1246.2 L545.5 1247.0 L546.5 1245.7 L547.5 1245.5 L548.5 1246.0 L549.5 1246.2 L550.5 1246.2 L551.5 1246.4 L552.5 1245.8 L553.5 1246.5 L554.5 1247.4 L555.5 1247.4 L556.5 1247.0 L557.5 1247.8 L558.5 1247.8 L559.5 1246.9 L560.5 1246.7 L561.5 1246.5 L562.5 1246.7 L563.5 1247.4 L564.5 1246.8 L565.5 1246.7 L566.5 1246.8 L567.5 1245.3 L568.5 1244.0 L569.5 1243.3 L570.5 1242.6 L571.5 1239.9 L572.5 1239.0 L573.2 1237.8 L573.5 1238.1 L573.8 1237.8 L574.4 1237.7 L574.5 1237.2 L575.2 1235.6 L575.5 1235.4 L576.0 1235.3 L576.5 1236.7 L576.6 1237.2 L577.2 1238.5 L577.5 1238.9 L578.5 1239.4 L579.5 1240.9 L580.5 1242.3 L581.5 1243.9 L582.5 1245.7 L583.5 1247.6 L584.5 1247.5 L585.5 1246.1 L586.5 1245.9 L587.5 1245.1 L588.5 1245.5 L589.5 1245.4 L590.5 1246.2 L591.5 1246.4 L592.5 1247.2 L593.5 1247.7 L594.5 1247.2 L595.5 1247.6 L596.5 1247.4 L597.5 1247.5 L598.5 1248.0 L599.5 1247.0 L600.5 1246.9 L601.5 1247.8 L602.5 1247.0 L603.5 1247.1 L604.5 1247.1 L605.5 1246.8 L606.5 1246.1 L607.5 1246.1 L608.5 1245.8 L609.5 1246.8 L610.5 1247.0 L611.5 1247.3 L612.5 1246.5 L613.5 1246.9 L614.5 1246.9 L615.5 1247.4 L616.5 1246.8 L617.5 1247.2 L618.5 1247.7 L619.5 1248.3 L620.5 1247.1 L621.5 1246.3 L622.5 1245.6 L623.5 1246.5 L624.5 1246.9 L625.5 1246.9 L626.5 1246.2 L627.5 1247.0 L628.5 1247.6 L629.5 1247.1 L630.5 1246.7 L631.5 1247.1 L632.5 1247.0 L633.5 1247.4 L634.5 1246.6 L635.5 1246.6 L636.5 1246.1 L637.5 1245.7 L638.5 1245.6 L639.5 1245.4 L640.5 1245.8 L641.5 1245.5 L642.5 1245.4 L643.5 1244.9 L644.5 1244.3 L645.5 1245.3 L646.5 1244.5 L647.5 1245.5 L648.5 1245.5 L649.5 1243.7 L650.5 1243.4 L651.5 1243.2 L652.5 1243.3 L653.5 1243.1 L654.5 1242.6 L655.5 1243.1 L656.5 1242.5 L657.5 1242.6 L658.5 1241.5 L659.5 1240.5 L660.5 1240.8 L661.5 1239.8 L662.5 1238.3 L663.5 1237.5 L664.5 1237.1 L665.5 1235.6 L666.5 1233.7 L667.5 1232.4 L668.5 1230.7 L669.5 1227.7 L670.5 1224.3 L671.5 1220.2 L672.5 1217.0 L673.5 1210.5 L674.5 1204.0 L675.5 1194.5 L676.5 1183.7 L677.5 1168.2 L678.5 1146.4 L679.0 1128.4 L679.5 1107.0 L679.6 1103.5 L680.2 1097.9 L680.5 1097.9 L681.0 1097.9 L681.5 1097.9 L681.8 1097.9 L682.4 1123.8 L682.5 1129.5 L683.0 1151.5 L683.5 1167.3 L684.5 1185.2 L685.5 1198.4 L686.5 1208.6 L687.5 1215.9 L688.5 1221.5 L689.5 1226.8 L690.5 1230.8 L691.5 1233.3 L692.5 1237.0 L693.5 1238.3 L694.5 1239.6 L695.5 1239.5 L696.5 1240.8 L697.5 1242.1 L698.5 1241.9 L699.5 1243.1 L700.5 1242.5 L701.5 1242.1 L702.5 1242.6 L703.5 1242.5 L704.5 1243.3 L705.5 1242.9 L706.5 1243.4 L707.5 1242.6 L708.5 1243.2 L709.5 1244.2 L710.5 1244.2 L711.5 1244.5 L712.5 1245.1 L713.5 1244.3 L714.5 1243.7 L715.5 1244.2 L716.5 1244.5 L717.5 1244.5 L718.5 1244.1 L719.5 1245.0 L720.5 1244.3 L721.5 1244.4 L722.5 1244.6 L723.5 1245.1 L724.5 1244.8 L725.5 1244.4 L726.5 1245.7 L727.5 1244.9 L728.5 1245.2 L729.5 1244.8 L730.5 1241.5 L731.5 1238.0 L731.8 1236.7 L732.4 1234.6 L732.5 1232.8 L733.0 1231.3 L733.5 1229.8 L733.8 1228.4 L734.5 1231.1 L734.6 1233.0 L735.2 1236.1 L735.5 1237.1 L735.8 1237.9 L736.5 1240.0 L737.5 1244.1 L738.5 1245.3 L739.5 1244.8 L740.5 1245.4 L741.5 1244.8 L742.5 1244.6 L743.5 1245.7 L744.5 1244.7 L745.5 1244.9 L746.5 1245.1 L747.5 1245.3 L748.5 1244.5 L749.5 1244.6 L750.5 1244.6 L751.5 1245.8 L752.5 1245.9 L753.5 1244.8 L754.5 1244.9 L755.5 1244.5 L756.5 1243.2 L757.5 1241.2 L758.5 1237.6 L759.0 1234.1 L759.5 1230.9 L759.6 1229.8 L760.2 1217.7 L760.5 1217.5 L761.0 1217.1 L761.5 1216.6 L761.8 1216.4 L762.4 1227.3 L762.5 1228.4 L763.0 1231.7 L763.5 1233.2 L764.5 1235.4 L765.5 1235.9 L766.0 1236.7 L766.5 1237.2 L766.6 1236.6 L767.2 1237.6 L767.5 1237.2 L768.0 1236.3 L768.5 1237.2 L768.8 1237.5 L769.4 1238.6 L769.5 1238.7 L770.0 1240.4 L770.5 1241.0 L771.5 1241.2 L772.5 1242.5 L773.5 1243.6 L774.5 1243.7 L775.5 1244.2 L776.5 1244.7 L777.5 1243.7 L778.5 1244.9 L779.5 1245.1 L780.5 1246.0 L781.5 1245.6 L782.5 1245.7 L783.5 1246.2 L784.5 1246.6 L785.5 1246.4 L786.5 1245.6 L787.5 1246.9 L788.5 1247.0 L789.5 1247.3 L790.5 1247.6 L791.5 1247.7 L792.5 1247.2 L793.5 1246.9 L794.5 1246.8 L795.5 1245.6 L796.5 1246.1 L797.5 1245.5 L798.5 1245.8 L799.5 1244.9 L800.5 1245.0 L801.5 1244.1 L802.5 1245.0 L803.0 1244.3 L803.5 1244.0 L803.6 1243.1 L804.2 1242.6 L804.5 1242.5 L805.0 1242.2 L805.5 1242.3 L805.8 1242.1 L806.4 1243.2 L806.5 1243.0 L807.0 1243.0 L807.5 1243.7 L808.5 1243.9 L809.5 1244.6 L810.5 1245.0 L811.5 1245.1 L812.5 1245.3 L813.5 1245.1 L814.5 1244.8 L815.5 1245.5 L816.5 1245.5 L817.5 1244.9 L818.5 1245.1 L819.5 1245.5 L820.5 1245.9 L821.5 1246.1 L822.5 1246.2 L823.5 1246.3 L824.5 1245.8 L825.5 1245.4 L826.5 1245.8 L827.5 1245.5 L828.5 1245.5 L829.5 1245.8 L830.5 1246.1 L831.5 1246.4 L832.5 1245.5 L833.5 1245.0 L834.5 1245.1 L835.5 1244.0 L836.5 1243.3 L837.5 1243.8 L838.5 1243.2 L839.5 1242.5 L840.5 1242.8 L841.5 1242.5 L842.5 1242.1 L843.5 1240.7 L844.5 1239.3 L845.5 1237.7 L846.5 1236.1 L847.5 1232.7 L848.5 1229.9 L849.5 1227.1 L850.5 1222.0 L851.5 1214.1 L851.6 1213.1 L852.2 1204.9 L852.5 1201.9 L852.8 1201.5 L853.5 1201.6 L853.6 1201.6 L854.4 1201.6 L854.5 1201.9 L855.0 1208.9 L855.5 1216.2 L855.6 1218.5 L856.5 1226.4 L857.5 1231.1 L858.5 1233.7 L859.5 1235.9 L860.5 1237.8 L861.5 1239.4 L862.5 1241.1 L863.5 1241.8 L864.5 1242.7 L865.5 1244.3 L866.5 1245.4 L867.5 1244.3 L868.5 1244.3 L869.5 1244.6 L870.5 1245.8 L871.5 1245.7 L872.5 1246.9 L873.5 1246.9 L874.5 1247.4 L875.5 1246.6 L876.5 1246.4 L877.5 1247.0 L878.5 1247.1 L879.5 1245.9 L880.5 1246.0 L881.5 1246.4 L882.5 1246.8 L883.5 1246.4 L884.5 1247.5 L885.5 1247.2 L886.5 1247.8 L887.5 1247.6 L888.5 1247.2 L889.5 1246.8 L890.5 1246.1 L891.5 1246.7 L892.5 1247.0 L893.5 1247.2 L894.5 1246.6 L895.5 1245.9 L896.5 1245.7 L897.5 1245.6 L898.5 1245.6 L899.5 1246.1 L900.5 1245.4 L901.5 1245.2 L902.5 1245.2 L903.5 1245.2 L904.5 1245.5 L905.5 1245.0 L906.5 1244.1 L907.5 1243.3 L908.5 1242.7 L909.5 1242.4 L910.5 1241.9 L911.5 1241.2 L912.5 1240.2 L913.5 1239.2 L914.5 1238.1 L915.5 1237.0 L916.5 1235.5 L917.5 1233.4 L918.5 1231.0 L919.5 1229.2 L920.5 1226.3 L921.5 1222.8 L922.5 1218.5 L923.5 1212.2 L924.5 1201.5 L924.7 1199.3 L925.3 1195.3 L925.5 1195.3 L925.9 1195.3 L926.5 1195.3 L926.7 1195.3 L927.5 1195.4 L928.1 1203.6 L928.5 1211.1 L928.7 1214.3 L929.5 1221.9 L930.5 1228.0 L931.5 1231.7 L932.5 1234.8 L933.5 1237.8 L934.5 1239.8 L935.5 1241.3 L936.5 1242.3 L937.5 1243.9 L938.5 1244.3 L939.5 1245.0 L940.5 1245.2 L941.5 1245.8 L942.5 1246.9 L943.5 1247.8 L944.5 1247.5 L945.5 1247.3 L946.5 1247.9 L947.5 1247.7 L948.5 1247.3 L949.5 1247.7 L950.5 1247.6 L951.5 1247.5 L952.5 1248.2 L953.5 1248.1 L954.5 1247.9 L955.5 1248.3 L956.5 1248.4 L957.5 1248.9 L958.5 1248.9 L959.5 1249.3 L960.5 1249.5 L961.5 1249.9 L962.5 1249.9 L963.5 1249.6 L964.5 1249.6 L965.5 1249.5 L966.5 1249.0 L967.5 1248.8 L968.5 1249.3 L969.5 1248.7 L970.5 1248.8 L971.5 1248.8 L972.5 1249.2 L973.5 1249.1 L974.5 1249.5 L975.5 1249.6 L976.5 1249.6 L977.5 1249.5 L978.5 1249.1 L979.5 1249.5 L980.5 1249.4 L981.5 1249.6 L982.5 1249.9 L983.5 1250.3 L984.5 1250.2 L985.5 1249.9 L986.5 1248.6 L987.5 1248.2 L988.5 1247.9 L989.5 1247.1 L990.5 1245.8 L991.5 1245.2 L992.1 1244.6 L992.5 1244.1 L992.7 1244.4 L993.5 1243.8 L994.3 1244.0 L994.5 1244.1 L994.9 1245.2 L995.5 1245.3 L996.5 1246.4 L997.5 1247.2 L998.5 1248.3 L999.5 1248.8 L1000.5 1249.2 L1001.5 1249.8 L1002.5 1250.4 L1003.5 1251.7 L1004.5 1251.7 L1005.5 1251.5 L1006.5 1251.9 L1007.5 1252.0 L1008.5 1251.8 L1009.5 1252.0 L1010.5 1252.0 L1011.5 1252.3 L1012.5 1252.6 L1013.5 1252.3 L1014.5 1252.2 L1015.5 1252.1 L1016.5 1252.5 L1017.5 1252.5 L1018.5 1252.6 L1019.5 1252.8 L1020.5 1252.4 L1021.5 1252.5 L1022.5 1252.9 L1023.5 1253.0 L1024.5 1253.1 L1025.5 1252.8 L1026.5 1252.7 L1027.5 1252.4 L1028.5 1252.5 L1029.5 1252.6 L1030.5 1252.3 L1031.5 1252.9 L1032.5 1252.7 L1033.5 1252.9 L1034.5 1253.1 L1035.5 1253.0 L1036.5 1252.5 L1037.5 1253.1 L1038.5 1253.3 L1039.5 1253.2 L1040.5 1253.6 L1041.5 1253.8 L1042.5 1253.4 L1043.5 1253.4 L1044.5 1252.9 L1045.5 1253.1 L1046.5 1253.7 L1047.5 1253.5 L1048.5 1253.8 L1049.5 1253.3 L1050.5 1253.4 L1051.5 1253.9 L1052.5 1254.4 L1053.5 1254.4 L1054.5 1254.4 L1055.5 1254.8 L1056.5 1253.8 L1057.5 1253.4 L1058.5 1254.3 L1059.5 1255.0 L1060.5 1254.8 L1061.5 1254.6 L1062.5 1254.5 L1063.5 1254.4 L1064.5 1254.1 L1065.5 1254.1 L1066.5 1254.1 L1067.5 1254.3 L1068.5 1254.4 L1069.5 1254.6 L1070.5 1254.6 L1071.5 1254.1 L1072.5 1254.5 L1073.5 1253.6 L1074.5 1253.8 L1075.5 1254.0 L1076.5 1253.9 L1077.5 1254.5 L1078.5 1254.0 L1079.5 1253.6 L1080.5 1253.6 L1081.5 1253.9 L1082.5 1254.1 L1083.5 1254.0 L1084.5 1254.1 L1085.5 1253.8 L1086.5 1253.6 L1087.5 1253.6 L1088.5 1253.2 L1089.5 1253.4 L1090.5 1253.3 L1091.5 1253.5 L1092.5 1253.1 L1093.5 1252.9 L1094.5 1252.7 L1095.5 1252.6 L1096.5 1252.3 L1097.5 1252.2 L1098.5 1251.5 L1099.5 1250.8 L1100.5 1250.0 L1101.5 1248.8 L1102.5 1247.4 L1103.5 1245.9 L1104.5 1244.3 L1105.5 1242.9 L1106.5 1241.1 L1107.5 1239.1 L1108.5 1237.3 L1109.5 1235.2 L1110.5 1232.5 L1111.5 1229.5 L1112.5 1226.5 L1113.5 1223.1 L1114.5 1219.9 L1115.5 1217.3 L1115.8 1217.0 L1116.4 1215.8 L1116.5 1215.7 L1117.0 1215.4 L1117.5 1215.4 L1117.8 1215.4 L1118.5 1215.4 L1118.6 1215.4 L1119.2 1216.4 L1119.5 1217.4 L1119.8 1218.0 L1120.5 1220.1 L1121.5 1224.3 L1122.5 1228.4 L1123.5 1232.0 L1124.5 1235.8 L1125.5 1238.3 L1126.5 1241.3 L1127.5 1243.6 L1128.5 1245.5 L1129.5 1246.9 L1130.5 1248.3 L1131.5 1249.2 L1132.5 1251.0 L1133.5 1252.4 L1134.5 1252.9 L1135.5 1252.9 L1136.5 1253.3 L1137.5 1253.0 L1138.5 1252.7 L1139.5 1253.3 L1140.5 1253.8 L1141.5 1252.9 L1142.5 1253.6 L1143.5 1253.6 L1144.5 1253.6 L1145.5 1253.1 L1146.5 1252.9 L1147.5 1253.2 L1148.5 1252.8 L1149.5 1252.5 L1150.5 1251.9 L1151.5 1251.7 L1152.5 1250.4 L1153.5 1247.6 L1154.5 1244.1 L1155.2 1240.3 L1155.5 1237.8 L1155.8 1235.3 L1156.4 1227.1 L1156.5 1227.1 L1157.2 1227.1 L1157.5 1227.1 L1158.0 1227.1 L1158.5 1233.9 L1158.6 1235.3 L1159.2 1241.4 L1159.5 1243.4 L1160.5 1247.3 L1161.5 1249.9 L1162.5 1250.8 L1163.5 1252.0 L1164.5 1253.6 L1165.5 1253.6 L1166.5 1254.2 L1167.5 1254.7 L1168.5 1254.6 L1169.5 1254.7 L1170.5 1254.6 L1171.5 1255.0 L1172.5 1255.1 L1173.5 1255.5 L1174.5 1255.8 L1175.5 1255.6 L1176.5 1256.2 L1177.5 1255.8 L1178.5 1255.4 L1179.5 1255.4 L1180.5 1255.1 L1181.5 1255.2 L1182.5 1255.3 L1183.5 1255.6 L1184.5 1255.1 L1185.5 1254.9 L1186.5 1255.0 L1187.5 1255.1 L1188.5 1255.5 L1189.5 1255.3 L1190.5 1255.9 L1191.5 1255.7 L1192.5 1255.6 L1193.5 1255.7 L1194.5 1256.1 L1195.5 1256.0 L1196.5 1256.0 L1197.5 1255.7 L1198.5 1255.8 L1199.5 1256.0 L1200.5 1255.8 L1201.5 1255.8 L1202.5 1255.3 L1203.5 1255.4 L1204.5 1255.9 L1205.5 1256.4 L1206.5 1256.2 L1207.5 1255.4 L1208.5 1256.2 L1209.5 1256.0 L1210.5 1256.8 L1211.5 1256.3 L1212.5 1256.5 L1213.5 1256.1 L1214.5 1256.5 L1215.5 1256.6 L1216.5 1256.1 L1217.5 1256.4 L1218.5 1257.1 L1219.5 1256.6 L1220.5 1256.0 L1221.5 1256.1 L1222.5 1256.0 L1223.5 1255.6 L1224.5 1255.5 L1225.5 1255.8 L1226.5 1255.5 L1227.5 1256.1 L1228.5 1256.2 L1229.5 1256.1 L1230.5 1256.6 L1231.5 1256.1 L1232.5 1256.4 L1233.5 1255.9 L1234.5 1255.9 L1235.5 1256.2 L1236.5 1256.1 L1237.5 1256.1 L1238.5 1256.3 L1239.5 1256.7 L1240.5 1256.9 L1241.5 1256.8 L1242.5 1256.5 L1243.5 1256.0 L1244.5 1256.6 L1245.5 1257.0 L1246.5 1256.1 L1247.5 1256.4 L1248.5 1256.4 L1249.5 1256.6 L1250.5 1256.6 L1251.5 1256.4 L1252.5 1256.4 L1253.5 1256.4 L1254.5 1256.7 L1255.5 1256.5 L1256.5 1256.3 L1257.5 1256.5 L1258.5 1256.6 L1259.5 1256.7 L1260.5 1256.6 L1261.5 1257.0 L1262.5 1257.1 L1263.5 1256.9 L1264.5 1256.6 L1265.5 1256.7 L1266.5 1256.0 L1267.5 1256.0 L1268.5 1256.0 L1269.5 1256.2 L1270.5 1256.2 L1271.5 1257.0 L1272.5 1257.0 L1273.5 1256.9 L1274.5 1257.3 L1275.5 1256.9 L1276.5 1256.6 L1277.5 1256.8 L1278.5 1256.8 L1279.5 1256.3 L1280.5 1255.7 L1281.5 1254.6 L1282.5 1253.5 L1283.5 1252.5 L1284.5 1251.8 L1285.0 1251.7 L1285.5 1250.9 L1285.6 1250.7 L1286.2 1249.9 L1286.5 1250.5 L1287.0 1250.3 L1287.5 1250.6 L1287.8 1250.3 L1288.4 1250.6 L1288.5 1250.6 L1289.0 1251.2 L1289.5 1251.4 L1290.5 1252.4 L1291.5 1253.7 L1292.5 1254.4 L1293.5 1255.1 L1294.5 1255.2 L1295.5 1256.0 L1296.5 1256.2 L1297.5 1256.1 L1298.5 1255.9 L1299.5 1256.1 L1300.5 1256.0 L1301.5 1256.1 L1302.5 1255.8 L1303.5 1256.1 L1304.5 1256.6 L1305.5 1256.4 L1306.5 1256.6 L1307.5 1256.2 L1308.5 1256.5 L1309.5 1256.7 L1310.5 1256.6 L1311.5 1256.9 L1312.5 1256.5 L1313.5 1256.6 L1314.5 1257.1 L1315.5 1256.9 L1316.5 1256.5 L1317.5 1256.9 L1318.5 1256.9 L1319.5 1256.7 L1320.5 1256.1 L1321.5 1255.7 L1322.5 1255.6 L1323.5 1256.3 L1324.5 1255.8 L1325.5 1254.7 L1326.5 1254.3 L1327.5 1253.7 L1328.5 1252.3 L1329.5 1251.5 L1330.5 1249.9 L1331.5 1249.1 L1332.5 1248.6 L1333.3 1247.2 L1333.5 1247.1 L1333.9 1246.5 L1334.5 1246.0 L1335.3 1245.4 L1335.5 1245.7 L1336.1 1246.5 L1336.5 1246.9 L1336.7 1247.3 L1337.3 1248.0 L1337.5 1248.3 L1338.5 1248.9 L1339.5 1250.0 L1340.5 1250.8 L1341.5 1251.5 L1342.5 1253.2 L1343.5 1254.0 L1344.5 1254.8 L1345.5 1255.0 L1346.5 1256.0 L1347.5 1256.7 L1348.5 1256.7 L1349.5 1256.6 L1350.5 1257.2 L1351.5 1257.0 L1352.5 1256.9 L1353.5 1256.9 L1354.5 1256.9 L1355.5 1257.2 L1356.5 1257.3 L1357.5 1257.2 L1358.5 1257.0 L1359.5 1257.0 L1360.5 1257.5 L1361.5 1257.3 L1362.5 1257.4 L1363.5 1256.8 L1364.5 1257.1 L1365.5 1257.3 L1366.5 1257.6 L1367.5 1257.5 L1368.5 1257.6 L1369.5 1257.5 L1370.5 1257.7 L1371.5 1258.1 L1372.5 1257.8 L1373.5 1257.4 L1374.5 1257.5 L1375.5 1257.4 L1376.5 1257.5 L1377.5 1257.7 L1378.5 1257.6 L1379.5 1257.3 L1380.5 1257.4 L1381.5 1257.0 L1382.5 1257.2 L1383.5 1257.0 L1384.5 1257.3 L1385.5 1257.3 L1386.5 1257.3 L1387.5 1257.0 L1388.5 1257.1 L1389.5 1257.0 L1390.5 1257.1 L1391.5 1257.5 L1392.5 1257.7 L1393.5 1257.2 L1394.5 1257.6 L1395.5 1257.9 L1396.5 1258.1 L1397.5 1257.9 L1398.5 1257.7 L1399.5 1258.1 L1400.5 1257.8 L1401.5 1257.2 L1402.5 1257.3 L1403.5 1257.5 L1404.5 1257.2 L1405.5 1257.0 L1406.5 1257.8 L1407.5 1257.7 L1408.5 1257.9 L1409.5 1257.6 L1410.5 1257.1 L1411.5 1257.2 L1412.5 1257.8 L1413.5 1257.5 L1414.5 1257.0 L1415.5 1257.2 L1416.5 1257.3 L1417.5 1257.4 L1418.5 1257.2 L1419.5 1257.3 L1420.5 1257.3 L1421.5 1257.7 L1422.5 1257.7 L1423.5 1257.9 L1424.5 1257.8 L1425.5 1257.1 L1426.5 1256.8 L1427.5 1257.3 L1428.5 1257.7 L1429.5 1258.0 L1430.5 1257.8 L1431.5 1257.3 L1432.5 1257.3 L1433.5 1257.6 L1434.5 1258.1 L1435.5 1257.8 L1436.5 1257.6 L1437.5 1257.4 L1438.5 1257.9 L1439.5 1258.1 L1440.5 1257.4 L1441.5 1257.9 L1442.5 1257.6 L1443.5 1257.2 L1444.5 1257.0 L1445.5 1257.1 L1446.5 1258.0 L1447.5 1258.7 L1448.5 1258.0 L1449.5 1257.7 L1450.5 1257.8 L1451.5 1257.9 L1452.5 1257.7 L1453.5 1257.3 L1454.5 1257.4 L1455.5 1257.3 L1456.5 1257.0 L1457.5 1257.3 L1458.5 1257.1 L1459.5 1256.8 L1460.5 1257.6 L1461.5 1257.9 L1462.5 1258.3 L1463.5 1258.0 L1464.5 1257.8 L1465.5 1257.7 L1466.5 1257.2 L1467.5 1257.5 L1468.5 1257.5 L1469.5 1256.4 L1470.5 1254.8 L1471.5 1253.8 L1472.5 1253.3 L1473.5 1252.4 L1474.5 1251.2 L1475.5 1249.6 L1476.5 1248.2 L1477.5 1246.9 L1478.5 1245.5 L1479.2 1244.8 L1479.5 1244.0 L1479.8 1242.9 L1480.4 1241.8 L1480.5 1241.8 L1481.2 1241.0 L1481.5 1241.9 L1482.0 1243.0 L1482.5 1243.5 L1482.6 1243.8 L1483.2 1244.5 L1483.5 1244.9 L1484.5 1246.1 L1485.5 1247.4 L1486.5 1249.2 L1487.5 1250.3 L1488.5 1251.5 L1489.5 1253.1 L1490.5 1254.4 L1491.5 1255.3 L1492.5 1256.4 L1493.5 1257.2 L1494.5 1257.7 L1495.5 1257.8 L1496.5 1257.9 L1497.5 1258.0 L1498.5 1258.1 L1499.5 1257.3 L1500.5 1257.4 L1501.5 1257.7 L1502.5 1257.7 L1503.5 1257.6 L1504.5 1257.8 L1505.5 1258.4 L1506.5 1258.3 L1507.5 1258.1 L1508.5 1258.0 L1509.5 1257.8 L1510.5 1258.1 L1511.5 1257.9 L1512.5 1258.4 L1513.5 1258.6 L1514.5 1258.7 L1515.5 1258.9 L1516.5 1258.6 L1517.5 1258.0 L1518.5 1258.2 L1519.5 1258.5 L1520.5 1258.0 L1521.5 1257.8"/>
<path stroke="#000" d="M186.0 1374.8 L187.0 1379.0 L188.0 1382.5 L189.0 1384.9 L190.0 1386.4 L191.0 1387.7 L192.0 1388.9 L193.0 1389.3 L194.0 1389.7 L195.0 1390.2 L196.0 1390.3 L197.0 1391.5 L198.0 1391.0 L199.0 1390.7 L200.0 1390.9 L201.0 1392.1 L202.0 1392.4 L203.0 1392.9 L204.0 1393.3 L205.0 1393.9 L206.0 1393.5 L207.0 1394.1 L208.0 1394.3 L209.0 1395.2 L210.0 1395.7 L211.0 1395.3 L212.0 1395.3 L213.0 1396.0 L214.0 1396.9 L215.0 1397.3 L216.0 1397.3 L217.0 1397.9 L218.0 1396.9 L219.0 1397.1 L220.0 1397.0 L221.0 1397.0 L222.0 1397.7 L223.0 1398.1 L224.0 1398.4 L225.0 1398.4 L226.0 1398.8 L227.0 1399.1 L228.0 1398.8 L229.0 1399.3 L230.0 1398.8 L231.0 1399.7 L232.0 1399.0 L233.0 1399.0 L234.0 1398.6 L235.0 1398.9 L236.0 1399.6 L237.0 1399.1 L238.0 1399.9 L239.0 1400.2 L240.0 1400.0 L241.0 1399.4 L242.0 1399.7 L243.0 1398.3 L244.0 1398.3 L245.0 1399.0 L246.0 1399.0 L247.0 1400.0 L248.0 1399.3 L249.0 1398.5 L250.0 1398.5 L251.0 1398.8 L252.0 1399.4 L253.0 1398.2 L254.0 1398.2 L255.0 1398.7 L256.0 1398.0 L257.0 1397.6 L258.0 1396.9 L259.0 1397.2 L260.0 1397.3 L261.0 1397.1 L262.0 1396.6 L263.0 1396.5 L264.0 1395.8 L265.0 1395.5 L266.0 1395.1 L267.0 1394.7 L268.0 1393.9 L269.0 1392.8 L270.0 1391.9 L271.0 1389.9 L272.0 1387.9 L273.0 1387.0 L274.0 1384.1 L275.0 1380.1 L276.0 1378.6 L277.0 1378.9 L277.6 1379.1 L278.0 1378.9 L278.2 1379.5 L279.0 1378.8 L279.8 1380.4 L280.0 1381.1 L280.4 1387.4 L281.0 1392.1 L282.0 1395.3 L283.0 1397.6 L284.0 1399.9 L285.0 1401.6 L286.0 1402.5 L287.0 1403.5 L288.0 1404.3 L289.0 1404.4 L290.0 1405.2 L291.0 1406.8 L292.0 1406.6 L293.0 1406.6 L294.0 1407.4 L295.0 1408.3 L296.0 1408.9 L297.0 1408.7 L298.0 1409.0 L299.0 1409.4 L300.0 1409.6 L301.0 1410.0 L302.0 1410.5 L303.0 1410.6 L304.0 1410.6 L305.0 1410.5 L306.0 1411.3 L307.0 1410.6 L308.0 1411.6 L309.0 1411.7 L310.0 1411.5 L311.0 1410.8 L312.0 1411.0 L313.0 1410.6 L314.0 1409.9 L315.0 1409.7 L315.6 1407.9 L316.0 1407.6 L316.2 1407.2 L317.0 1406.5 L317.8 1407.3 L318.0 1407.8 L318.4 1408.4 L319.0 1408.8 L320.0 1409.2 L321.0 1410.6 L322.0 1411.8 L323.0 1413.5 L324.0 1413.8 L325.0 1413.6 L326.0 1413.0 L327.0 1414.4 L328.0 1413.8 L329.0 1413.9 L330.0 1414.2 L331.0 1414.3 L332.0 1414.7 L333.0 1413.9 L334.0 1413.6 L335.0 1413.8 L336.0 1413.3 L337.0 1413.3 L338.0 1414.1 L339.0 1414.1 L340.0 1413.4 L341.0 1411.4 L342.0 1409.6 L343.0 1407.7 L344.0 1405.2 L344.6 1404.5 L345.0 1403.1 L345.2 1403.4 L346.0 1401.8 L346.8 1402.3 L347.0 1402.5 L347.4 1404.0 L348.0 1405.2 L349.0 1408.4 L350.0 1410.9 L351.0 1413.4 L352.0 1415.1 L353.0 1415.8 L354.0 1415.2 L355.0 1415.6 L356.0 1415.2 L357.0 1415.1 L358.0 1414.5 L359.0 1414.8 L360.0 1415.1 L361.0 1415.1 L362.0 1414.7 L363.0 1415.2 L364.0 1415.6 L365.0 1415.4 L366.0 1415.7 L367.0 1415.9 L368.0 1415.2 L369.0 1415.2 L370.0 1414.4 L371.0 1414.3 L372.0 1414.8 L373.0 1414.6 L374.0 1415.0 L375.0 1415.2 L376.0 1414.3 L377.0 1414.5 L378.0 1415.4 L379.0 1415.3 L380.0 1415.3 L381.0 1414.9 L382.0 1414.3 L383.0 1414.0 L384.0 1415.7 L385.0 1415.4 L386.0 1414.9 L387.0 1415.0 L388.0 1414.2 L389.0 1415.1 L390.0 1415.8 L391.0 1415.1 L392.0 1415.1 L393.0 1414.6 L394.0 1415.0 L395.0 1414.5 L396.0 1414.4 L397.0 1414.9 L398.0 1413.6 L399.0 1410.2 L400.0 1406.2 L400.2 1405.0 L400.8 1403.8 L401.0 1403.4 L401.4 1401.9 L402.0 1400.4 L402.2 1399.6 L403.0 1401.6 L403.6 1403.7 L404.0 1405.0 L404.2 1405.7 L405.0 1409.4 L406.0 1412.2 L407.0 1414.3 L408.0 1414.0 L409.0 1413.6 L410.0 1413.1 L411.0 1412.4 L412.0 1412.6 L413.0 1412.2 L414.0 1411.7 L415.0 1411.7 L416.0 1411.1 L417.0 1412.1 L418.0 1412.5 L419.0 1411.5 L420.0 1412.0 L421.0 1411.4 L422.0 1409.3 L423.0 1408.8 L424.0 1407.4 L425.0 1405.7 L426.0 1404.5 L427.0 1403.4 L428.0 1401.2 L429.0 1397.5 L430.0 1393.8 L431.0 1389.2 L432.0 1384.5 L433.0 1377.3 L434.0 1366.0 L435.0 1345.6 L435.6 1338.4 L436.0 1338.4 L436.2 1338.4 L437.0 1338.5 L437.8 1338.5 L438.0 1342.2 L438.4 1358.4 L439.0 1373.6 L440.0 1387.4 L441.0 1396.7 L442.0 1403.4 L443.0 1406.2 L444.0 1409.0 L445.0 1411.0 L446.0 1412.6 L447.0 1413.3 L448.0 1414.7 L449.0 1416.3 L450.0 1417.1 L451.0 1416.6 L452.0 1416.6 L453.0 1417.3 L454.0 1417.5 L455.0 1417.3 L456.0 1418.2 L457.0 1418.6 L458.0 1419.1 L459.0 1419.0 L460.0 1419.7 L461.0 1419.4 L462.0 1419.0 L463.0 1419.4 L464.0 1419.1 L465.0 1420.1 L466.0 1420.6 L467.0 1419.9 L468.0 1420.4 L469.0 1421.0 L470.0 1421.0 L471.0 1421.2 L472.0 1420.9 L473.0 1420.9 L474.0 1421.0 L475.0 1421.2 L476.0 1420.8 L477.0 1420.4 L478.0 1420.8 L479.0 1420.7 L480.0 1421.1 L481.0 1420.8 L482.0 1420.2 L483.0 1420.7 L484.0 1418.7 L485.0 1416.2 L485.8 1413.5 L486.0 1412.7 L486.4 1412.0 L487.0 1409.1 L487.8 1407.8 L488.0 1408.3 L488.6 1409.9 L489.0 1411.1 L489.2 1411.9 L489.8 1413.4 L490.0 1414.1 L491.0 1416.7 L492.0 1418.8 L493.0 1420.5 L494.0 1420.9 L495.0 1421.3 L496.0 1421.6 L497.0 1421.8 L498.0 1422.0 L499.0 1421.3 L500.0 1421.9 L501.0 1422.9 L502.0 1422.1 L503.0 1421.3 L504.0 1421.7 L505.0 1422.0 L506.0 1422.3 L507.0 1422.6 L508.0 1421.6 L509.0 1421.8 L510.0 1421.9 L511.0 1422.3 L512.0 1421.6 L513.0 1421.6 L514.0 1421.5 L515.0 1421.4 L516.0 1421.5 L517.0 1421.5 L518.0 1420.8 L519.0 1421.1 L520.0 1421.3 L521.0 1421.3 L522.0 1419.9 L523.0 1420.3 L524.0 1420.6 L525.0 1420.6 L526.0 1421.7 L527.0 1422.1 L528.0 1421.9 L529.0 1422.1 L530.0 1423.4 L531.0 1422.3 L532.0 1422.2 L533.0 1421.8 L534.0 1422.4 L535.0 1422.6 L536.0 1422.2 L537.0 1422.3 L538.0 1421.7 L539.0 1421.0 L540.0 1421.7 L541.0 1422.4 L542.0 1422.0 L543.0 1421.7 L544.0 1420.9 L545.0 1422.2 L546.0 1421.5 L547.0 1421.2 L548.0 1421.3 L549.0 1422.0 L550.0 1421.9 L551.0 1421.9 L552.0 1421.8 L553.0 1422.2 L554.0 1422.0 L555.0 1422.0 L556.0 1421.9 L557.0 1421.3 L558.0 1422.1 L559.0 1421.6 L560.0 1421.1 L561.0 1421.1 L562.0 1421.2 L563.0 1421.6 L564.0 1420.8 L565.0 1420.4 L566.0 1420.7 L567.0 1420.9 L568.0 1420.3 L569.0 1419.9 L570.0 1420.1 L571.0 1419.3 L572.0 1416.6 L573.0 1414.3 L574.0 1412.9 L575.0 1409.9 L576.0 1407.9 L576.6 1405.6 L577.0 1405.4 L577.2 1405.5 L578.0 1403.1 L578.8 1404.3 L579.0 1405.1 L579.4 1405.5 L580.0 1407.4 L581.0 1410.4 L582.0 1412.6 L583.0 1414.8 L584.0 1416.7 L585.0 1419.1 L586.0 1419.3 L587.0 1420.0 L588.0 1419.7 L589.0 1419.4 L590.0 1418.6 L591.0 1418.6 L592.0 1418.9 L593.0 1419.5 L594.0 1418.6 L595.0 1418.6 L596.0 1418.4 L597.0 1418.0 L598.0 1418.3 L599.0 1418.1 L600.0 1418.6 L601.0 1417.5 L602.0 1418.2 L603.0 1417.6 L604.0 1417.1 L605.0 1417.9 L606.0 1418.1 L607.0 1418.3 L608.0 1418.0 L609.0 1417.7 L610.0 1417.7 L611.0 1417.9 L612.0 1417.6 L613.0 1417.0 L614.0 1414.5 L615.0 1412.4 L616.0 1409.3 L616.6 1406.9 L617.0 1405.2 L617.2 1405.4 L618.0 1403.9 L618.8 1406.6 L619.0 1406.8 L619.4 1407.6 L620.0 1408.9 L621.0 1412.4 L622.0 1414.7 L623.0 1417.7 L624.0 1418.3 L625.0 1418.2 L626.0 1417.4 L627.0 1417.5 L628.0 1417.8 L629.0 1416.1 L630.0 1414.8 L630.6 1413.0 L631.0 1413.0 L631.2 1413.8 L632.0 1412.5 L632.8 1413.4 L633.0 1412.9 L633.4 1413.4 L634.0 1414.3 L635.0 1416.1 L636.0 1416.8 L637.0 1417.1 L638.0 1417.9 L639.0 1417.9 L640.0 1418.1 L641.0 1417.9 L642.0 1413.0 L642.7 1409.4 L643.0 1408.5 L643.3 1407.1 L643.9 1404.2 L644.0 1403.4 L644.7 1400.9 L645.0 1402.2 L645.5 1404.8 L646.0 1406.7 L646.1 1407.4 L646.7 1409.9 L647.0 1410.6 L648.0 1411.5 L648.5 1410.8 L649.0 1409.0 L649.1 1408.8 L649.7 1406.6 L650.0 1404.7 L650.5 1402.3 L651.0 1404.3 L651.3 1405.0 L651.9 1408.0 L652.0 1410.0 L652.5 1412.0 L653.0 1413.5 L654.0 1416.4 L655.0 1417.3 L656.0 1416.5 L657.0 1416.4 L658.0 1416.2 L659.0 1415.6 L660.0 1415.1 L661.0 1414.0 L662.0 1413.5 L663.0 1413.6 L664.0 1413.2 L665.0 1411.5 L666.0 1409.9 L667.0 1407.5 L668.0 1403.9 L669.0 1398.8 L669.6 1394.0 L670.0 1388.8 L670.2 1387.0 L671.0 1385.2 L671.8 1383.5 L672.0 1383.6 L672.4 1386.6 L673.0 1388.8 L674.0 1387.9 L675.0 1385.3 L676.0 1379.5 L677.0 1370.4 L678.0 1352.8 L678.6 1334.4 L679.0 1329.5 L679.2 1329.6 L680.0 1329.8 L680.8 1330.0 L681.0 1333.8 L681.4 1350.9 L682.0 1368.2 L683.0 1383.1 L684.0 1392.6 L685.0 1399.8 L686.0 1403.4 L687.0 1406.6 L688.0 1408.3 L689.0 1409.8 L690.0 1411.1 L691.0 1412.1 L692.0 1412.6 L693.0 1412.9 L694.0 1414.3 L695.0 1414.6 L696.0 1415.3 L697.0 1415.0 L698.0 1414.3 L699.0 1414.6 L700.0 1415.5 L701.0 1415.5 L702.0 1415.9 L703.0 1415.6 L704.0 1416.5 L705.0 1416.6 L706.0 1416.9 L707.0 1416.3 L708.0 1415.7 L709.0 1414.3 L710.0 1412.6 L710.6 1411.5 L711.0 1411.1 L711.2 1410.5 L712.0 1409.3 L712.8 1410.6 L713.0 1411.4 L713.4 1411.8 L714.0 1413.0 L715.0 1414.9 L716.0 1415.2 L717.0 1416.4 L718.0 1416.2 L719.0 1415.3 L720.0 1413.9 L721.0 1411.1 L721.8 1410.3 L722.0 1410.4 L722.4 1409.8 L723.0 1408.7 L723.8 1407.8 L724.0 1407.6 L724.6 1409.0 L725.0 1410.2 L725.2 1410.4 L725.8 1410.5 L726.0 1411.0 L727.0 1412.9 L728.0 1414.1 L729.0 1416.1 L730.0 1416.5 L731.0 1415.1 L732.0 1413.6 L733.0 1412.8 L733.6 1411.4 L734.0 1410.3 L734.2 1410.1 L735.0 1409.6 L735.8 1410.8 L736.0 1411.0 L736.4 1411.3 L737.0 1412.8 L738.0 1414.6 L739.0 1414.9 L740.0 1416.5 L741.0 1415.8 L742.0 1416.8 L743.0 1416.8 L744.0 1412.0 L744.4 1409.1 L745.0 1405.3 L745.6 1400.5 L746.0 1398.4 L746.4 1396.0 L747.0 1399.1 L747.2 1400.9 L747.8 1405.8 L748.0 1406.5 L748.4 1409.1 L749.0 1413.6 L750.0 1416.7 L751.0 1416.4 L752.0 1415.9 L753.0 1414.3 L754.0 1411.5 L755.0 1409.2 L755.6 1407.0 L756.0 1405.7 L756.2 1405.0 L757.0 1404.0 L757.8 1405.6 L758.0 1406.4 L758.4 1407.5 L759.0 1408.4 L760.0 1409.8 L761.0 1410.9 L762.0 1411.5 L763.0 1409.5 L764.0 1406.9 L765.0 1403.4 L765.6 1400.2 L766.0 1396.5 L766.2 1394.6 L766.8 1388.5 L767.0 1388.5 L767.6 1388.5 L768.0 1388.5 L768.4 1388.5 L769.0 1394.7 L769.6 1401.3 L770.0 1404.0 L771.0 1407.8 L772.0 1409.9 L773.0 1412.9 L774.0 1414.4 L775.0 1415.5 L776.0 1416.2 L777.0 1416.3 L778.0 1416.0 L779.0 1416.6 L780.0 1416.7 L781.0 1416.8 L782.0 1416.1 L783.0 1417.4 L784.0 1417.0 L785.0 1416.8 L786.0 1417.4 L787.0 1417.8 L788.0 1417.4 L789.0 1417.6 L790.0 1417.8 L791.0 1417.8 L792.0 1418.0 L793.0 1418.2 L794.0 1417.8 L795.0 1417.0 L796.0 1418.1 L797.0 1417.6 L798.0 1417.0 L799.0 1417.3 L800.0 1417.3 L801.0 1416.6 L802.0 1417.4 L803.0 1415.6 L804.0 1415.8 L805.0 1415.1 L806.0 1414.3 L807.0 1413.1 L808.0 1411.3 L809.0 1409.1 L810.0 1405.4 L810.8 1401.7 L811.0 1401.3 L811.4 1396.9 L812.0 1391.3 L812.8 1391.3 L813.0 1391.3 L813.6 1391.3 L814.0 1394.4 L814.2 1396.8 L814.8 1401.1 L815.0 1402.6 L816.0 1406.6 L817.0 1409.1 L818.0 1410.6 L819.0 1412.4 L820.0 1413.8 L821.0 1415.1 L822.0 1415.6 L823.0 1416.5 L824.0 1416.9 L825.0 1415.4 L826.0 1416.4 L827.0 1416.3 L828.0 1415.8 L829.0 1416.1 L830.0 1416.5 L831.0 1415.6 L832.0 1414.7 L833.0 1414.4 L834.0 1413.1 L835.0 1412.8 L836.0 1411.5 L837.0 1409.8 L838.0 1407.8 L838.6 1407.5 L839.0 1406.2 L839.2 1405.6 L840.0 1404.4 L840.8 1405.8 L841.0 1406.6 L841.4 1406.4 L842.0 1406.2 L843.0 1406.7 L844.0 1407.0 L845.0 1406.0 L846.0 1406.2 L847.0 1404.6 L848.0 1402.9 L849.0 1396.8 L849.6 1392.9 L850.0 1391.3 L850.2 1391.3 L851.0 1391.4 L851.8 1391.4 L852.0 1391.9 L852.4 1395.1 L853.0 1400.0 L854.0 1404.0 L855.0 1407.3 L856.0 1409.5 L857.0 1411.0 L858.0 1412.1 L859.0 1413.0 L860.0 1413.6 L861.0 1413.9 L862.0 1415.3 L863.0 1416.1 L864.0 1415.7 L865.0 1415.6 L866.0 1416.3 L867.0 1417.6 L868.0 1417.3 L869.0 1417.1 L870.0 1417.1 L871.0 1417.3 L872.0 1417.2 L873.0 1417.7 L874.0 1417.8 L875.0 1416.9 L876.0 1416.5 L877.0 1415.1 L878.0 1413.7 L878.6 1414.4 L879.0 1412.7 L879.2 1411.8 L880.0 1410.4 L880.8 1411.8 L881.0 1411.8 L881.4 1413.0 L882.0 1412.7 L883.0 1414.0 L884.0 1415.0 L885.0 1415.6 L886.0 1417.2 L887.0 1417.3 L888.0 1417.6 L889.0 1417.3 L890.0 1417.4 L891.0 1417.2 L892.0 1417.3 L893.0 1417.2 L894.0 1416.9 L895.0 1417.2 L896.0 1417.0 L897.0 1416.5 L898.0 1416.1 L899.0 1416.5 L900.0 1416.3 L901.0 1414.9 L902.0 1413.8 L903.0 1412.9 L904.0 1412.0 L905.0 1410.8 L906.0 1409.1 L907.0 1407.8 L908.0 1406.6 L909.0 1405.1 L910.0 1403.4 L910.6 1402.2 L911.0 1401.7 L911.2 1401.4 L912.0 1400.2 L912.8 1400.7 L913.0 1400.9 L913.4 1400.5 L914.0 1400.5 L915.0 1400.4 L916.0 1400.2 L917.0 1400.1 L918.0 1399.5 L919.0 1398.2 L920.0 1396.3 L921.0 1393.5 L922.0 1388.2 L922.4 1385.3 L923.0 1383.1 L923.6 1383.6 L924.0 1383.9 L924.4 1384.2 L925.0 1384.4 L925.2 1384.4 L925.8 1390.2 L926.0 1392.8 L926.4 1396.9 L927.0 1400.9 L928.0 1405.1 L929.0 1407.8 L930.0 1409.8 L931.0 1411.6 L932.0 1412.7 L933.0 1413.2 L934.0 1413.9 L935.0 1414.7 L936.0 1415.2 L937.0 1415.2 L938.0 1415.8 L939.0 1416.0 L940.0 1415.8 L941.0 1416.1 L942.0 1416.5 L943.0 1416.6 L944.0 1416.5 L945.0 1416.3 L946.0 1416.8 L947.0 1416.9 L948.0 1417.0 L949.0 1417.0 L950.0 1416.9 L951.0 1416.7 L952.0 1416.8 L953.0 1417.0 L954.0 1416.9 L955.0 1416.3 L956.0 1416.4 L957.0 1415.8 L958.0 1415.1 L958.6 1415.2 L959.0 1415.3 L959.2 1415.0 L960.0 1414.4 L960.8 1414.9 L961.0 1414.5 L961.4 1415.0 L962.0 1415.9 L963.0 1416.5 L964.0 1416.9 L965.0 1417.7 L966.0 1418.1 L967.0 1418.9 L968.0 1419.3 L969.0 1420.0 L970.0 1419.9 L971.0 1419.9 L972.0 1419.7 L973.0 1419.6 L974.0 1420.0 L975.0 1420.2 L976.0 1420.1 L977.0 1420.4 L978.0 1420.4 L979.0 1420.5 L980.0 1420.6 L981.0 1420.9 L982.0 1421.2 L983.0 1421.5 L984.0 1421.5 L985.0 1421.3 L986.0 1421.2 L987.0 1421.5 L988.0 1421.3 L989.0 1421.5 L990.0 1421.6 L991.0 1421.8 L992.0 1422.0 L993.0 1422.3 L994.0 1422.7 L995.0 1422.8 L996.0 1423.0 L997.0 1422.6 L998.0 1422.9 L999.0 1423.2 L1000.0 1422.8 L1001.0 1423.5 L1002.0 1423.2 L1003.0 1422.7 L1004.0 1423.4 L1005.0 1423.4 L1006.0 1423.3 L1007.0 1423.3 L1008.0 1423.8 L1009.0 1423.9 L1010.0 1423.8 L1011.0 1424.1 L1012.0 1423.8 L1013.0 1423.7 L1014.0 1423.7 L1015.0 1423.6 L1016.0 1424.0 L1017.0 1424.0 L1018.0 1423.8 L1019.0 1423.8 L1020.0 1423.5 L1021.0 1423.8 L1022.0 1424.0 L1023.0 1424.3 L1024.0 1424.2 L1025.0 1424.4 L1026.0 1424.1 L1027.0 1424.2 L1028.0 1424.3 L1029.0 1424.1 L1030.0 1424.4 L1031.0 1424.5 L1032.0 1424.5 L1033.0 1424.4 L1034.0 1425.0 L1035.0 1424.8 L1036.0 1424.6 L1037.0 1424.4 L1038.0 1424.7 L1039.0 1424.6 L1040.0 1424.5 L1041.0 1424.4 L1042.0 1424.8 L1043.0 1424.8 L1044.0 1425.1 L1045.0 1425.0 L1046.0 1424.7 L1047.0 1425.0 L1048.0 1425.0 L1049.0 1424.9 L1050.0 1424.8 L1051.0 1424.7 L1052.0 1425.0 L1053.0 1424.9 L1054.0 1425.1 L1055.0 1425.2 L1056.0 1425.1 L1057.0 1425.2 L1058.0 1425.1 L1059.0 1424.9 L1060.0 1424.9 L1061.0 1424.7 L1062.0 1425.1 L1063.0 1425.3 L1064.0 1425.1 L1065.0 1425.3 L1066.0 1425.3 L1067.0 1425.5 L1068.0 1425.1 L1069.0 1425.1 L1070.0 1424.9 L1071.0 1424.8 L1072.0 1425.2 L1073.0 1424.7 L1074.0 1424.6 L1075.0 1424.9 L1076.0 1425.1 L1077.0 1424.9 L1078.0 1424.4 L1079.0 1424.2 L1080.0 1424.6 L1081.0 1424.9 L1082.0 1425.1 L1083.0 1424.8 L1084.0 1425.1 L1085.0 1424.9 L1086.0 1424.9 L1087.0 1424.7 L1088.0 1425.0 L1089.0 1424.6 L1090.0 1423.9 L1091.0 1423.9 L1092.0 1424.0 L1093.0 1424.0 L1094.0 1423.7 L1095.0 1423.5 L1096.0 1423.1 L1097.0 1423.0 L1098.0 1422.8 L1099.0 1422.6 L1100.0 1422.7 L1101.0 1421.6 L1102.0 1421.3 L1103.0 1420.8 L1104.0 1419.7 L1105.0 1418.9 L1106.0 1417.9 L1107.0 1416.5 L1108.0 1415.3 L1109.0 1413.9 L1110.0 1411.7 L1111.0 1408.5 L1111.8 1404.5 L1112.0 1402.9 L1112.4 1399.8 L1113.0 1397.4 L1113.8 1397.4 L1114.0 1397.4 L1114.6 1397.4 L1115.0 1398.6 L1115.2 1399.8 L1115.8 1404.1 L1116.0 1405.2 L1117.0 1409.6 L1118.0 1412.5 L1119.0 1414.2 L1120.0 1416.1 L1121.0 1417.5 L1122.0 1418.6 L1123.0 1419.2 L1124.0 1420.0 L1125.0 1420.9 L1126.0 1421.7 L1127.0 1421.7 L1128.0 1422.5 L1129.0 1422.9 L1130.0 1423.0 L1131.0 1423.5 L1132.0 1423.8 L1133.0 1424.1 L1134.0 1423.9 L1135.0 1423.9 L1136.0 1424.3 L1137.0 1424.8 L1138.0 1424.8 L1139.0 1424.7 L1140.0 1424.6 L1141.0 1424.3 L1142.0 1424.7 L1143.0 1424.7 L1144.0 1425.0 L1145.0 1424.7 L1146.0 1424.9 L1147.0 1424.6 L1148.0 1424.6 L1149.0 1424.7 L1150.0 1424.2 L1151.0 1424.0 L1152.0 1423.4 L1153.0 1422.3 L1154.0 1421.2 L1155.0 1419.4 L1156.0 1416.0 L1157.0 1410.7 L1157.6 1404.9 L1158.0 1397.3 L1158.2 1395.1 L1159.0 1395.1 L1159.8 1395.1 L1160.0 1397.3 L1160.4 1405.0 L1161.0 1410.8 L1162.0 1416.4 L1163.0 1419.9 L1164.0 1421.6 L1165.0 1422.9 L1166.0 1423.4 L1167.0 1423.9 L1168.0 1424.3 L1169.0 1424.9 L1170.0 1424.8 L1171.0 1424.9 L1172.0 1425.0 L1173.0 1425.3 L1174.0 1425.2 L1175.0 1425.1 L1176.0 1426.1 L1177.0 1426.0 L1178.0 1425.6 L1179.0 1425.9 L1180.0 1425.6 L1181.0 1425.3 L1182.0 1426.0 L1183.0 1426.3 L1184.0 1426.0 L1185.0 1425.8 L1186.0 1426.0 L1187.0 1426.6 L1188.0 1426.5 L1189.0 1426.6 L1190.0 1426.1 L1191.0 1425.7 L1192.0 1426.0 L1193.0 1426.4 L1194.0 1426.3 L1195.0 1426.3 L1196.0 1426.6 L1197.0 1426.3 L1198.0 1426.6 L1199.0 1426.7 L1200.0 1426.4 L1201.0 1426.4 L1202.0 1426.4 L1203.0 1426.5 L1204.0 1426.2 L1205.0 1426.2 L1206.0 1426.3 L1207.0 1426.4 L1208.0 1426.4 L1209.0 1426.5 L1210.0 1426.4 L1211.0 1426.3 L1212.0 1426.6 L1213.0 1426.4 L1214.0 1426.3 L1215.0 1426.2 L1216.0 1426.0 L1217.0 1426.3 L1218.0 1426.4 L1219.0 1426.4 L1220.0 1426.5 L1221.0 1426.5 L1222.0 1426.7 L1223.0 1427.0 L1224.0 1426.9 L1225.0 1426.7 L1226.0 1427.0 L1227.0 1427.0 L1228.0 1426.4 L1229.0 1426.8 L1230.0 1426.8 L1231.0 1426.9 L1232.0 1426.5 L1233.0 1426.3 L1234.0 1426.3 L1235.0 1426.5 L1236.0 1426.3 L1237.0 1426.3 L1238.0 1426.6 L1239.0 1426.5 L1240.0 1426.6 L1241.0 1426.4 L1242.0 1426.1 L1243.0 1426.3 L1244.0 1426.4 L1245.0 1426.2 L1246.0 1426.6 L1247.0 1426.8 L1248.0 1427.0 L1249.0 1426.7 L1250.0 1426.4 L1251.0 1426.5 L1252.0 1426.6 L1253.0 1426.6 L1254.0 1426.5 L1255.0 1426.3 L1256.0 1426.3 L1257.0 1426.5 L1258.0 1426.4 L1259.0 1426.9 L1260.0 1426.8 L1261.0 1426.9 L1262.0 1426.7 L1263.0 1426.7 L1264.0 1426.5 L1265.0 1426.5 L1266.0 1426.2 L1267.0 1425.9 L1268.0 1426.6 L1269.0 1426.4 L1270.0 1426.6 L1271.0 1426.6 L1272.0 1426.5 L1273.0 1426.8 L1274.0 1426.6 L1275.0 1426.7 L1276.0 1426.6 L1277.0 1426.8 L1278.0 1426.9 L1279.0 1426.5 L1280.0 1426.0 L1281.0 1425.2 L1282.0 1424.6 L1283.0 1423.6 L1284.0 1422.2 L1285.0 1421.5 L1285.6 1421.0 L1286.0 1420.6 L1286.2 1420.4 L1287.0 1419.8 L1287.8 1420.2 L1288.0 1420.9 L1288.4 1420.9 L1289.0 1421.2 L1290.0 1421.9 L1291.0 1422.8 L1292.0 1423.8 L1293.0 1425.0 L1294.0 1425.9 L1295.0 1426.3 L1296.0 1426.4 L1297.0 1426.3 L1298.0 1426.5 L1299.0 1426.8 L1300.0 1426.7 L1301.0 1427.1 L1302.0 1427.5 L1303.0 1427.3 L1304.0 1426.6 L1305.0 1427.0 L1306.0 1426.9 L1307.0 1427.0 L1308.0 1427.2 L1309.0 1426.8 L1310.0 1426.9 L1311.0 1426.9 L1312.0 1426.7 L1313.0 1426.9 L1314.0 1426.8 L1315.0 1426.7 L1316.0 1427.2 L1317.0 1427.0 L1318.0 1427.3 L1319.0 1427.0 L1320.0 1427.0 L1321.0 1425.8 L1322.0 1424.9 L1323.0 1424.2 L1324.0 1422.6 L1325.0 1421.9 L1326.0 1420.8 L1327.0 1420.1 L1328.0 1419.0 L1328.4 1418.4 L1329.0 1417.5 L1329.6 1417.7 L1330.0 1417.0 L1330.4 1416.5 L1331.0 1416.8 L1331.2 1417.0 L1331.8 1417.7 L1332.0 1417.6 L1332.4 1418.4 L1333.0 1419.0 L1334.0 1420.3 L1335.0 1420.8 L1336.0 1421.9 L1337.0 1422.9 L1338.0 1423.9 L1339.0 1424.8 L1340.0 1425.9 L1341.0 1426.8 L1342.0 1426.6 L1343.0 1426.3 L1344.0 1426.8 L1345.0 1426.8 L1346.0 1427.1 L1347.0 1427.3 L1348.0 1427.2 L1349.0 1426.8 L1350.0 1426.9 L1351.0 1426.8 L1352.0 1427.2 L1353.0 1426.8 L1354.0 1427.2 L1355.0 1426.8 L1356.0 1426.8 L1357.0 1426.7 L1358.0 1426.7 L1359.0 1426.8 L1360.0 1427.1 L1361.0 1427.0 L1362.0 1427.3 L1363.0 1427.7 L1364.0 1427.5 L1365.0 1427.2 L1366.0 1427.2 L1367.0 1427.2 L1368.0 1427.1 L1369.0 1427.5 L1370.0 1427.7 L1371.0 1428.0 L1372.0 1427.8 L1373.0 1427.0 L1374.0 1427.1 L1375.0 1427.4 L1376.0 1427.2 L1377.0 1427.1 L1378.0 1427.4 L1379.0 1427.4 L1380.0 1427.1 L1381.0 1427.1 L1382.0 1426.5 L1383.0 1426.8 L1384.0 1426.8 L1385.0 1427.0 L1386.0 1426.9 L1387.0 1426.9 L1388.0 1427.0 L1389.0 1427.8 L1390.0 1427.4 L1391.0 1427.1 L1392.0 1427.1 L1393.0 1427.5 L1394.0 1427.7 L1395.0 1427.7 L1396.0 1427.5 L1397.0 1427.5 L1398.0 1427.3 L1399.0 1427.3 L1400.0 1427.2 L1401.0 1427.0 L1402.0 1426.9 L1403.0 1427.6 L1404.0 1427.7 L1405.0 1427.4 L1406.0 1427.4 L1407.0 1427.4 L1408.0 1427.7 L1409.0 1427.6 L1410.0 1427.5 L1411.0 1427.7 L1412.0 1427.7 L1413.0 1427.5 L1414.0 1427.4 L1415.0 1427.5 L1416.0 1427.2 L1417.0 1427.1 L1418.0 1427.6 L1419.0 1427.8 L1420.0 1428.0 L1421.0 1427.7 L1422.0 1427.6 L1423.0 1427.5 L1424.0 1427.5 L1425.0 1427.9 L1426.0 1427.7 L1427.0 1428.0 L1428.0 1427.7 L1429.0 1427.8 L1430.0 1428.2 L1431.0 1427.8 L1432.0 1427.6 L1433.0 1427.5 L1434.0 1427.2 L1435.0 1427.4 L1436.0 1427.4 L1437.0 1428.0 L1438.0 1427.8 L1439.0 1427.3 L1440.0 1427.7 L1441.0 1428.0 L1442.0 1427.9 L1443.0 1427.9 L1444.0 1428.0 L1445.0 1427.8 L1446.0 1427.8 L1447.0 1427.8 L1448.0 1428.2 L1449.0 1428.4 L1450.0 1428.2 L1451.0 1427.7 L1452.0 1428.0 L1453.0 1427.9 L1454.0 1428.1 L1455.0 1428.0 L1456.0 1428.0 L1457.0 1428.0 L1458.0 1427.8 L1459.0 1427.6 L1460.0 1428.2 L1461.0 1427.8 L1462.0 1428.0 L1463.0 1428.0 L1464.0 1428.0 L1465.0 1427.9 L1466.0 1426.5 L1467.0 1425.9 L1468.0 1424.5 L1469.0 1423.7 L1470.0 1423.0 L1471.0 1422.3 L1472.0 1421.5 L1473.0 1420.1 L1474.0 1419.0 L1475.0 1418.0 L1475.3 1417.6 L1475.9 1416.9 L1476.0 1416.7 L1476.5 1416.7 L1477.0 1416.6 L1477.3 1416.4 L1478.0 1417.2 L1478.1 1417.0 L1478.7 1417.2 L1479.0 1417.3 L1479.3 1417.7 L1480.0 1418.7 L1481.0 1420.0 L1482.0 1420.6 L1483.0 1421.8 L1484.0 1422.6 L1485.0 1423.7 L1486.0 1424.7 L1487.0 1425.9 L1488.0 1426.4 L1489.0 1427.2 L1490.0 1428.0 L1491.0 1427.9 L1492.0 1428.0 L1493.0 1428.1 L1494.0 1427.7 L1495.0 1427.7 L1496.0 1428.4 L1497.0 1428.4 L1498.0 1428.2 L1499.0 1427.8 L1500.0 1427.7 L1501.0 1428.1 L1502.0 1428.3 L1503.0 1428.4 L1504.0 1428.5 L1505.0 1428.3 L1506.0 1428.7 L1507.0 1428.3 L1508.0 1428.4 L1509.0 1428.3 L1510.0 1428.0 L1511.0 1428.3 L1512.0 1428.3 L1513.0 1428.5 L1514.0 1428.8 L1515.0 1428.7 L1516.0 1428.4"/>
</g>
</svg>
</body>
</html>
